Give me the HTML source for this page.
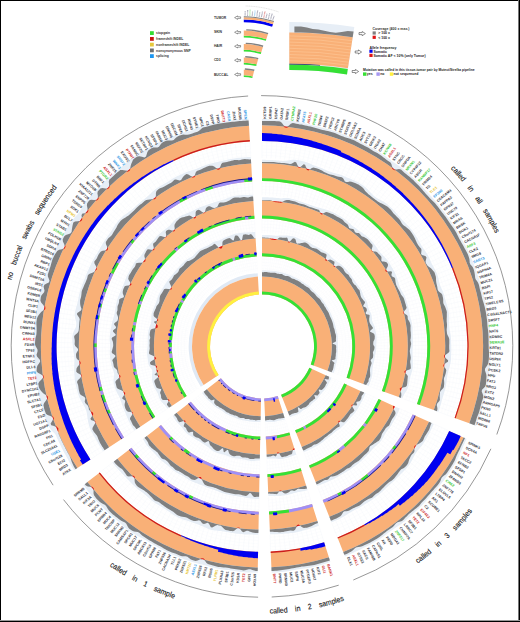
<!DOCTYPE html>
<html><head><meta charset="utf-8"><title>figure</title>
<style>
html,body{margin:0;padding:0;background:#fff}
body{width:520px;height:622px;overflow:hidden;position:relative;font-family:"Liberation Sans",sans-serif}
svg{position:absolute;left:0;top:0;display:block}
svg text{font-family:"Liberation Sans",sans-serif}
.bd{position:absolute;background:#000}
</style></head><body>
<svg width="520" height="622" viewBox="0 0 520 622">
<defs></defs>
<rect width="520" height="622" fill="#fff"/>
<g id="legend"><rect x="150" y="31.2" width="3.8" height="3.8" fill="#33DD33"/>
<text x="156.1" y="34.3" font-size="3.35" font-weight="bold" fill="#333">stopgain</text>
<rect x="150" y="37" width="3.8" height="3.8" fill="#C81414"/>
<text x="156.1" y="40.1" font-size="3.35" font-weight="bold" fill="#333">frameshift INDEL</text>
<rect x="150" y="42.7" width="3.8" height="3.8" fill="#E6C83C"/>
<text x="156.1" y="45.8" font-size="3.35" font-weight="bold" fill="#333">nonframeshift INDEL</text>
<rect x="150" y="48.5" width="3.8" height="3.8" fill="#707070"/>
<text x="156.1" y="51.6" font-size="3.35" font-weight="bold" fill="#333">nonsynonymous SNP</text>
<rect x="150" y="54.2" width="3.8" height="3.8" fill="#1E96F0"/>
<text x="156.1" y="57.3" font-size="3.35" font-weight="bold" fill="#333">splicing</text>
<text x="213.9" y="18.6" font-size="3.4" font-weight="bold" fill="#333">TUMOR</text>
<path d="M234.6 17.6L237.6 15.9L237.6 16.8L240.6 16.8L240.6 18.4L237.6 18.4L237.6 19.4Z" fill="#fff" stroke="#222" stroke-width="0.45"/>
<text x="213.9" y="33.2" font-size="3.4" font-weight="bold" fill="#333">SKIN</text>
<path d="M234.6 32.3L237.6 30.5L237.6 31.5L240.6 31.5L240.6 33.1L237.6 33.1L237.6 34Z" fill="#fff" stroke="#222" stroke-width="0.45"/>
<text x="213.9" y="47.2" font-size="3.4" font-weight="bold" fill="#333">HAIR</text>
<path d="M234.6 46.3L237.6 44.5L237.6 45.5L240.6 45.5L240.6 47.1L237.6 47.1L237.6 48Z" fill="#fff" stroke="#222" stroke-width="0.45"/>
<text x="213.9" y="61.2" font-size="3.4" font-weight="bold" fill="#333">CD3</text>
<path d="M234.6 60.3L237.6 58.5L237.6 59.5L240.6 59.5L240.6 61.1L237.6 61.1L237.6 62Z" fill="#fff" stroke="#222" stroke-width="0.45"/>
<text x="213.9" y="75.5" font-size="3.4" font-weight="bold" fill="#333">BUCCAL</text>
<path d="M234.6 74.5L237.6 72.8L237.6 73.7L240.6 73.7L240.6 75.3L237.6 75.3L237.6 76.2Z" fill="#fff" stroke="#222" stroke-width="0.45"/>
<path d="M243.8 19.4A92.1 92.1 0 0 1 273 24.2L272.1 26.8A89.3 89.3 0 0 0 243.8 22.2Z" fill="#0000F0"/>
<path d="M243.8 17.2A94.3 94.3 0 0 1 273.7 22.1L273 24.2A92.1 92.1 0 0 0 243.8 19.4Z" fill="#F9B077"/>
<path d="M243.8 16.2A95.3 95.3 0 0 1 274 21.1L273.7 22.1A94.3 94.3 0 0 0 243.8 17.2Z" fill="#808080"/>
<path d="M245.1 15.6L245.2 10.8" stroke="#446" stroke-width="1.1" stroke-dasharray="0.8 0.4" opacity="0.5"/>
<path d="M247.5 15.7L247.7 10.1" stroke="#446" stroke-width="1.1" stroke-dasharray="0.8 0.4" opacity="0.5"/>
<path d="M249.8 15.8L250.2 9.4" stroke="#3CCB3C" stroke-width="1.1" stroke-dasharray="0.8 0.4" opacity="0.5"/>
<path d="M252.2 16L252.6 11.2" stroke="#446" stroke-width="1.1" stroke-dasharray="0.8 0.4" opacity="0.5"/>
<path d="M254.5 16.2L255.1 10.6" stroke="#2E9BE6" stroke-width="1.1" stroke-dasharray="0.8 0.4" opacity="0.5"/>
<path d="M256.8 16.5L257.7 10.1" stroke="#446" stroke-width="1.1" stroke-dasharray="0.8 0.4" opacity="0.5"/>
<path d="M259.1 16.8L259.9 12.1" stroke="#446" stroke-width="1.1" stroke-dasharray="0.8 0.4" opacity="0.5"/>
<path d="M261.4 17.2L262.5 11.7" stroke="#446" stroke-width="1.1" stroke-dasharray="0.8 0.4" opacity="0.5"/>
<path d="M263.7 17.7L265.1 11.4" stroke="#C81E1E" stroke-width="1.1" stroke-dasharray="0.8 0.4" opacity="0.5"/>
<path d="M266 18.2L267.1 13.5" stroke="#446" stroke-width="1.1" stroke-dasharray="0.8 0.4" opacity="0.5"/>
<path d="M268.3 18.8L269.7 13.4" stroke="#446" stroke-width="1.1" stroke-dasharray="0.8 0.4" opacity="0.5"/>
<path d="M270.6 19.4L272.3 13.3" stroke="#446" stroke-width="1.1" stroke-dasharray="0.8 0.4" opacity="0.5"/>
<path d="M272.8 20.1L274.2 15.5" stroke="#446" stroke-width="1.1" stroke-dasharray="0.8 0.4" opacity="0.5"/>
<path d="M245.6 6A105.5 105.5 0 0 1 279 12.1" fill="none" stroke="#bbb" stroke-width="0.4" stroke-dasharray="1.2 0.5"/>
<path d="M243.8 35.8A75.7 75.7 0 0 1 266.3 39.2L265.8 40.8A74 74 0 0 0 243.8 37.5Z" fill="#35E035"/>
<path d="M243.8 30.6A80.9 80.9 0 0 1 267.9 34.3L266.3 39.2A75.7 75.7 0 0 0 243.8 35.8Z" fill="#F9B077"/>
<path d="M246.3 29.2A82.3 82.3 0 0 1 268.3 32.9L267.9 34.3A80.9 80.9 0 0 0 246.2 30.6Z" fill="#808080"/>
<path d="M243.8 49.8A61.7 61.7 0 0 1 261.3 52.3L260.8 54A60 60 0 0 0 243.8 51.5Z" fill="#35E035"/>
<path d="M243.8 44.1A67.4 67.4 0 0 1 262.9 46.9L261.3 52.3A61.7 61.7 0 0 0 243.8 49.8Z" fill="#F9B077"/>
<path d="M245.8 42.7A68.8 68.8 0 0 1 263.3 45.5L262.9 46.9A67.4 67.4 0 0 0 245.7 44.1Z" fill="#808080"/>
<path d="M243.8 62.7A48.8 48.8 0 0 1 256.7 64.4L256.2 66.1A47.1 47.1 0 0 0 243.8 64.4Z" fill="#35E035"/>
<path d="M243.8 57.4A54.1 54.1 0 0 1 258.1 59.3L256.7 64.4A48.8 48.8 0 0 0 243.8 62.7Z" fill="#F9B077"/>
<path d="M245.3 56A55.5 55.5 0 0 1 258.4 58L258.1 59.3A54.1 54.1 0 0 0 245.2 57.4Z" fill="#808080"/>
<path d="M243.8 75.3A36.2 36.2 0 0 1 252.7 76.4L252.3 78.1A34.5 34.5 0 0 0 243.8 77Z" fill="#35E035"/>
<path d="M243.8 69.7A41.8 41.8 0 0 1 254.1 71L252.7 76.4A36.2 36.2 0 0 0 243.8 75.3Z" fill="#F9B077"/>
<path d="M244.9 68.3A43.2 43.2 0 0 1 254.5 69.6L254.1 71A41.8 41.8 0 0 0 244.8 69.7Z" fill="#808080"/>
<path d="M289.3 22A425 425 0 0 1 354.3 27L347 74.4A377 377 0 0 0 289.3 70Z" fill="#E7EEF6"/>
<path d="M289.3 32.4A414.6 414.6 0 0 1 352.7 37.3L347.9 68.3A383.2 383.2 0 0 0 289.3 63.8Z" fill="#F9B077"/>
<path d="M289.3 60.7A386.3 386.3 0 0 1 348.4 65.2" fill="none" stroke="#FFD0A4" stroke-width="0.45"/>
<path d="M289.3 57.6A389.4 389.4 0 0 1 348.9 62.2" fill="none" stroke="#FFD0A4" stroke-width="0.45"/>
<path d="M289.3 54.5A392.5 392.5 0 0 1 349.3 59.1" fill="none" stroke="#FFD0A4" stroke-width="0.45"/>
<path d="M289.3 51.4A395.6 395.6 0 0 1 349.8 56.1" fill="none" stroke="#FFD0A4" stroke-width="0.45"/>
<path d="M289.3 48.3A398.7 398.7 0 0 1 350.3 53" fill="none" stroke="#FFD0A4" stroke-width="0.45"/>
<path d="M289.3 45.2A401.8 401.8 0 0 1 350.8 49.9" fill="none" stroke="#FFD0A4" stroke-width="0.45"/>
<path d="M289.3 42.1A404.9 404.9 0 0 1 351.2 46.9" fill="none" stroke="#FFD0A4" stroke-width="0.45"/>
<path d="M289.3 39A408 408 0 0 1 351.7 43.8" fill="none" stroke="#FFD0A4" stroke-width="0.45"/>
<path d="M289.3 35.9A411.1 411.1 0 0 1 352.2 40.7" fill="none" stroke="#FFD0A4" stroke-width="0.45"/>
<path d="M294.4 26.6L301 26.4L306.9 27.6L312.7 28.9L318.5 29.6L324.3 30.7L330 32L335.8 32.8L341.7 32.1L347.8 30.9L353.6 31.4L352.7 37.3L347 36.4L341.3 35.7L335.5 35L329.8 34.4L324 33.9L318.2 33.4L312.4 33L306.7 32.8L300.9 32.6L294.4 32.4Z" fill="#808080"/>
<path d="M289.3 64.4A382.6 382.6 0 0 1 347.8 68.9L347 74.4A377 377 0 0 0 289.3 70Z" fill="#35E035"/>
<path d="M289.3 63.7A383.3 383.3 0 0 1 320 64.9L320 65.6A382.6 382.6 0 0 0 289.3 64.4Z" fill="#10205a"/>
<path d="M359 32.6L362.2 32.6L362.2 31.5L365.4 33.6L362.2 35.7L362.2 34.6L359 34.6Z" fill="#fff" stroke="#222" stroke-width="0.5"/>
<path d="M355.2 51L358.4 51L358.4 49.9L361.6 52L358.4 54.1L358.4 53L355.2 53Z" fill="#fff" stroke="#222" stroke-width="0.5"/>
<path d="M352.2 70.5L355.4 70.5L355.4 69.4L358.6 71.5L355.4 73.6L355.4 72.5L352.2 72.5Z" fill="#fff" stroke="#222" stroke-width="0.5"/>
<text x="372.5" y="29.9" font-size="3.5" font-weight="bold" fill="#333">Coverage (400 x max.)</text>
<rect x="372.6" y="31.4" width="3.2" height="3.2" fill="#808080"/>
<text x="378.2" y="34.4" font-size="3.5" font-weight="bold" fill="#222">&gt; 100 x</text>
<rect x="372.6" y="35.7" width="3.2" height="3.2" fill="#E01515"/>
<text x="378.2" y="38.7" font-size="3.5" font-weight="bold" fill="#222">&lt; 100 x</text>
<text x="369.4" y="48.6" font-size="3.5" font-weight="bold" fill="#222">Allele frequency</text>
<rect x="369.4" y="49.6" width="3.2" height="3.2" fill="#0000F0"/>
<text x="373.4" y="52.6" font-size="3.5" font-weight="bold" fill="#222">Somatic</text>
<rect x="369.4" y="53.8" width="3.2" height="3.2" fill="#E01515"/>
<text x="373.4" y="56.8" font-size="3.5" font-weight="bold" fill="#222">Somatic AF &lt; 10% (only Tumor)</text>
<text x="363" y="70.8" font-size="3.5" font-weight="bold" fill="#222" textLength="111.5" lengthAdjust="spacingAndGlyphs">Mutation was called in this tissue-tumor pair by Mutect/Strelka pipeline</text>
<rect x="363" y="72.4" width="3.4" height="3.4" fill="#35E035"/>
<text x="366.8" y="75.4" font-size="3.5" font-weight="bold" fill="#222">yes</text>
<rect x="376.4" y="72.4" width="3.4" height="3.4" fill="#A596F2"/>
<text x="380.2" y="75.4" font-size="3.5" font-weight="bold" fill="#222">no</text>
<rect x="389.8" y="72.4" width="3.4" height="3.4" fill="#FFF040"/>
<text x="393.6" y="75.4" font-size="3.5" font-weight="bold" fill="#222">not sequenced</text></g>
<g id="main"><path d="M262 158L262 141.6M266.5 158.1L266.9 141.7M271.1 158.2L271.9 141.8M275.6 158.5L276.8 142.1M280.1 158.9L281.7 142.5M284.6 159.4L286.6 143.1M289.1 160L291.5 143.7M293.6 160.7L296.4 144.5M298.1 161.5L301.2 145.4M302.5 162.4L306 146.4M306.9 163.4L310.8 147.5M311.3 164.6L315.6 148.7M315.7 165.8L320.4 150.1M320 167.2L325.1 151.6M324.3 168.6L329.7 153.1M328.6 170.2L334.4 154.8M332.8 171.8L339 156.6M337 173.6L343.5 158.5M341.1 175.4L348 160.5M345.2 177.4L352.5 162.7M349.3 179.4L356.9 164.9M353.3 181.6L361.2 167.2M357.2 183.8L365.5 169.7M361.1 186.2L369.7 172.2M364.9 188.6L373.9 174.9M368.7 191.1L378 177.6M372.4 193.7L382 180.4M376 196.4L386 183.4M379.6 199.2L389.8 186.4M383.1 202.1L393.7 189.5M386.6 205L397.4 192.7M389.9 208.1L401.1 196M393.2 211.2L404.6 199.4M396.4 214.4L408.1 202.9M399.6 217.7L411.5 206.5M402.6 221L414.9 210.1M405.6 224.4L418.1 213.8M408.5 227.9L421.3 217.6M411.3 231.5L424.3 221.5M414 235.1L427.3 225.4M416.7 238.8L430.1 229.5M419.2 242.6L432.9 233.5M421.7 246.4L435.6 237.7M424 250.3L438.1 241.9M426.3 254.2L440.6 246.2M428.5 258.2L443 250.5M430.5 262.2L445.2 254.9M432.5 266.3L447.4 259.3M434.4 270.4L449.4 263.8M436.2 274.6L451.3 268.3M437.9 278.8L453.2 272.9M439.4 283.1L454.9 277.5M440.9 287.3L456.5 282.2M442.3 291.7L458 286.9M443.5 296L459.3 291.6M444.7 300.4L460.6 296.4M445.8 304.8L461.8 301.2M446.7 309.3L462.8 306M447.5 313.7L463.7 310.9M448.3 318.2L464.5 315.7M448.9 322.7L465.2 320.6M449.4 327.2L465.7 325.5M449.8 331.7L466.2 330.4M450.1 336.2L466.5 335.4M450.3 340.8L466.7 340.3M450.4 345.3L466.8 345.2M450.4 349.8L466.8 350.1M450.2 354.4L466.6 355.1M450 358.9L466.3 360M449.6 363.4L466 364.9M449.2 367.9L465.5 369.8M448.6 372.4L464.8 374.7M447.9 376.9L464.1 379.6M447.1 381.4L463.2 384.4M446.2 385.8L462.3 389.3M445.2 390.3L461.2 394.1M444.1 394.7L460 398.9M442.9 399L458.6 403.6M441.6 403.4L457.2 408.3M440.2 407.7L455.7 413M438.6 411.9L454 417.7M433.7 423.9L448.7 430.7M431.8 428L446.6 435.1M429.8 432.1L444.4 439.6M427.7 436.1L442.1 443.9M425.5 440.1L439.7 448.2M423.2 444L437.2 452.5M420.8 447.8L434.6 456.7M418.3 451.6L431.9 460.8M415.7 455.4L429.1 464.9M413 459L426.2 468.8M410.3 462.6L423.2 472.8M407.4 466.2L420.1 476.6M404.5 469.6L416.9 480.4M401.5 473L413.6 484.1M398.4 476.4L410.3 487.7M395.2 479.6L406.8 491.2M392 482.8L403.3 494.6M388.7 485.9L399.7 498M385.3 488.9L396 501.3M381.8 491.8L392.2 504.5M378.3 494.6L388.4 507.5M374.7 497.4L384.5 510.5M371 500.1L380.5 513.4M367.3 502.6L376.4 516.2M363.5 505.1L372.3 518.9M359.6 507.5L368.1 521.6M355.7 509.8L363.9 524.1M351.8 512L359.6 526.5M347.7 514.2L355.2 528.8M343.7 516.2L350.8 530.9M339.6 518.1L346.3 533M335.4 519.9L341.8 535M331.2 521.6L337.2 536.9M319 526L323.9 541.6M314.6 527.3L319.2 543M310.3 528.5L314.5 544.4M305.9 529.6L309.7 545.6M301.4 530.6L304.9 546.7M297 531.5L300 547.6M292.5 532.3L295.2 548.5M288 533L290.3 549.2M283.5 533.6L285.4 549.9M279 534L280.5 550.4M274.5 534.4L275.6 550.7M270 534.6L270.7 551M258.4 534.8L258.1 551.2M253.8 534.6L253.1 551M249.3 534.4L248.2 550.7M244.8 534L243.3 550.3M240.3 533.5L238.4 549.8M235.8 533L233.5 549.2M231.3 532.3L228.6 548.5M226.8 531.5L223.8 547.6M222.4 530.6L218.9 546.6M218 529.6L214.1 545.5M213.6 528.5L209.4 544.3M209.2 527.3L204.6 543M204.9 525.9L199.9 541.6M200.6 524.5L195.2 540M196.3 523L190.6 538.3M192.1 521.3L186 536.6M187.9 519.6L181.4 534.7M183.7 517.8L176.9 532.7M179.6 515.8L172.4 530.6M175.6 513.8L168 528.4M171.6 511.7L163.7 526.1M167.6 509.4L159.4 523.6M163.7 507.1L155.1 521.1M159.9 504.7L151 518.5M156.1 502.2L146.9 515.8M152.4 499.6L142.8 512.9M148.7 496.9L138.8 510M145.1 494.2L134.9 507M141.6 491.3L131.1 503.9M138.1 488.4L127.4 500.7M134.8 485.3L123.7 497.4M131.4 482.2L120.1 494.1M128.2 479.1L116.6 490.6M125.1 475.8L113.1 487.1M122 472.5L109.8 483.4M119 469L106.5 479.7M116.1 465.6L103.4 475.9M113.3 462L100.3 472.1M104.7 450.1L91 459.1M102.3 446.3L88.4 455M99.9 442.4L85.8 450.8M97.6 438.5L83.3 446.5M95.5 434.5L81 442.2M93.4 430.5L78.7 437.8M91.4 426.4L76.6 433.4M89.5 422.3L74.5 428.9M87.8 418.1L72.6 424.3M86.1 413.9L70.8 419.7M84.5 409.6L69.1 415.1M83.1 405.3L67.5 410.5M81.7 401L66 405.8M80.4 396.6L64.6 401M79.3 392.3L63.4 396.2M78.2 387.8L62.2 391.5M77.3 383.4L61.2 386.6M76.4 378.9L60.3 381.8M75.7 374.5L59.5 376.9M75.1 370L58.8 372M74.6 365.5L58.3 367.1M74.2 361L57.8 362.2M73.9 356.4L57.5 357.3M73.7 351.9L57.3 352.4M73.6 347.4L57.2 347.4M73.6 342.8L57.2 342.5M73.8 338.3L57.4 337.6M74 333.8L57.7 332.7M74.4 329.2L58.1 327.7M74.9 324.7L58.6 322.8M75.4 320.2L59.2 318M76.1 315.7L59.9 313.1M76.9 311.3L60.8 308.2M77.8 306.8L61.8 303.4M78.8 302.4L62.9 298.6M79.9 298L64.1 293.8M81.1 293.6L65.4 289M82.5 289.3L66.8 284.3M83.9 285L68.4 279.7M85.4 280.7L70 275M87 276.5L71.8 270.4M88.8 272.3L73.7 265.9M90.6 268.2L75.7 261.3M92.5 264.1L77.8 256.9M94.6 260L80 252.5M96.7 256L82.3 248.1M98.9 252L84.7 243.8M101.3 248.1L87.3 239.6M103.7 244.3L89.9 235.4M106.2 240.5L92.6 231.3M108.8 236.8L95.4 227.3M111.4 233.1L98.3 223.3M114.2 229.5L101.4 219.4M117.1 226L104.5 215.5M120 222.6L107.7 211.8M123 219.2L110.9 208.1M126.1 215.9L114.3 204.5M129.3 212.6L117.8 201M132.6 209.5L121.3 197.6M135.9 206.4L124.9 194.2M139.3 203.4L128.6 191M142.8 200.5L132.4 187.8M146.3 197.7L136.3 184.7M150 194.9L140.2 181.8M153.6 192.3L144.2 178.9M157.4 189.7L148.3 176.1M161.2 187.2L152.4 173.4M165 184.9L156.6 170.8M169 182.6L160.9 168.3M172.9 180.4L165.2 165.9M177 178.3L169.5 163.7M181 176.3L174 161.5M185.1 174.4L178.5 159.4M189.3 172.6L183 157.5M193.5 170.9L187.5 155.6M197.8 169.3L192.2 153.9M202 167.8L196.8 152.2M206.4 166.4L201.5 150.7M210.7 165.1L206.2 149.3M215.1 163.9L211 148.1M219.5 162.9L215.8 146.9M223.9 161.9L220.6 145.8M228.4 161L225.4 144.9M232.8 160.3L230.3 144.1M237.3 159.6L235.2 143.4M241.8 159.1L240.1 142.8M246.4 158.7L245 142.3M250.9 158.3L249.9 142" fill="none" stroke="#F0F2F8" stroke-width="0.34"/>
<path d="M262 195.4L262 181.7M265.6 195.4L266 181.7M269.3 195.6L269.9 181.9M272.9 195.8L273.9 182.1M276.5 196.1L277.8 182.5M280.1 196.5L281.8 182.9M283.7 197L285.7 183.4M287.3 197.5L289.6 184M290.9 198.2L293.5 184.7M294.5 198.9L297.4 185.6M298 199.8L301.3 186.5M301.5 200.7L305.1 187.4M305 201.7L308.9 188.5M308.5 202.7L312.7 189.7M311.9 203.9L316.5 191M315.4 205.1L320.2 192.3M318.7 206.5L323.9 193.8M322.1 207.9L327.5 195.3M325.4 209.4L331.2 196.9M328.7 210.9L334.7 198.6M331.9 212.6L338.3 200.4M335.1 214.3L341.8 202.3M338.3 216.1L345.2 204.3M341.4 218L348.6 206.3M344.5 219.9L352 208.4M347.5 221.9L355.3 210.6M350.5 224L358.5 212.9M353.4 226.2L361.7 215.3M356.3 228.4L364.8 217.7M359.1 230.7L367.9 220.2M361.8 233.1L370.9 222.8M364.5 235.5L373.8 225.5M367.2 238L376.7 228.2M369.7 240.6L379.5 231M372.3 243.2L382.3 233.9M374.7 245.9L384.9 236.8M377.1 248.7L387.5 239.8M379.4 251.5L390.1 242.8M381.7 254.3L392.5 246M383.9 257.2L394.9 249.1M386 260.2L397.2 252.4M388 263.2L399.4 255.6M390 266.2L401.6 259M391.9 269.3L403.6 262.4M393.7 272.5L405.6 265.8M395.4 275.7L407.5 269.3M397.1 278.9L409.3 272.8M398.7 282.2L411.1 276.4M400.2 285.5L412.7 280M401.6 288.8L414.3 283.6M402.9 292.2L415.7 287.3M404.2 295.6L417.1 291M405.4 299.1L418.4 294.8M406.5 302.5L419.6 298.6M407.5 306L420.7 302.4M408.4 309.5L421.7 306.2M409.3 313.1L422.6 310.1M410 316.6L423.5 313.9M410.7 320.2L424.2 317.8M411.3 323.8L424.8 321.7M411.8 327.4L425.4 325.7M412.2 331L425.8 329.6M412.5 334.6L426.2 333.6M412.8 338.3L426.5 337.5M412.9 341.9L426.6 341.5M413 345.5L426.7 345.4M413 349.2L426.7 349.4M412.9 352.8L426.6 353.4M412.7 356.4L426.3 357.3M412.4 360L426 361.3M412 363.7L425.6 365.2M411.6 367.3L425.1 369.2M411 370.9L424.5 373.1M410.4 374.4L423.8 377M409.7 378L423.1 380.9M408.9 381.6L422.2 384.7M408 385.1L421.2 388.6M407 388.6L420.1 392.4M405.9 392.1L419 396.2M404.8 395.5L417.7 400M403.6 398.9L416.4 403.7M399.6 408.5L412.1 414.2M398.1 411.8L410.4 417.8M396.5 415.1L408.7 421.3M394.8 418.3L406.8 424.8M393 421.5L404.9 428.3M391.2 424.6L402.9 431.7M389.2 427.7L400.8 435.1M387.2 430.7L398.6 438.4M385.2 433.7L396.4 441.7M383 436.7L394 444.9M380.8 439.6L391.6 448M378.6 442.4L389.1 451.1M376.2 445.2L386.6 454.1M373.8 447.9L383.9 457.1M371.3 450.6L381.2 460M368.8 453.2L378.5 462.8M366.2 455.7L375.6 465.6M363.5 458.2L372.7 468.3M360.8 460.6L369.8 470.9M358 462.9L366.7 473.5M355.2 465.2L363.6 476M352.3 467.4L360.5 478.4M349.4 469.6L357.3 480.7M346.4 471.6L354 483M343.3 473.6L350.7 485.2M340.3 475.5L347.3 487.3M337.1 477.4L343.9 489.3M333.9 479.2L340.5 491.2M330.7 480.9L337 493.1M327.5 482.5L333.4 494.8M324.2 484L329.8 496.5M320.8 485.5L326.2 498.1M317.5 486.8L322.5 499.6M307.7 490.3L311.8 503.4M304.2 491.4L308 504.5M300.7 492.4L304.2 505.6M297.2 493.3L300.3 506.6M293.6 494.1L296.5 507.5M290 494.8L292.6 508.2M286.5 495.4L288.7 508.9M282.9 496L284.8 509.5M279.3 496.4L280.8 510M275.6 496.8L276.9 510.4M272 497.1L272.9 510.7M268.4 497.3L269 511M259.1 497.4L258.8 511.1M255.5 497.3L254.9 510.9M251.8 497.1L250.9 510.7M248.2 496.8L247 510.4M244.6 496.4L243 510M241 495.9L239.1 509.5M237.4 495.4L235.2 508.9M233.8 494.7L231.3 508.2M230.3 494L227.4 507.4M226.7 493.2L223.5 506.5M223.2 492.3L219.7 505.6M219.7 491.3L215.8 504.5M216.2 490.3L212.1 503.3M212.8 489.1L208.3 502.1M209.3 487.9L204.6 500.8M205.9 486.6L200.9 499.3M202.6 485.2L197.2 497.8M199.3 483.7L193.6 496.2M196 482.2L190 494.5M192.7 480.6L186.4 492.7M189.5 478.9L182.9 490.9M186.3 477.1L179.5 488.9M183.2 475.2L176.1 486.9M180.1 473.3L172.7 484.8M177.1 471.3L169.4 482.6M174.1 469.2L166.2 480.3M171.2 467L163 478M168.3 464.8L159.8 475.6M165.5 462.5L156.7 473.1M162.7 460.2L153.7 470.5M160 457.8L150.8 467.9M157.4 455.3L147.9 465.1M154.8 452.7L145 462.4M152.2 450.1L142.3 459.5M149.8 447.4L139.6 456.6M147.4 444.7L137 453.6M145 441.9L134.4 450.6M142.8 439.1L132 447.5M135.9 429.5L124.5 437.1M134 426.5L122.4 433.7M132.1 423.4L120.3 430.3M130.3 420.2L118.3 426.9M128.5 417L116.4 423.4M126.9 413.8L114.6 419.9M125.3 410.5L112.9 416.3M123.8 407.2L111.2 412.7M122.4 403.9L109.7 409.1M121 400.5L108.2 405.4M119.8 397.1L106.8 401.7M118.6 393.6L105.6 397.9M117.5 390.2L104.4 394.1M116.5 386.7L103.3 390.3M115.5 383.2L102.3 386.5M114.7 379.6L101.3 382.6M113.9 376.1L100.5 378.8M113.3 372.5L99.8 374.9M112.7 368.9L99.1 370.9M112.2 365.3L98.6 367M111.8 361.7L98.1 363.1M111.5 358.1L97.8 359.1M111.2 354.4L97.5 355.2M111.1 350.8L97.4 351.2M111 347.2L97.3 347.2M111 343.5L97.3 343.3M111.1 339.9L97.5 339.3M111.3 336.3L97.7 335.4M111.6 332.6L98 331.4M112 329L98.4 327.5M112.5 325.4L98.9 323.5M113 321.8L99.5 319.6M113.6 318.3L100.2 315.7M114.4 314.7L101 311.8M115.2 311.1L101.9 307.9M116.1 307.6L102.8 304.1M117 304.1L103.9 300.3M118.1 300.6L105 296.5M119.2 297.2L106.3 292.7M120.5 293.8L107.6 289M121.8 290.4L109.1 285.3M123.2 287L110.6 281.6M124.6 283.7L112.2 278M126.2 280.4L113.9 274.4M127.8 277.1L115.6 270.9M129.5 273.9L117.5 267.4M131.3 270.8L119.4 263.9M133.2 267.6L121.5 260.5M135.1 264.6L123.6 257.1M137.1 261.5L125.8 253.8M139.2 258.6L128 250.6M141.3 255.6L130.4 247.4M143.6 252.7L132.8 244.2M145.8 249.9L135.3 241.2M148.2 247.2L137.9 238.1M150.6 244.4L140.5 235.2M153.1 241.8L143.2 232.3M155.7 239.2L146 229.5M158.3 236.7L148.9 226.7M160.9 234.2L151.8 224M163.7 231.8L154.8 221.4M166.5 229.5L157.8 218.9M169.3 227.2L160.9 216.4M172.2 225L164.1 214M175.1 222.9L167.3 211.7M178.1 220.8L170.5 209.4M181.2 218.8L173.9 207.3M184.3 216.9L177.2 205.2M187.4 215.1L180.7 203.2M190.6 213.3L184.1 201.3M193.8 211.7L187.7 199.4M197.1 210.1L191.2 197.7M200.4 208.5L194.8 196M203.7 207.1L198.5 194.5M207.1 205.7L202.1 193M210.5 204.5L205.8 191.6M213.9 203.3L209.6 190.3M217.4 202.1L213.4 189M220.9 201.1L217.2 187.9M224.4 200.2L221 186.9M227.9 199.3L224.8 185.9M231.5 198.5L228.7 185.1M235.1 197.8L232.6 184.3M238.6 197.2L236.5 183.7M242.2 196.7L240.4 183.1M245.8 196.3L244.4 182.6M249.5 195.9L248.3 182.3M253.1 195.7L252.3 182" fill="none" stroke="#F0F2F8" stroke-width="0.28"/>
<path d="M262 233.1L262 219.1M264.7 233.1L265.1 219.1M267.5 233.2L268.1 219.2M270.2 233.4L271.2 219.4M272.9 233.6L274.2 219.7M275.6 233.9L277.3 220M278.3 234.3L280.3 220.4M281 234.7L283.4 220.9M283.7 235.2L286.4 221.5M286.4 235.7L289.4 222.1M289 236.4L292.4 222.8M291.7 237.1L295.3 223.5M294.3 237.8L298.3 224.4M296.9 238.6L301.2 225.3M299.5 239.5L304.1 226.3M302 240.4L307 227.3M304.6 241.4L309.8 228.4M307.1 242.5L312.7 229.6M309.6 243.6L315.5 230.9M312 244.7L318.2 232.2M314.5 246L321 233.6M316.9 247.3L323.7 235M319.2 248.6L326.3 236.5M321.6 250L328.9 238.1M323.9 251.5L331.5 239.8M326.2 253L334.1 241.5M328.4 254.6L336.6 243.2M330.6 256.2L339 245.1M332.7 257.9L341.5 246.9M334.8 259.6L343.8 248.9M336.9 261.4L346.2 250.9M338.9 263.2L348.4 252.9M340.9 265.1L350.7 255.1M342.8 267L352.8 257.2M344.7 269L355 259.4M346.6 271L357 261.7M348.4 273.1L359 264M350.1 275.2L361 266.4M351.8 277.3L362.9 268.8M353.4 279.5L364.7 271.2M355 281.7L366.5 273.7M356.5 284L368.2 276.2M358 286.3L369.9 278.8M359.4 288.6L371.5 281.4M360.8 290.9L373 284.1M362.1 293.3L374.5 286.8M363.4 295.8L375.9 289.5M364.5 298.2L377.2 292.3M365.7 300.7L378.5 295.1M366.7 303.2L379.7 297.9M367.8 305.8L380.8 300.7M368.7 308.3L381.9 303.6M369.6 310.9L382.9 306.5M370.4 313.5L383.8 309.4M371.2 316.1L384.7 312.4M371.9 318.7L385.4 315.3M372.5 321.4L386.2 318.3M373.1 324.1L386.8 321.3M373.6 326.7L387.4 324.3M374 329.4L387.9 327.3M374.4 332.1L388.3 330.4M374.7 334.9L388.6 333.4M375 337.6L388.9 336.5M375.1 340.3L389.1 339.5M375.2 343L389.2 342.6M375.3 345.7L389.3 345.7M375.3 348.5L389.3 348.7M375.2 351.2L389.2 351.8M375.1 353.9L389 354.8M374.8 356.6L388.8 357.9M374.6 359.4L388.5 361M374.2 362.1L388.1 364M373.8 364.8L387.6 367M373.3 367.4L387.1 370M372.8 370.1L386.5 373M372.2 372.8L385.8 376M371.5 375.4L385.1 379M370.8 378.1L384.2 382M370 380.7L383.3 384.9M369.1 383.3L382.4 387.8M368.2 385.8L381.3 390.7M365.3 393L378 398.8M364.1 395.5L376.7 401.6M362.9 397.9L375.4 404.3M361.6 400.4L373.9 407M360.3 402.7L372.4 409.7M358.9 405.1L370.9 412.3M357.5 407.4L369.3 414.9M356 409.7L367.6 417.5M354.4 411.9L365.8 420M352.8 414.1L364 422.5M351.2 416.3L362.2 424.9M349.5 418.4L360.3 427.3M347.7 420.5L358.3 429.7M345.9 422.6L356.3 432M344 424.6L354.2 434.2M342.1 426.5L352 436.4M340.2 428.4L349.8 438.5M338.2 430.3L347.6 440.6M336.1 432.1L345.3 442.7M334.1 433.8L343 444.6M331.9 435.5L340.6 446.6M329.8 437.2L338.1 448.4M327.6 438.8L335.7 450.2M325.3 440.4L333.1 452M323 441.9L330.6 453.7M320.7 443.3L328 455.3M318.4 444.7L325.3 456.8M316 446L322.7 458.3M313.6 447.3L319.9 459.8M311.1 448.5L317.2 461.1M308.7 449.6L314.4 462.4M306.2 450.7L311.6 463.6M303.6 451.8L308.8 464.8M296.3 454.4L300.5 467.7M293.6 455.2L297.6 468.6M291 455.9L294.6 469.5M288.4 456.6L291.6 470.2M285.7 457.2L288.6 470.9M283 457.7L285.6 471.5M280.4 458.2L282.6 472M277.7 458.6L279.6 472.5M275 459L276.6 472.9M272.2 459.2L273.5 473.2M269.5 459.5L270.4 473.4M266.8 459.6L267.4 473.6M259.8 459.7L259.6 473.7M257.1 459.6L256.5 473.6M254.4 459.4L253.4 473.4M251.7 459.2L250.4 473.2M248.9 458.9L247.3 472.9M246.2 458.6L244.3 472.5M243.5 458.2L241.3 472M240.9 457.7L238.2 471.5M238.2 457.2L235.2 470.9M235.5 456.6L232.2 470.2M232.9 455.9L229.3 469.4M230.2 455.2L226.3 468.6M227.6 454.4L223.4 467.7M225.1 453.5L220.5 466.7M222.5 452.6L217.6 465.7M219.9 451.6L214.7 464.6M217.4 450.6L211.9 463.4M214.9 449.5L209.1 462.2M212.5 448.3L206.3 460.9M210 447.1L203.6 459.5M207.6 445.8L200.9 458.1M205.2 444.5L198.2 456.6M202.9 443.1L195.6 455M200.6 441.6L193 453.4M198.3 440.1L190.4 451.7M196.1 438.5L187.9 449.9M193.9 436.9L185.4 448.1M191.7 435.3L183 446.2M189.6 433.5L180.6 444.3M187.5 431.8L178.3 442.3M185.5 430L176 440.3M183.5 428.1L173.8 438.2M181.5 426.2L171.6 436M179.6 424.2L169.5 433.8M177.8 422.2L167.4 431.6M176 420.2L165.4 429.3M174.2 418.1L163.4 426.9M172.5 415.9L161.5 424.5M167.4 408.8L155.7 416.5M165.9 406.5L154.1 413.9M164.5 404.1L152.5 411.3M163.2 401.8L150.9 408.6M161.9 399.4L149.5 405.9M160.6 397L148.1 403.2M159.4 394.5L146.7 400.4M158.3 392L145.5 397.7M157.2 389.5L144.3 394.8M156.2 387L143.1 392M155.3 384.4L142.1 389.1M154.4 381.8L141.1 386.2M153.6 379.2L140.2 383.3M152.8 376.6L139.3 380.3M152.1 374L138.5 377.4M151.5 371.3L137.8 374.4M150.9 368.7L137.2 371.4M150.4 366L136.6 368.4M150 363.3L136.1 365.4M149.6 360.6L135.7 362.3M149.3 357.9L135.4 359.3M149 355.2L135.1 356.2M148.9 352.4L134.9 353.2M148.7 349.7L134.8 350.1M148.7 347L134.7 347M148.7 344.2L134.7 344M148.8 341.5L134.8 340.9M149 338.8L135 337.9M149.2 336.1L135.2 334.8M149.5 333.4L135.5 331.8M149.8 330.7L135.9 328.7M150.2 328L136.4 325.7M150.7 325.3L136.9 322.7M151.2 322.6L137.5 319.7M151.8 319.9L138.2 316.7M152.5 317.3L139 313.7M153.2 314.7L139.8 310.8M154 312.1L140.7 307.8M154.9 309.5L141.7 304.9M155.8 306.9L142.7 302M156.8 304.4L143.8 299.2M157.8 301.8L145 296.3M158.9 299.3L146.2 293.5M160.1 296.9L147.5 290.8M161.3 294.4L148.9 288M162.6 292L150.3 285.3M163.9 289.7L151.8 282.6M165.3 287.3L153.4 280M166.8 285L155 277.4M168.3 282.7L156.7 274.9M169.8 280.5L158.5 272.3M171.5 278.3L160.3 269.9M173.1 276.1L162.1 267.4M174.8 274L164.1 265.1M176.6 271.9L166.1 262.7M178.4 269.9L168.1 260.4M180.3 267.9L170.2 258.2M182.2 266L172.3 256M184.2 264.1L174.6 253.9M186.2 262.2L176.8 251.8M188.2 260.4L179.1 249.8M190.3 258.7L181.5 247.8M192.4 257L183.9 245.9M194.6 255.3L186.3 244.1M196.8 253.7L188.8 242.3M199.1 252.2L191.3 240.5M201.4 250.7L193.9 238.9M203.7 249.3L196.5 237.3M206 247.9L199.1 235.7M208.4 246.6L201.8 234.2M210.9 245.3L204.5 232.8M213.3 244.1L207.3 231.5M215.8 243L210.1 230.2M218.3 241.9L212.9 229M220.8 240.9L215.7 227.8M223.4 239.9L218.6 226.7M225.9 239L221.5 225.7M228.5 238.2L224.4 224.8M231.2 237.4L227.3 223.9M233.8 236.7L230.3 223.1M236.4 236L233.3 222.4M239.1 235.4L236.3 221.7M241.8 234.9L239.3 221.1M244.5 234.5L242.3 220.6M247.2 234.1L245.3 220.2M249.9 233.8L248.4 219.8M252.6 233.5L251.4 219.5M255.3 233.3L254.5 219.3" fill="none" stroke="#F0F2F8" stroke-width="0.2"/>
<path d="M262 271.3L262 256.8M263.8 271.3L264.2 256.8M265.6 271.4L266.3 256.9M267.4 271.5L268.5 257M269.2 271.6L270.6 257.2M271 271.8L272.8 257.4M272.8 272.1L274.9 257.7M274.6 272.4L277 258.1M276.4 272.7L279.2 258.5M278.1 273.1L281.3 258.9M279.9 273.5L283.4 259.4M281.7 273.9L285.5 259.9M283.4 274.4L287.5 260.5M285.1 274.9L289.6 261.2M286.8 275.5L291.6 261.8M288.5 276.1L293.7 262.6M290.2 276.8L295.7 263.4M291.9 277.5L297.7 264.2M293.5 278.2L299.6 265.1M295.2 279L301.6 266M296.8 279.8L303.5 267M298.4 280.7L305.4 268M299.9 281.6L307.3 269.1M301.5 282.5L309.1 270.2M303 283.5L310.9 271.3M304.5 284.5L312.7 272.5M306 285.5L314.5 273.8M307.5 286.6L316.2 275.1M308.9 287.7L317.9 276.4M310.3 288.9L319.6 277.8M311.6 290.1L321.2 279.2M313 291.3L322.8 280.6M314.3 292.5L324.4 282.1M315.6 293.8L325.9 283.6M316.8 295.1L327.4 285.2M318.1 296.4L328.9 286.8M319.2 297.8L330.3 288.4M320.4 299.2L331.7 290.1M321.5 300.6L333 291.8M322.6 302L334.3 293.5M323.7 303.5L335.6 295.2M324.7 305L336.8 297M325.6 306.5L337.9 298.8M326.6 308.1L339.1 300.7M327.5 309.6L340.1 302.5M328.4 311.2L341.2 304.4M329.2 312.8L342.2 306.4M330 314.5L343.1 308.3M330.7 316.1L344 310.3M331.4 317.8L344.8 312.2M332.1 319.5L345.6 314.3M332.7 321.2L346.4 316.3M333.3 322.9L347.1 318.3M333.9 324.6L347.7 320.4M334.4 326.3L348.3 322.4M334.8 328.1L348.9 324.5M335.2 329.8L349.4 326.6M335.6 331.6L349.8 328.7M336 333.4L350.2 330.9M336.3 335.2L350.6 333M336.5 336.9L350.9 335.1M336.7 338.7L351.1 337.3M336.9 340.5L351.3 339.4M337 342.3L351.5 341.6M337.1 344.2L351.6 343.7M337.1 346L351.6 345.9M337.1 347.8L351.6 348M337 349.6L351.5 350.2M336.9 351.4L351.4 352.3M336.8 353.2L351.2 354.5M336.6 355L351 356.6M336.4 356.8L350.7 358.8M336.1 358.6L350.4 360.9M335.8 360.3L350 363M335.4 362.1L349.6 365.2M335 363.9L349.1 367.3M334.6 365.6L348.6 369.4M334.1 367.4L348 371.4M333.6 369.1L347.4 373.5M333 370.8L346.7 375.5M332.4 372.5L346 377.6M330.4 377.3L343.7 383.3M329.7 378.9L342.8 385.2M328.9 380.6L341.8 387.2M328 382.2L340.8 389.1M327.2 383.7L339.7 391M326.2 385.3L338.6 392.8M325.3 386.8L337.5 394.6M324.3 388.3L336.3 396.4M323.3 389.8L335.1 398.2M322.2 391.3L333.8 400M321.1 392.7L332.5 401.7M320 394.1L331.2 403.4M318.8 395.5L329.8 405M317.6 396.9L328.3 406.6M316.4 398.2L326.9 408.2M315.1 399.5L325.4 409.7M313.8 400.8L323.8 411.3M312.5 402L322.2 412.7M311.1 403.2L320.6 414.2M309.8 404.4L319 415.5M308.3 405.5L317.3 416.9M306.9 406.6L315.6 418.2M305.5 407.7L313.8 419.5M304 408.7L312.1 420.7M302.5 409.7L310.3 421.9M300.9 410.6L308.4 423M299.4 411.5L306.6 424.1M297.8 412.4L304.7 425.2M296.2 413.3L302.8 426.2M294.6 414.1L300.8 427.1M292.9 414.8L298.9 428.1M291.3 415.6L296.9 428.9M289.6 416.2L294.9 429.7M284.7 418L289.1 431.8M283 418.5L287 432.4M281.2 419L284.9 433M279.5 419.4L282.9 433.5M277.7 419.8L280.8 434M275.9 420.2L278.6 434.4M274.2 420.5L276.5 434.8M272.4 420.8L274.4 435.1M270.6 421L272.2 435.4M268.8 421.2L270.1 435.6M267 421.3L267.9 435.8M265.2 421.4L265.8 435.9M260.6 421.5L260.3 436M258.8 421.4L258.1 435.9M256.9 421.3L256 435.8M255.1 421.2L253.8 435.6M253.3 421L251.7 435.4M251.6 420.8L249.5 435.1M249.8 420.5L247.4 434.8M248 420.2L245.3 434.4M246.2 419.8L243.2 434M244.4 419.4L241.1 433.5M242.7 419L239 433M241 418.5L236.9 432.4M239.2 418L234.8 431.8M237.5 417.4L232.8 431.1M235.8 416.8L230.7 430.4M234.1 416.1L228.7 429.6M232.4 415.4L226.7 428.8M230.8 414.7L224.8 427.9M229.2 413.9L222.8 427M227.5 413.1L220.9 426M225.9 412.3L219 425M224.4 411.4L217.1 423.9M222.8 410.5L215.3 422.8M221.3 409.5L213.4 421.7M219.8 408.5L211.6 420.5M218.3 407.5L209.9 419.3M216.8 406.4L208.1 418M215.4 405.3L206.4 416.7M214 404.2L204.7 415.3M212.6 403L203.1 413.9M211.3 401.8L201.5 412.5M210 400.5L199.9 411M208.7 399.3L198.4 409.5M207.4 398L196.9 407.9M206.2 396.6L195.4 406.4M205 395.3L194 404.7M203.8 393.9L192.6 403.1M202.7 392.5L191.3 401.4M199.3 387.7L187.2 395.7M198.3 386.2L186 393.9M197.4 384.7L184.9 392.1M196.5 383.1L183.8 390.2M195.6 381.5L182.8 388.3M194.8 379.9L181.8 386.4M194 378.3L180.9 384.4M193.3 376.6L180 382.5M192.5 375L179.1 380.5M191.9 373.3L178.3 378.5M191.3 371.6L177.6 376.5M190.7 369.9L176.9 374.4M190.1 368.2L176.2 372.4M189.6 366.4L175.6 370.3M189.2 364.7L175.1 368.2M188.7 362.9L174.6 366.1M188.4 361.2L174.1 364M188 359.4L173.7 361.9M187.7 357.6L173.4 359.8M187.5 355.8L173.1 357.6M187.3 354L172.9 355.5M187.1 352.2L172.7 353.3M187 350.4L172.5 351.2M186.9 348.6L172.4 349M186.9 346.8L172.4 346.9M186.9 345L172.4 344.7M187 343.2L172.5 342.5M187.1 341.4L172.6 340.4M187.2 339.6L172.8 338.2M187.4 337.8L173 336.1M187.6 336L173.3 334M187.9 334.2L173.6 331.8M188.2 332.4L174 329.7M188.6 330.6L174.4 327.6M189 328.9L174.9 325.5M189.4 327.1L175.4 323.4M189.9 325.4L176 321.3M190.4 323.6L176.6 319.2M191 321.9L177.3 317.2M191.6 320.2L178 315.2M192.3 318.5L178.8 313.2M193 316.9L179.6 311.2M193.7 315.2L180.5 309.2M194.5 313.6L181.4 307.2M195.3 312L182.4 305.3M196.1 310.4L183.4 303.4M197 308.8L184.4 301.5M197.9 307.2L185.6 299.7M198.9 305.7L186.7 297.8M199.9 304.2L187.9 296M200.9 302.7L189.1 294.3M202 301.3L190.4 292.5M203.1 299.8L191.7 290.8M204.2 298.4L193.1 289.2M205.4 297L194.5 287.5M206.6 295.7L195.9 285.9M207.8 294.4L197.4 284.3M209.1 293.1L198.9 282.8M210.4 291.8L200.4 281.3M211.7 290.6L202 279.8M213.1 289.4L203.7 278.4M214.5 288.2L205.3 277M215.9 287.1L207 275.7M217.3 286L208.7 274.4M218.8 285L210.5 273.1M220.3 283.9L212.2 271.9M221.8 283L214.1 270.7M223.4 282L215.9 269.6M224.9 281.1L217.8 268.5M226.5 280.2L219.6 267.4M228.1 279.4L221.6 266.4M229.7 278.6L223.5 265.5M231.4 277.8L225.4 264.6M233 277.1L227.4 263.7M234.7 276.4L229.4 262.9M236.4 275.8L231.4 262.2M238.1 275.2L233.5 261.5M239.8 274.7L235.5 260.8M241.6 274.1L237.6 260.2M243.3 273.7L239.7 259.6M245.1 273.2L241.8 259.1M246.8 272.8L243.9 258.6M248.6 272.5L246 258.2M250.4 272.2L248.1 257.9M252.2 271.9L250.3 257.6M254 271.7L252.4 257.3M255.8 271.6L254.6 257.1M257.6 271.4L256.7 257" fill="none" stroke="#F0F2F8" stroke-width="0.14"/>
<path d="M262 155.4A191 191 0 0 1 441.1 412.9M262 152.2A194.2 194.2 0 0 1 444.1 414M262 149A197.4 197.4 0 0 1 447.1 415.1M262 145.8A200.6 200.6 0 0 1 450.1 416.2M262 142.6A203.8 203.8 0 0 1 453.1 417.3M436.1 425A191 191 0 0 1 332.2 524M439 426.3A194.2 194.2 0 0 1 333.4 527M441.9 427.6A197.4 197.4 0 0 1 334.5 530M444.8 428.9A200.6 200.6 0 0 1 335.7 533M447.7 430.3A203.8 203.8 0 0 1 336.9 535.9M319.8 528.5A191 191 0 0 1 270.1 537.2M320.7 531.5A194.2 194.2 0 0 1 270.2 540.4M321.7 534.6A197.4 197.4 0 0 1 270.4 543.6M322.7 537.6A200.6 200.6 0 0 1 270.5 546.8M323.6 540.7A203.8 203.8 0 0 1 270.6 550M258.3 537.4A191 191 0 0 1 111.2 463.6M258.3 540.6A194.2 194.2 0 0 1 108.7 465.6M258.2 543.8A197.4 197.4 0 0 1 106.1 467.5M258.1 547A200.6 200.6 0 0 1 103.6 469.5M258.1 550.2A203.8 203.8 0 0 1 101.1 471.5M102.5 451.5A191 191 0 0 1 250.7 155.7M99.9 453.3A194.2 194.2 0 0 1 250.5 152.5M97.2 455.1A197.4 197.4 0 0 1 250.3 149.3M94.5 456.8A200.6 200.6 0 0 1 250.2 146.1M91.9 458.6A203.8 203.8 0 0 1 250 143" fill="none" stroke="#F5F7FB" stroke-width="0.3"/>
<path d="M262 192.8A153.6 153.6 0 0 1 406 399.8M262 189.6A156.8 156.8 0 0 1 409 401M262 186.4A160 160 0 0 1 412 402.1M262 183.2A163.2 163.2 0 0 1 415 403.2M402 409.6A153.6 153.6 0 0 1 318.4 489.3M404.9 410.9A156.8 156.8 0 0 1 319.6 492.2M407.8 412.2A160 160 0 0 1 320.8 495.2M410.7 413.6A163.2 163.2 0 0 1 322 498.2M308.4 492.8A153.6 153.6 0 0 1 268.5 499.9M309.4 495.9A156.8 156.8 0 0 1 268.6 503.1M310.4 498.9A160 160 0 0 1 268.8 506.3M311.3 502A163.2 163.2 0 0 1 268.9 509.5M259.1 500A153.6 153.6 0 0 1 140.7 440.7M259 503.2A156.8 156.8 0 0 1 138.2 442.6M258.9 506.4A160 160 0 0 1 135.7 444.6M258.9 509.6A163.2 163.2 0 0 1 133.1 446.6M133.8 431A153.6 153.6 0 0 1 252.9 193.1M131.1 432.7A156.8 156.8 0 0 1 252.7 189.9M128.4 434.5A160 160 0 0 1 252.6 186.7M125.8 436.2A163.2 163.2 0 0 1 252.4 183.5" fill="none" stroke="#F5F7FB" stroke-width="0.3"/>
<path d="M262 230.5A115.9 115.9 0 0 1 370.7 386.7M262 227.3A119.1 119.1 0 0 1 373.7 387.8M262 224.1A122.3 122.3 0 0 1 376.7 389M262 220.9A125.5 125.5 0 0 1 379.7 390.1M367.6 394.1A115.9 115.9 0 0 1 304.6 454.2M370.5 395.4A119.1 119.1 0 0 1 305.8 457.2M373.5 396.7A122.3 122.3 0 0 1 306.9 460.1M376.4 398A125.5 125.5 0 0 1 308.1 463.1M297 456.9A115.9 115.9 0 0 1 266.9 462.2M298 459.9A119.1 119.1 0 0 1 267 465.4M299 463A122.3 122.3 0 0 1 267.2 468.6M299.9 466A125.5 125.5 0 0 1 267.3 471.8M259.8 462.3A115.9 115.9 0 0 1 170.5 417.5M259.7 465.5A119.1 119.1 0 0 1 168 419.5M259.7 468.7A122.3 122.3 0 0 1 165.4 421.5M259.6 471.9A125.5 125.5 0 0 1 162.9 423.4M165.2 410.2A115.9 115.9 0 0 1 255.2 230.7M162.6 412A119.1 119.1 0 0 1 255 227.5M159.9 413.7A122.3 122.3 0 0 1 254.8 224.3M157.2 415.5A125.5 125.5 0 0 1 254.6 221.1" fill="none" stroke="#F5F7FB" stroke-width="0.3"/>
<path d="M262 268.7A77.7 77.7 0 0 1 334.8 373.4M262 265.5A80.9 80.9 0 0 1 337.8 374.5M262 262.3A84.1 84.1 0 0 1 340.8 375.7M262 259.1A87.3 87.3 0 0 1 343.8 376.8M332.8 378.4A77.7 77.7 0 0 1 290.5 418.7M335.7 379.7A80.9 80.9 0 0 1 291.7 421.6M338.6 381A84.1 84.1 0 0 1 292.9 424.6M341.6 382.3A87.3 87.3 0 0 1 294.1 427.6M285.5 420.5A77.7 77.7 0 0 1 265.3 424M286.5 423.5A80.9 80.9 0 0 1 265.4 427.2M287.4 426.6A84.1 84.1 0 0 1 265.6 430.4M288.4 429.6A87.3 87.3 0 0 1 265.7 433.6M260.5 424.1A77.7 77.7 0 0 1 200.7 394.1M260.4 427.3A80.9 80.9 0 0 1 198.1 396M260.4 430.5A84.1 84.1 0 0 1 195.6 398M260.3 433.7A87.3 87.3 0 0 1 193.1 400M197.1 389.2A77.7 77.7 0 0 1 257.4 268.8M194.5 390.9A80.9 80.9 0 0 1 257.2 265.6M191.8 392.7A84.1 84.1 0 0 1 257 262.4M189.1 394.5A87.3 87.3 0 0 1 256.8 259.3" fill="none" stroke="#F5F7FB" stroke-width="0.3"/>
<path d="M262 119.1L263.8 119.1L265.6 119.1L267.5 119.2L269.3 119.2L271.1 119.2L272.9 119.3L274.8 119.4L276.6 119.5L278.4 119.6L280.2 119.7L282 119.9L283.9 120.1L285.7 120.2L287.5 120.4L289.3 120.6L291.1 120.9L292.9 121.1L294.7 121.4L296.5 121.7L298.3 122.1L300.1 122.4L301.9 122.8L303.7 123.2L305.5 123.6L307.2 124L309 124.4L310.8 124.8L312.6 125.2L314.3 125.6L316.1 126.1L317.9 126.5L319.6 126.9L321.4 127.4L323.2 127.8L324.9 128.2L326.7 128.7L328.5 129.2L330.2 129.7L332 130.2L333.7 130.8L335.4 131.3L337.2 131.9L338.9 132.6L340.6 133.2L342.3 133.8L344 134.4L345.7 135.1L347.4 135.7L349.1 136.4L350.8 137.1L352.5 137.7L354.2 138.5L355.9 139.2L357.5 140L359.1 140.8L360.8 141.6L362.4 142.5L364 143.3L365.6 144.2L367.2 145.1L368.8 145.9L370.4 146.8L372 147.7L373.6 148.6L375.1 149.6L376.7 150.5L378.2 151.5L379.8 152.5L381.3 153.5L382.8 154.5L384.3 155.5L385.8 156.6L387.2 157.7L388.7 158.7L390.2 159.8L391.6 160.9L393.1 161.9L394.7 162.9L396.2 163.9L397.7 165L399.1 166L400.6 167.1L402.1 168.2L403.5 169.3L404.9 170.5L406.3 171.6L407.7 172.8L409 174L410.4 175.2L411.8 176.4L413.1 177.6L414.5 178.9L415.8 180.1L417.1 181.4L418.4 182.6L419.7 183.9L420.9 185.2L422.2 186.6L423.4 187.9L424.6 189.3L425.8 190.6L427.1 191.9L428.3 193.3L429.5 194.6L430.8 195.9L432 197.3L433.2 198.6L434.4 200L435.7 201.3L436.8 202.7L438 204.1L439.1 205.5L440.3 206.9L441.4 208.4L442.5 209.8L443.6 211.3L444.7 212.7L445.7 214.2L446.8 215.6L447.9 217.1L448.9 218.6L450 220.1L451.1 221.5L452.1 223L453.2 224.5L454.2 226L455.2 227.6L456.1 229.1L457 230.7L458 232.2L458.9 233.8L459.8 235.4L460.6 237L461.5 238.6L462.4 240.2L463.3 241.8L464.2 243.4L465.1 245L465.9 246.6L466.8 248.2L467.6 249.8L468.4 251.5L469.1 253.1L469.9 254.8L470.6 256.5L471.3 258.1L472 259.8L472.7 261.5L473.3 263.2L474 264.9L474.6 266.6L475.3 268.3L475.9 270L476.5 271.8L477.1 273.5L477.7 275.2L478.3 276.9L478.9 278.6L479.5 280.4L480 282.1L480.5 283.9L481 285.6L481.4 287.4L481.9 289.2L482.4 290.9L482.8 292.7L483.3 294.5L483.9 296.2L484.4 298L484.9 299.7L485.4 301.5L485.8 303.3L486.3 305L486.6 306.8L487 308.6L487.4 310.4L487.7 312.2L488 314L488.2 315.9L488.5 317.7L488.7 319.5L489 321.3L489.2 323.1L489.4 324.9L489.5 326.8L489.7 328.6L489.8 330.4L490 332.3L490.1 334.1L490.2 335.9L490.3 337.7L490.4 339.6L490.4 341.4L490.5 343.2L490.6 345.1L490.7 346.9L490.7 348.7L490.8 350.6L490.8 352.4L490.8 354.3L490.7 356.1L490.6 357.9L490.5 359.8L490.4 361.6L490.2 363.4L490 365.2L489.8 367.1L489.5 368.9L489.3 370.7L489.1 372.5L488.9 374.4L488.7 376.2L488.5 378L488.3 379.8L488 381.7L487.8 383.5L487.5 385.3L487.2 387.1L486.9 388.9L486.6 390.7L486.2 392.5L485.8 394.3L485.5 396.1L485 397.9L484.6 399.7L484.1 401.5L483.6 403.2L483.1 405L482.6 406.7L482 408.5L481.5 410.3L480.9 412L480.4 413.7L479.8 415.5L479.2 417.2L478.6 419L478 420.7L477.4 422.4L476.8 424.1L476.1 425.9L469.3 423.3A221.1 221.1 0 0 0 262 125.3ZM262 159.8L263.5 159.8L265 159.8L266.5 159.9L268 159.9L269.5 160L271 160L272.5 160.1L274 160.2L275.5 160.3L277 160.4L278.5 160.5L279.9 160.7L281.4 160.8L282.9 160.9L284.4 160.8L286 160.8L287.5 160.6L289.1 160.3L290.7 159.9L292.2 159.8L293.8 159.7L295.3 159.7L296.8 159.9L298.3 160.2L299.8 160.5L301.3 160.8L302.8 161.2L304.2 161.6L305.7 162L307.2 162.5L308.6 163L310 163.6L311.4 164.2L312.8 164.9L314.2 165.5L315.6 166L317 166.6L318.4 167.1L319.9 167.6L321.3 168.1L322.7 168.6L324.1 169.2L325.5 169.8L326.9 170.4L328.3 171L329.6 171.6L331.1 172.1L332.5 172.5L334 172.9L335.4 173.3L336.9 173.7L338.4 174.1L339.9 174.5L341.3 175.1L342.7 175.6L344.1 176.2L345.5 176.8L346.9 177.4L348.3 178L349.7 178.6L351.1 179.1L352.5 179.7L354 180.3L355.4 180.9L356.7 181.6L358.1 182.3L359.4 183.1L360.7 183.9L362 184.7L363.3 185.5L364.5 186.5L365.6 187.5L366.8 188.5L367.9 189.6L368.9 190.7L370 191.9L371 193L372.1 194.1L373.2 195.2L374.3 196.2L375.6 197L376.8 197.9L378.1 198.7L379.5 199.4L380.8 200.1L382.2 200.9L383.5 201.6L384.8 202.4L386.1 203.3L387.3 204.2L388.5 205.2L389.6 206.2L390.7 207.2L391.8 208.3L392.9 209.3L394 210.4L395 211.6L396 212.7L397 213.9L398 215L399 216.2L400 217.3L401 218.5L402 219.6L403 220.7L404.1 221.8L405.2 222.8L406.2 223.9L407.3 225L408.4 226.1L409.4 227.2L410.4 228.4L411.4 229.5L412.3 230.8L413.2 232L414.1 233.2L414.9 234.5L415.8 235.7L416.6 237L417.4 238.3L418.1 239.7L418.9 241L419.6 242.3L420.4 243.6L421.1 244.9L422 246.2L422.8 247.5L423.6 248.7L424.5 250L425.4 251.2L426.2 252.5L427 253.8L427.8 255.1L428.5 256.5L429.1 257.8L429.8 259.2L430.4 260.6L431 262L431.6 263.4L432.3 264.7L433.1 266L433.8 267.4L434.5 268.7L435.3 270L435.9 271.4L436.6 272.8L437.1 274.2L437.6 275.6L438.1 277.1L438.4 278.6L438.8 280.1L439.1 281.6L439.5 283L439.9 284.5L440.4 285.9L441 287.3L441.6 288.7L442.3 290.1L442.9 291.5L443.4 292.9L443.9 294.3L444.3 295.8L444.7 297.3L445.1 298.7L445.6 300.2L446 301.7L446.4 303.1L446.8 304.6L447.3 306L447.7 307.5L448 309L448.4 310.5L448.7 312L448.9 313.5L449 315L449.1 316.5L449.2 318.1L449.2 319.6L449.1 321.1L449.1 322.7L449.1 324.2L449.2 325.7L449.3 327.2L449.5 328.7L449.7 330.2L450 331.7L450.3 333.2L450.6 334.7L450.7 336.2L450.9 337.7L451 339.2L451.1 340.7L451.1 342.3L451.2 343.8L451.2 345.3L451.3 346.8L451.3 348.3L451.3 349.9L451.3 351.4L451.2 352.9L451.2 354.4L451.1 355.9L451.1 357.5L451 359L450.9 360.5L450.7 362L450.4 363.5L450.1 365L449.8 366.5L449.3 368L448.8 369.4L448.4 370.9L448.1 372.4L447.7 373.8L447.4 375.3L447.2 376.8L447 378.3L446.8 379.8L446.6 381.3L446.4 382.8L446.1 384.3L445.9 385.8L445.6 387.2L445.3 388.7L444.9 390.2L444.5 391.6L444.1 393.1L443.6 394.5L443.2 396L442.7 397.4L442.3 398.9L441.9 400.3L441.5 401.8L441.1 403.2L440.7 404.7L440.3 406.1L439.9 407.6L439.4 409L438.9 410.4L438.4 411.9L433.8 410.1A183.2 183.2 0 0 0 262 163.2ZM262 197.2L263.2 197.2L264.4 197.2L265.6 197.2L266.8 197.3L268 197.3L269.2 197.4L270.4 197.4L271.6 197.5L272.8 197.6L274 197.7L275.2 197.8L276.3 197.9L277.5 198L278.7 198.1L279.9 198.2L281.1 198.4L282.3 198.3L283.6 198.1L284.8 198L286 197.9L287.2 198L288.5 198.1L289.6 198.3L290.8 198.6L292 198.9L293.2 199.1L294.3 199.5L295.5 199.8L296.7 200.1L297.8 200.5L299 200.9L300.1 201.3L301.3 201.7L302.4 202.1L303.5 202.5L304.7 202.9L305.8 203.3L306.9 203.7L308.1 204.1L309.2 204.5L310.3 204.9L311.5 205.3L312.6 205.7L313.7 206.1L314.9 206.4L316 206.8L317.2 207.2L318.3 207.5L319.5 207.8L320.7 208.1L321.9 208.4L323.1 208.7L324.2 209L325.4 209.4L326.6 209.7L327.7 210.1L328.9 210.6L330 211L331.1 211.5L332.2 212L333.3 212.5L334.4 213.1L335.5 213.6L336.6 214.2L337.7 214.8L338.7 215.4L339.8 216L340.8 216.6L341.9 217.2L342.9 217.9L343.9 218.5L344.9 219.3L345.9 220L346.8 220.8L347.7 221.7L348.6 222.5L349.5 223.3L350.4 224.1L351.3 224.9L352.3 225.7L353.2 226.4L354.2 227.1L355.2 227.8L356.2 228.5L357.2 229.3L358.1 230L359.1 230.7L360.1 231.4L361.1 232.1L362.1 232.8L363.1 233.5L364.1 234.2L365.1 234.9L366.1 235.6L367 236.4L368 237.2L368.9 238L369.7 238.9L370.6 239.8L371.4 240.7L372.2 241.6L373 242.5L373.8 243.5L374.5 244.4L375.2 245.4L376 246.4L376.7 247.4L377.3 248.5L378 249.5L378.7 250.5L379.5 251.4L380.2 252.4L381 253.3L381.9 254.2L382.7 255L383.5 255.9L384.4 256.8L385.2 257.7L386.1 258.6L386.8 259.6L387.6 260.5L388.3 261.5L389 262.6L389.6 263.6L390.3 264.6L390.9 265.7L391.5 266.7L392.2 267.8L392.8 268.8L393.4 269.9L394 270.9L394.5 272L395.1 273.1L395.6 274.2L396 275.4L396.5 276.5L396.9 277.7L397.3 278.8L397.7 280L398 281.2L398.4 282.3L398.7 283.5L399 284.7L399.4 285.8L399.8 287L400.3 288.1L400.9 289.1L401.4 290.2L402.1 291.3L402.7 292.3L403.4 293.4L403.9 294.4L404.5 295.5L405 296.7L405.4 297.8L405.8 298.9L406.2 300.1L406.6 301.2L406.9 302.4L407.3 303.6L407.6 304.7L407.9 305.9L408.3 307.1L408.5 308.3L408.8 309.5L409 310.7L409.2 311.9L409.4 313.1L409.6 314.2L409.9 315.4L410.2 316.6L410.5 317.8L410.8 319L411.2 320.1L411.5 321.3L411.8 322.5L412 323.7L412.2 324.9L412.3 326.1L412.5 327.3L412.6 328.5L412.6 329.7L412.6 331L412.7 332.2L412.7 333.4L412.7 334.6L412.7 335.8L412.8 337L412.8 338.3L412.8 339.5L412.9 340.7L412.9 341.9L412.9 343.1L412.9 344.3L412.8 345.5L412.8 346.7L412.7 347.9L412.6 349.2L412.6 350.4L412.5 351.6L412.6 352.8L412.6 354L412.6 355.2L412.7 356.4L412.7 357.6L412.7 358.9L412.8 360.1L412.8 361.3L412.8 362.5L412.9 363.8L412.9 365L412.8 366.2L412.7 367.4L412.6 368.6L412.4 369.8L412.1 371L411.7 372.2L411.4 373.4L411 374.6L410.6 375.7L410.3 376.9L410.1 378.1L409.8 379.3L409.6 380.5L409.4 381.7L409.2 382.9L409 384.1L408.7 385.3L408.4 386.5L408 387.6L407.5 388.7L407 389.8L406.4 390.9L405.7 392L405 393L404.3 394.1L403.8 395.2L403.2 396.2L402.7 397.3L402.3 398.5L398.7 397.1A145.8 145.8 0 0 0 262 200.6ZM262 234.9L262.9 234.9L263.8 234.9L264.7 234.9L265.6 235L266.5 235L267.4 235L268.3 235.1L269.2 235.1L270 235.2L270.9 235.3L271.8 235.3L272.7 235.4L273.6 235.5L274.5 235.6L275.4 235.7L276.3 235.8L277.2 235.8L278.1 235.7L279 235.6L280 235.5L280.9 235.5L281.8 235.5L282.7 235.5L283.6 235.5L284.6 235.5L285.5 235.5L286.4 235.6L287.3 235.6L288.2 235.7L289.2 235.8L290.1 235.9L291 236L291.9 236.2L292.8 236.3L293.7 236.6L294.6 236.8L295.4 237.1L296.3 237.4L297.1 237.8L298 238.2L298.8 238.6L299.6 239L300.5 239.4L301.3 239.7L302.2 239.9L303.1 240.1L304 240.3L304.9 240.6L305.8 240.8L306.7 241.1L307.5 241.5L308.3 241.9L309.1 242.4L309.9 242.9L310.7 243.4L311.5 243.9L312.2 244.4L313 244.9L313.8 245.4L314.6 245.8L315.4 246.2L316.2 246.6L317 247L317.9 247.4L318.7 247.8L319.5 248.2L320.3 248.7L321.1 249.1L321.9 249.6L322.7 250L323.5 250.4L324.3 250.9L325.1 251.3L325.9 251.8L326.7 252.3L327.4 252.8L328.2 253.3L328.8 254L329.5 254.6L330.1 255.3L330.7 256L331.3 256.8L331.9 257.4L332.6 258L333.3 258.6L334 259.2L334.8 259.7L335.5 260.3L336.2 260.8L336.9 261.4L337.7 261.9L338.4 262.5L339.2 263L339.9 263.5L340.7 264L341.4 264.6L342.1 265.2L342.8 265.8L343.4 266.4L344.1 267.1L344.7 267.8L345.3 268.4L346 269.1L346.6 269.8L347.2 270.5L347.8 271.2L348.4 271.9L349 272.6L349.5 273.3L350.1 274L350.7 274.7L351.2 275.4L351.8 276.2L352.3 276.9L352.8 277.7L353.3 278.4L353.8 279.2L354.3 280L354.8 280.7L355.3 281.5L355.8 282.2L356.3 283L356.9 283.7L357.4 284.5L358 285.2L358.5 285.9L359.1 286.7L359.7 287.4L360.2 288.2L360.7 288.9L361.1 289.7L361.5 290.5L361.9 291.4L362.3 292.2L362.6 293.1L362.9 294L363.2 294.8L363.6 295.7L363.9 296.5L364.3 297.3L364.8 298.1L365.3 298.9L365.8 299.7L366.2 300.5L366.7 301.3L367 302.1L367.3 303L367.5 303.9L367.7 304.8L367.9 305.7L368 306.6L368.3 307.5L368.6 308.4L368.9 309.2L369.2 310L369.7 310.9L370.2 311.7L370.6 312.5L370.9 313.3L371.3 314.2L371.5 315.1L371.7 316L371.8 316.9L371.9 317.8L371.9 318.7L372 319.7L372.1 320.5L372.4 321.4L372.7 322.3L373.1 323.1L373.5 324L373.9 324.8L374.3 325.7L374.6 326.6L374.8 327.5L375.1 328.4L375.3 329.3L375.4 330.2L375.6 331.1L375.8 332L376 332.9L376.2 333.8L376.3 334.7L376.4 335.6L376.5 336.5L376.6 337.4L376.6 338.4L376.6 339.3L376.6 340.2L376.5 341.1L376.5 342.1L376.4 343L376.4 343.9L376.3 344.8L376.3 345.7L376.3 346.7L376.3 347.6L376.2 348.5L376.2 349.4L376.1 350.3L375.9 351.2L375.8 352.1L375.6 353L375.4 353.9L375.2 354.8L375.1 355.7L374.9 356.6L374.8 357.5L374.6 358.4L374.4 359.3L374.3 360.2L374.1 361.1L373.9 362L373.7 362.9L373.4 363.8L373.2 364.7L373 365.5L372.9 366.4L372.7 367.3L372.6 368.2L372.5 369.1L372.5 370L372.5 371L372.4 371.9L372.4 372.8L372.4 373.8L372.3 374.7L372.1 375.6L371.9 376.5L371.7 377.4L371.5 378.2L371.2 379.1L370.9 380L370.6 380.9L370.3 381.7L370 382.6L369.7 383.5L369.4 384.3L369.1 385.2L368.8 386L363.3 384A108.1 108.1 0 0 0 262 238.3ZM262 270.2L262.6 270.3L263.2 270.3L263.8 270.3L264.4 270.3L265.1 270.3L265.7 270.3L266.3 270.4L266.9 270.4L267.5 270.5L268.1 270.5L268.7 270.6L269.3 270.6L269.9 270.7L270.5 270.7L271.2 270.7L271.8 270.8L272.4 270.8L273 270.9L273.6 270.9L274.2 271L274.8 271.1L275.4 271.1L276 271.2L276.6 271.3L277.2 271.5L277.8 271.6L278.5 271.7L279.1 271.8L279.7 271.9L280.3 272L280.9 272.2L281.5 272.3L282 272.5L282.6 272.6L283.2 272.8L283.8 273L284.4 273.2L285 273.3L285.6 273.5L286.2 273.7L286.8 273.9L287.4 274.1L287.9 274.2L288.5 274.4L289.1 274.6L289.7 274.9L290.3 275.1L290.8 275.3L291.4 275.6L291.9 275.9L292.5 276.2L293 276.5L293.6 276.7L294.1 277L294.7 277.3L295.2 277.5L295.8 277.8L296.3 278L296.9 278.3L297.4 278.6L298 278.9L298.5 279.1L299.1 279.4L299.6 279.7L300.1 280.1L300.7 280.4L301.2 280.7L301.7 281L302.2 281.4L302.7 281.7L303.2 282.1L303.7 282.4L304.2 282.8L304.7 283.2L305.2 283.5L305.7 283.8L306.2 284.2L306.8 284.5L307.3 284.8L307.8 285.1L308.3 285.5L308.8 285.8L309.3 286.2L309.8 286.6L310.3 287L310.7 287.4L311.2 287.8L311.6 288.3L312 288.7L312.4 289.2L312.8 289.6L313.3 290.1L313.7 290.5L314.1 290.9L314.6 291.3L315 291.8L315.5 292.2L315.9 292.6L316.3 293.1L316.7 293.5L317.2 293.9L317.6 294.4L318 294.8L318.5 295.3L318.9 295.7L319.4 296.1L319.8 296.5L320.2 296.9L320.7 297.4L321.1 297.8L321.5 298.3L321.8 298.8L322.2 299.3L322.6 299.8L322.9 300.3L323.3 300.8L323.6 301.3L324 301.8L324.3 302.3L324.7 302.8L325 303.3L325.3 303.8L325.7 304.4L326 304.9L326.3 305.4L326.6 305.9L327 306.4L327.3 307L327.6 307.5L327.9 308L328.2 308.5L328.5 309.1L328.8 309.6L329.1 310.1L329.4 310.7L329.7 311.2L330 311.8L330.3 312.3L330.5 312.9L330.8 313.4L331 314L331.3 314.5L331.5 315.1L331.8 315.6L332 316.2L332.2 316.8L332.5 317.3L332.7 317.9L333 318.5L333.2 319L333.4 319.6L333.6 320.2L333.8 320.8L334.1 321.3L334.3 321.9L334.4 322.5L334.6 323.1L334.8 323.7L335 324.3L335.1 324.8L335.3 325.4L335.4 326L335.6 326.6L335.7 327.2L335.9 327.8L336 328.4L336.2 329L336.3 329.6L336.5 330.2L336.6 330.8L336.8 331.4L337 332L337.1 332.5L337.3 333.1L337.4 333.7L337.5 334.3L337.6 334.9L337.7 335.6L337.8 336.2L337.8 336.8L337.9 337.4L337.9 338L337.9 338.6L337.9 339.2L337.9 339.9L337.9 340.5L337.9 341.1L337.9 341.7L337.9 342.3L337.9 342.9L337.9 343.5L337.9 344.1L337.9 344.7L337.9 345.3L337.9 346L337.9 346.6L338 347.2L338 347.8L338 348.4L338 349L338 349.6L338 350.2L337.9 350.8L337.9 351.4L337.9 352.1L337.8 352.7L337.8 353.3L337.7 353.9L337.6 354.5L337.6 355.1L337.6 355.7L337.5 356.3L337.5 356.9L337.4 357.5L337.4 358.2L337.3 358.8L337.2 359.4L337.1 360L337 360.6L336.9 361.2L336.7 361.8L336.6 362.4L336.4 363L336.3 363.5L336.1 364.1L335.9 364.7L335.8 365.3L335.7 365.9L335.5 366.5L335.4 367.1L335.3 367.7L335.2 368.3L335 368.9L334.8 369.5L334.7 370.1L334.5 370.7L334.3 371.3L334.1 371.8L333.9 372.4L333.7 373L327.5 370.7A69.9 69.9 0 0 0 262 276.5ZM466.6 438.8L465.9 440.4L465.1 442.1L464.4 443.7L463.6 445.3L462.9 447L462.2 448.7L461.5 450.3L460.7 452L460 453.7L459.3 455.3L458.6 457L457.8 458.6L457 460.2L456.1 461.8L455.2 463.4L454.2 464.9L453.3 466.5L452.3 468L451.3 469.5L450.4 471.1L449.3 472.6L448.3 474.1L447.3 475.5L446.2 477L445.2 478.5L444.1 479.9L443 481.4L441.8 482.8L440.7 484.2L439.6 485.6L438.4 487L437.3 488.4L436.1 489.8L434.9 491.1L433.7 492.5L432.5 493.8L431.3 495.2L430 496.5L428.8 497.9L427.6 499.2L426.4 500.5L425.2 501.9L424 503.2L422.8 504.5L421.5 505.9L420.2 507.1L418.9 508.4L417.6 509.6L416.2 510.8L414.9 512L413.5 513.2L412.2 514.4L410.8 515.6L409.5 516.8L408.2 518.1L406.8 519.3L405.5 520.5L404.1 521.7L402.7 522.8L401.2 523.9L399.7 524.9L398.2 525.9L396.7 526.9L395.2 527.9L393.7 528.9L392.2 529.9L390.7 530.9L389.2 532L387.8 533.1L386.4 534.3L384.9 535.3L383.5 536.4L382 537.4L380.5 538.5L379 539.4L377.4 540.4L375.9 541.3L374.3 542.2L372.7 543.1L371.1 544L369.5 544.9L367.9 545.7L366.3 546.5L364.7 547.3L363.1 548.1L361.4 548.9L359.8 549.7L358.2 550.4L356.5 551.2L354.9 552L353.3 552.8L351.6 553.6L350 554.3L348.3 555L346.6 555.7L345 556.4L343.2 552A221.1 221.1 0 0 0 463.5 437.4ZM433.8 424L433.2 425.3L432.5 426.7L431.9 428.1L431.2 429.4L430.5 430.8L429.9 432.1L429.2 433.5L428.4 434.8L427.7 436.1L427 437.5L426.2 438.8L425.5 440.1L424.7 441.4L423.9 442.7L423 443.9L422.2 445.2L421.2 446.4L420.2 447.5L419.3 448.7L418.3 449.8L417.4 451L416.5 452.2L415.6 453.5L414.9 454.8L414.1 456.1L413.4 457.4L412.7 458.8L412.1 460.2L411.3 461.6L410.5 462.9L409.7 464.2L408.9 465.4L407.9 466.6L407 467.8L406 468.9L404.9 470L403.9 471.1L402.8 472.2L401.7 473.2L400.6 474.3L399.6 475.4L398.5 476.4L397.4 477.5L396.4 478.6L395.3 479.7L394.3 480.8L393.2 481.8L392 482.8L390.9 483.8L389.8 484.8L388.6 485.8L387.5 486.8L386.4 487.8L385.2 488.8L384.1 489.9L383 490.9L381.9 491.9L380.8 492.9L379.6 493.9L378.5 494.9L377.3 495.8L376.1 496.8L374.9 497.7L373.7 498.6L372.5 499.5L371.2 500.3L369.9 501.2L368.7 502L367.4 502.8L366.1 503.6L364.8 504.3L363.5 505.1L362.2 505.9L360.9 506.7L359.6 507.4L358.3 508.2L356.9 508.9L355.6 509.6L354.2 510.3L352.9 511L351.6 511.7L350.3 512.4L349 513.2L347.7 514L346.4 514.9L345.1 515.7L343.8 516.5L342.5 517.3L341.2 518L339.8 518.7L338.5 519.4L337.1 520L335.7 520.6L334.3 521.2L332.9 521.8L331.5 522.3L329.3 516.8A183.2 183.2 0 0 0 429 421.8ZM399.7 408.6L399.2 409.7L398.8 410.8L398.3 411.9L397.8 413L397.3 414.2L396.8 415.3L396.3 416.3L395.7 417.4L395.1 418.5L394.6 419.6L394 420.6L393.4 421.7L392.8 422.8L392.2 423.8L391.6 424.9L390.9 425.9L390.2 426.9L389.5 427.9L388.7 428.8L388 429.8L387.2 430.7L386.5 431.7L385.8 432.7L385.2 433.8L384.6 434.8L384.1 435.9L383.5 437L382.9 438.1L382.3 439.1L381.6 440.1L380.8 441.1L380.1 442.1L379.2 442.9L378.4 443.8L377.5 444.6L376.5 445.4L375.6 446.2L374.7 447.1L373.9 448L373 448.8L372.2 449.7L371.4 450.6L370.6 451.6L369.8 452.5L369 453.3L368.1 454.2L367.3 455.1L366.4 455.9L365.6 456.8L364.7 457.7L363.8 458.5L363 459.4L362.1 460.2L361.2 461L360.3 461.8L359.4 462.6L358.4 463.4L357.5 464.2L356.5 464.9L355.5 465.6L354.6 466.4L353.6 467.1L352.6 467.8L351.6 468.5L350.6 469.2L349.6 469.9L348.6 470.5L347.5 471.2L346.5 471.8L345.4 472.4L344.4 473L343.3 473.6L342.3 474.2L341.2 474.8L340.2 475.5L339.2 476.1L338.1 476.7L337.1 477.3L336 477.8L334.9 478.4L333.8 478.9L332.7 479.4L331.6 479.9L330.5 480.4L329.4 480.9L328.3 481.4L327.2 481.9L326.1 482.4L325 482.9L323.9 483.4L322.8 483.8L321.7 484.3L320.5 484.7L319.4 485.2L318.3 485.6L317.2 486.1L315.6 482A145.8 145.8 0 0 0 394.9 406.4ZM365.7 393.2L365.4 394.1L365 394.9L364.6 395.7L364.2 396.6L363.8 397.4L363.4 398.2L363 399L362.6 399.8L362.2 400.7L361.8 401.5L361.3 402.3L360.9 403.1L360.5 403.9L360 404.7L359.6 405.5L359.1 406.3L358.7 407.1L358.2 407.9L357.8 408.7L357.3 409.5L356.8 410.3L356.3 411L355.8 411.8L355.2 412.5L354.7 413.2L354.1 413.9L353.5 414.6L352.8 415.3L352.2 416L351.6 416.6L350.9 417.3L350.3 418L349.8 418.7L349.2 419.4L348.6 420.1L348 420.8L347.4 421.5L346.8 422.1L346.2 422.8L345.5 423.5L344.9 424.1L344.2 424.8L343.6 425.4L342.9 426L342.3 426.6L341.6 427.3L340.9 427.9L340.2 428.4L339.5 429L338.7 429.5L338 430L337.2 430.5L336.5 431.1L335.7 431.6L335 432.2L334.3 432.7L333.6 433.3L332.9 433.9L332.2 434.4L331.5 435L330.8 435.5L330.1 436.1L329.4 436.7L328.6 437.2L327.9 437.8L327.3 438.4L326.6 439L325.9 439.6L325.2 440.2L324.5 440.8L323.8 441.3L323.1 441.9L322.3 442.5L321.6 443L320.8 443.5L320.1 444L319.3 444.5L318.5 445L317.7 445.4L316.9 445.9L316.1 446.3L315.3 446.7L314.5 447.2L313.7 447.6L312.9 448L312.1 448.4L311.2 448.8L310.4 449.2L309.6 449.6L308.8 450L308 450.4L307.1 450.7L306.3 451.1L305.5 451.5L304.6 451.8L303.8 452.2L301.7 446.9A108.1 108.1 0 0 0 360.5 390.9ZM331.5 377.8L331.3 378.3L331 378.9L330.7 379.5L330.5 380L330.2 380.6L329.9 381.1L329.6 381.6L329.4 382.2L329.1 382.7L328.8 383.3L328.5 383.8L328.2 384.4L328 384.9L327.7 385.4L327.4 386L327.1 386.5L326.7 387L326.4 387.6L326.1 388.1L325.7 388.6L325.4 389.1L325 389.6L324.6 390L324.2 390.5L323.8 390.9L323.3 391.4L322.9 391.8L322.5 392.3L322.1 392.7L321.7 393.2L321.3 393.7L320.9 394.1L320.5 394.6L320.2 395.1L319.8 395.6L319.4 396.1L319.1 396.6L318.7 397.1L318.4 397.6L318 398.1L317.6 398.6L317.2 399L316.8 399.5L316.4 399.9L315.9 400.3L315.5 400.7L315 401.1L314.5 401.4L314 401.8L313.5 402.2L313 402.6L312.6 403L312.1 403.4L311.7 403.9L311.3 404.3L310.9 404.8L310.5 405.2L310.1 405.7L309.6 406.1L309.1 406.5L308.7 406.9L308.2 407.3L307.7 407.7L307.2 408L306.7 408.4L306.2 408.7L305.7 409L305.1 409.3L304.6 409.6L304 409.8L303.5 410.1L302.9 410.4L302.4 410.8L302 411.2L301.5 411.6L301.1 412L300.6 412.4L300.1 412.8L299.6 413.2L299.1 413.5L298.5 413.8L298 414.1L297.4 414.4L296.9 414.6L296.3 414.8L295.7 415.1L295.1 415.2L294.5 415.4L293.9 415.6L293.4 415.8L292.8 416L292.2 416.2L291.6 416.5L291.1 416.7L290.5 416.9L289.9 417.1L287.7 411.4A69.9 69.9 0 0 0 325.7 375.2ZM330.4 562.1L328.7 562.6L327 563.2L325.2 563.7L323.5 564.3L321.7 564.8L320 565.3L318.2 565.7L316.5 566.2L314.7 566.6L312.9 567L311.2 567.4L309.4 567.7L307.6 568L305.8 568.3L304 568.5L302.2 568.8L300.4 569L298.6 569.3L296.8 569.6L295 569.9L293.2 570.3L291.4 570.6L289.7 570.9L287.9 571.2L286.1 571.4L284.3 571.7L282.5 571.9L280.7 572.1L278.8 572.3L277 572.4L275.2 572.5L273.4 572.6L271.6 572.7L271.4 567.3A221.1 221.1 0 0 0 328.9 557.2ZM318.9 525.8L317.5 526.3L316 526.8L314.6 527.3L313.2 527.7L311.7 528.2L310.3 528.6L308.8 529L307.4 529.4L305.9 529.8L304.4 530.2L303 530.6L301.5 531L300 531.4L298.6 531.8L297.1 532.1L295.6 532.4L294.1 532.7L292.6 532.9L291.1 533.1L289.6 533.2L288.1 533.4L286.6 533.5L285.1 533.6L283.6 533.8L282.1 533.9L280.5 534L279 534.1L277.5 534.2L276 534.2L274.5 534.2L273 534.2L271.5 534.3L270 534.3L269.8 529.4A183.2 183.2 0 0 0 317.4 521ZM307.6 490.1L306.4 490.4L305.3 490.8L304.1 491L302.9 491.3L301.7 491.5L300.5 491.7L299.3 491.9L298.1 492.1L296.9 492.4L295.8 492.7L294.6 493L293.5 493.3L292.3 493.7L291.1 494L290 494.3L288.8 494.6L287.6 494.9L286.4 495.1L285.2 495.3L284 495.4L282.8 495.6L281.6 495.7L280.4 495.9L279.2 496L278 496L276.8 496.1L275.6 496.1L274.4 496.2L273.2 496.1L272 496.1L270.7 496L269.5 496L268.3 496.1L268.2 492.1A145.8 145.8 0 0 0 306.1 485.4ZM296.3 454.6L295.5 454.9L294.6 455.2L293.7 455.5L292.9 455.8L292 456.1L291.2 456.5L290.3 456.8L289.4 457.1L288.6 457.4L287.7 457.7L286.8 457.9L285.9 458.1L285 458.3L284.1 458.5L283.2 458.7L282.3 458.9L281.4 459L280.5 459L279.6 459L278.6 458.9L277.7 458.8L276.7 458.7L275.8 458.6L274.9 458.5L274 458.4L273.1 458.4L272.2 458.4L271.3 458.4L270.4 458.4L269.4 458.4L268.5 458.4L267.6 458.4L266.7 458.5L266.6 454.4A108.1 108.1 0 0 0 294.7 449.4ZM285.1 419.4L284.6 419.6L284 419.7L283.4 419.9L282.8 420L282.2 420.1L281.6 420.2L280.9 420.3L280.3 420.4L279.7 420.5L279.1 420.6L278.5 420.8L278 420.9L277.4 421.1L276.8 421.3L276.2 421.5L275.6 421.6L275 421.7L274.4 421.9L273.8 422L273.2 422L272.6 422L271.9 422.1L271.3 422.1L270.7 422L270.1 422L269.5 421.9L268.9 421.9L268.2 421.9L267.6 422L267 422L266.4 422L265.8 422.1L265.2 422.1L265 416.2A69.9 69.9 0 0 0 283.1 413ZM257.7 572.7L255.8 572.6L254 572.6L252.2 572.6L250.4 572.5L248.6 572.5L246.8 572.4L244.9 572.3L243.1 572.1L241.3 571.9L239.5 571.7L237.7 571.5L235.9 571.2L234.1 570.9L232.3 570.6L230.5 570.4L228.7 570.1L226.9 569.9L225.1 569.7L223.3 569.5L221.5 569.2L219.7 568.9L217.9 568.6L216.2 568.2L214.4 567.8L212.6 567.4L210.9 567L209.1 566.5L207.4 566L205.6 565.5L203.8 565.1L202.1 564.6L200.3 564.2L198.6 563.7L196.8 563.3L195 562.8L193.3 562.2L191.6 561.7L189.8 561.2L188.1 560.6L186.4 560L184.7 559.4L183 558.7L181.3 558.1L179.6 557.5L177.9 556.8L176.2 556.1L174.5 555.5L172.8 554.8L171.1 554.1L169.5 553.3L167.8 552.6L166.2 551.8L164.5 551L162.9 550.1L161.3 549.3L159.7 548.4L158.2 547.5L156.6 546.6L155 545.7L153.4 544.8L151.9 543.8L150.3 542.9L148.8 542L147.2 541L145.7 540.1L144.1 539.2L142.5 538.3L140.9 537.5L139.2 536.7L137.6 535.9L136 535L134.4 534.1L132.8 533.2L131.3 532.2L129.8 531.2L128.3 530.1L126.8 529L125.4 527.9L124 526.7L122.7 525.5L121.3 524.2L120 522.9L118.7 521.7L117.3 520.6L115.9 519.4L114.5 518.2L113.1 517L111.7 515.9L110.4 514.7L109 513.4L107.7 512.2L106.4 510.9L105.1 509.7L103.8 508.4L102.5 507.1L101.2 505.9L99.9 504.6L98.6 503.3L97.3 502L96.1 500.7L94.8 499.3L93.6 498L92.5 496.6L91.3 495.2L90.2 493.8L89 492.3L87.9 490.9L86.8 489.5L85.7 488.1L84.6 486.6L83.4 485.2L87.4 482.1A221.1 221.1 0 0 0 257.8 567.5ZM258.4 534.8L256.9 534.7L255.4 534.7L253.8 534.7L252.3 534.6L250.8 534.6L249.3 534.6L247.8 534.6L246.3 534.5L244.8 534.4L243.3 534.3L241.7 534.1L240.2 534L238.7 533.8L237.2 533.7L235.7 533.5L234.2 533.3L232.7 533.1L231.2 532.9L229.7 532.6L228.2 532.3L226.7 532.1L225.2 531.7L223.8 531.5L222.2 531.3L220.7 531L219.2 530.9L217.7 530.7L216.2 530.6L214.6 530.4L213.1 530.1L211.6 529.9L210.1 529.5L208.7 529L207.3 528.4L205.9 527.8L204.5 527.2L203.1 526.5L201.7 525.9L200.3 525.4L198.9 524.8L197.4 524.2L196 523.7L194.6 523.2L193.1 522.7L191.7 522.2L190.3 521.7L188.8 521.2L187.4 520.8L185.9 520.3L184.4 519.9L183 519.4L181.5 518.8L180.1 518.3L178.7 517.7L177.3 517L176 516.3L174.7 515.5L173.3 514.8L172.1 513.9L170.8 513L169.6 512.1L168.3 511.2L167.1 510.4L165.8 509.5L164.5 508.7L163.2 507.9L161.9 507.1L160.6 506.3L159.3 505.6L158 504.8L156.7 504L155.4 503.2L154.2 502.3L152.9 501.4L151.7 500.5L150.5 499.5L149.4 498.5L148.3 497.5L147.2 496.4L146.1 495.4L144.9 494.4L143.7 493.4L142.5 492.5L141.3 491.7L140 490.8L138.8 489.9L137.6 488.9L136.4 488L135.3 487L134.2 486L133.1 484.9L132 483.9L130.9 482.8L129.9 481.7L128.8 480.6L127.8 479.5L126.7 478.4L125.7 477.3L124.6 476.2L123.6 475.1L122.5 474L121.5 472.9L120.5 471.8L119.4 470.7L118.4 469.6L117.3 468.5L116.3 467.3L115.3 466.2L114.3 465L113.4 463.8L112.4 462.7L117.4 458.8A183.2 183.2 0 0 0 258.5 529.6ZM259.1 499L257.8 499L256.6 498.9L255.4 498.9L254.2 498.8L253 498.7L251.7 498.6L250.5 498.5L249.3 498.3L248.1 498.1L246.9 497.9L245.7 497.7L244.5 497.5L243.3 497.3L242.1 497.1L240.9 496.9L239.6 496.7L238.4 496.5L237.2 496.3L236 496.1L234.8 495.9L233.6 495.7L232.4 495.4L231.2 495.2L230.1 495L228.9 494.7L227.7 494.4L226.5 494.2L225.3 493.9L224.1 493.6L222.9 493.2L221.8 492.9L220.6 492.5L219.5 492L218.4 491.6L217.2 491.1L216.1 490.7L215 490.2L213.8 489.8L212.7 489.4L211.5 489L210.3 488.7L209.2 488.3L208 487.9L206.9 487.5L205.8 487.1L204.6 486.6L203.5 486.1L202.4 485.6L201.3 485.1L200.2 484.7L199.1 484.2L197.9 483.7L196.8 483.3L195.6 482.9L194.5 482.5L193.3 482L192.2 481.6L191.1 481.1L190 480.5L189 479.9L187.9 479.2L186.9 478.6L185.9 477.9L184.9 477.2L183.8 476.5L182.8 475.9L181.7 475.3L180.7 474.7L179.6 474.2L178.4 473.7L177.4 473.1L176.3 472.5L175.3 471.8L174.2 471.1L173.3 470.4L172.3 469.6L171.4 468.8L170.5 468L169.5 467.2L168.6 466.4L167.7 465.6L166.7 464.8L165.8 464.1L164.8 463.3L163.9 462.6L162.9 461.8L162 461.1L161 460.3L160.1 459.4L159.3 458.6L158.4 457.7L157.6 456.8L156.8 455.9L156 455L155.1 454.1L154.3 453.2L153.4 452.3L152.6 451.5L151.7 450.6L150.8 449.8L150 448.9L149.1 448L148.3 447.1L147.5 446.2L146.8 445.2L146.1 444.2L145.4 443.2L144.8 442.1L144.2 441L143.5 440L142.8 439.1L146.9 435.9A145.8 145.8 0 0 0 259.2 492.2ZM259.8 460.5L258.9 460.5L258 460.5L257.1 460.6L256.1 460.7L255.2 460.8L254.3 460.9L253.3 460.9L252.4 461L251.5 460.9L250.6 460.9L249.7 460.8L248.7 460.6L247.8 460.5L246.9 460.3L246 460L245.1 459.8L244.2 459.6L243.3 459.4L242.4 459.2L241.5 459.1L240.6 458.9L239.7 458.8L238.8 458.7L237.9 458.6L236.9 458.5L236 458.4L235.1 458.3L234.2 458.1L233.3 457.9L232.4 457.7L231.5 457.4L230.6 457.1L229.8 456.8L228.9 456.5L228 456.2L227.2 455.9L226.3 455.5L225.4 455.2L224.6 454.9L223.7 454.6L222.8 454.4L221.9 454.2L221 454L220.1 453.7L219.2 453.5L218.3 453.2L217.4 452.9L216.5 452.6L215.7 452.3L214.8 451.9L214 451.5L213.2 451L212.4 450.6L211.6 450L210.9 449.4L210.1 448.8L209.4 448.2L208.7 447.5L208 447L207.3 446.4L206.5 445.9L205.7 445.4L204.9 444.9L204.2 444.5L203.4 444L202.6 443.5L201.8 443.1L201 442.6L200.3 442.1L199.5 441.6L198.7 441.1L197.9 440.7L197.1 440.2L196.4 439.7L195.6 439.2L194.8 438.7L194 438.2L193.3 437.7L192.5 437.2L191.7 436.8L190.9 436.3L190.1 435.8L189.3 435.3L188.5 434.8L187.8 434.3L187.1 433.7L186.4 433L185.8 432.4L185.2 431.7L184.6 430.9L184 430.2L183.5 429.4L182.9 428.7L182.4 427.9L181.8 427.2L181.1 426.6L180.5 425.9L179.9 425.3L179.2 424.6L178.6 424L177.9 423.3L177.3 422.6L176.7 421.9L176.1 421.2L175.6 420.5L175.1 419.8L174.6 419L174.1 418.2L173.6 417.4L173.1 416.6L172.6 415.9L176.7 412.7A108.1 108.1 0 0 0 259.9 454.5ZM260.5 421.9L259.9 421.9L259.3 421.9L258.7 422L258.1 422.1L257.5 422.1L256.9 422.1L256.3 422.1L255.7 422.1L255.1 422L254.5 422L253.9 421.9L253.2 421.8L252.6 421.8L252 421.7L251.4 421.6L250.8 421.5L250.2 421.4L249.6 421.4L249 421.3L248.4 421.2L247.8 421.1L247.2 421L246.6 420.9L246 420.8L245.4 420.7L244.8 420.6L244.2 420.5L243.6 420.4L243 420.3L242.4 420.2L241.8 420.1L241.2 419.9L240.6 419.8L240 419.6L239.4 419.5L238.8 419.3L238.2 419.1L237.6 418.9L237.1 418.6L236.5 418.4L236 418.1L235.4 417.9L234.8 417.6L234.3 417.4L233.7 417.2L233.1 416.9L232.6 416.7L232 416.5L231.4 416.3L230.8 416.1L230.3 415.9L229.7 415.6L229.1 415.4L228.6 415.1L228 414.8L227.5 414.6L226.9 414.3L226.4 414L225.9 413.7L225.3 413.4L224.8 413.1L224.3 412.7L223.8 412.3L223.3 412L222.9 411.6L222.4 411.2L221.9 410.8L221.4 410.5L220.9 410.2L220.3 409.9L219.8 409.6L219.3 409.3L218.7 409L218.2 408.7L217.6 408.4L217.1 408.1L216.6 407.8L216.1 407.4L215.6 407.1L215.1 406.7L214.6 406.3L214.1 405.9L213.7 405.5L213.2 405.1L212.8 404.6L212.4 404.2L212 403.7L211.6 403.3L211.1 402.8L210.7 402.4L210.2 402L209.8 401.6L209.3 401.2L208.8 400.8L208.4 400.4L207.9 400L207.5 399.6L207.1 399.2L206.6 398.7L206.2 398.2L205.8 397.8L205.5 397.3L205.1 396.8L204.7 396.3L204.3 395.9L203.9 395.4L203.6 394.9L203.2 394.5L202.8 394L202.4 393.5L202 393L206.8 389.3A69.9 69.9 0 0 0 260.7 416.3ZM74.2 470.3L73.2 468.7L72.2 467.2L71.3 465.7L70.4 464.1L69.5 462.5L68.7 460.9L67.9 459.3L67 457.7L66.1 456.1L65.3 454.6L64.4 453L63.6 451.4L62.7 449.8L61.9 448.2L61.1 446.6L60.3 445L59.5 443.3L58.7 441.7L58 440.1L57.2 438.4L56.5 436.8L55.8 435.1L54.7 433.6L53.3 432.2L52 430.9L50.8 429.4L49.7 427.8L48.7 426.3L47.9 424.6L47.2 422.9L46.6 421.2L45.9 419.5L45.3 417.8L44.7 416L44.1 414.3L43.5 412.6L43 410.8L42.5 409L42 407.3L41.6 405.5L41.1 403.7L40.7 401.9L40.2 400.2L39.8 398.4L39.3 396.6L38.8 394.8L38.4 393.1L38 391.3L37.6 389.5L37.2 387.7L36.8 385.9L36.5 384.1L36.2 382.3L35.9 380.5L35.6 378.7L35.3 376.8L35.1 375L34.9 373.2L34.7 371.4L34.6 369.5L34.5 367.7L34.5 365.9L34.5 364L34.5 362.2L34.5 360.4L34.4 358.5L34.3 356.7L34.1 354.9L33.8 353.1L33.6 351.2L33.4 349.4L33.3 347.6L33.2 345.7L33.2 343.9L33.2 342.1L33.3 340.2L33.4 338.4L33.5 336.6L33.7 334.7L33.8 332.9L33.9 331.1L34.1 329.2L34.2 327.4L34.4 325.6L34.6 323.8L34.8 321.9L35 320.1L35.2 318.3L35.4 316.5L35.8 314.7L36.1 312.9L36.4 311.1L36.8 309.3L37.1 307.5L37.5 305.7L37.7 303.8L38.1 302L38.4 300.2L38.7 298.4L39 296.6L39.4 294.8L39.7 293L40.1 291.2L40.6 289.5L41 287.7L41.5 285.9L42 284.1L42.6 282.4L43.2 280.7L43.8 278.9L44.5 277.2L45.2 275.5L45.9 273.8L46.4 272.1L47 270.4L47.6 268.6L48.1 266.8L48.6 265.1L49.2 263.3L49.8 261.6L50.4 259.9L51.1 258.2L51.8 256.5L52.6 254.8L53.4 253.2L54.2 251.5L55.1 249.9L55.9 248.3L56.8 246.7L57.7 245.1L58.5 243.4L59.3 241.8L60.2 240.2L61 238.6L61.9 236.9L62.7 235.3L63.7 233.7L64.6 232.2L65.5 230.6L66.5 229.1L67.5 227.5L68.5 226L69.6 224.5L70.6 223L71.6 221.4L72.7 220L73.8 218.5L75 217.1L76.2 215.7L77.4 214.4L78.6 213L79.7 211.5L80.6 210L81.6 208.4L82.5 206.8L83.5 205.2L84.4 203.6L85.4 202.1L86.6 200.7L87.7 199.2L88.9 197.8L90.1 196.5L91.3 195.1L92.6 193.8L93.9 192.5L95.2 191.2L96.5 189.9L97.8 188.6L99.1 187.3L100.3 186L101.6 184.7L102.9 183.4L104.2 182.1L105.5 180.8L106.8 179.5L108.1 178.3L109.5 177L110.8 175.8L112.2 174.6L113.5 173.4L114.9 172.2L116.3 171L117.8 169.9L119.2 168.7L120.6 167.5L122 166.3L123.4 165.2L124.8 164L126.1 162.7L127.5 161.5L128.9 160.3L130.3 159.2L131.8 158L133.3 157L134.8 155.9L136.4 154.9L137.9 154L139.5 153L141.1 152.1L142.7 151.1L144.2 150.2L145.8 149.3L147.4 148.4L149 147.5L150.6 146.6L152.2 145.7L153.8 144.8L155.5 143.9L157.1 143.1L158.7 142.3L160.4 141.4L162 140.6L163.7 139.9L165.3 139.1L167 138.4L168.7 137.7L170.5 137L172.2 136.4L173.9 135.8L175.6 135.2L177.4 134.6L179.1 133.9L180.8 133.3L182.6 132.8L184.4 132.3L186.1 131.9L187.9 131.4L189.7 131L191.5 130.5L193.2 129.9L194.8 129.1L196.5 128.3L198.2 127.5L199.9 126.8L201.6 126.1L203.3 125.5L205.1 125L206.9 124.6L208.6 124.1L210.4 123.7L212.2 123.3L214 122.9L215.8 122.5L217.6 122.1L219.4 121.8L221.2 121.5L223 121.2L224.8 120.9L226.6 120.7L228.5 120.4L230.3 120.2L232.1 120L233.9 119.8L235.8 119.6L237.6 119.5L239.4 119.3L241.2 119.2L243.1 119L244.9 118.9L246.7 118.8L248.5 118.6L249 125.7A221.1 221.1 0 0 0 77.4 468.1ZM103.1 451.2L102.3 449.9L101.4 448.6L100.6 447.3L99.8 446L99 444.7L98.3 443.4L97.5 442.1L96.7 440.7L96 439.4L95.2 438.1L94.5 436.8L93.7 435.5L92.9 434.1L92.2 432.8L91.5 431.4L90.7 430.1L90.1 428.7L89.6 427.2L89.1 425.8L88.7 424.3L88.4 422.8L88 421.3L87.8 419.7L87.5 418.2L87.3 416.6L87.1 415.1L86.8 413.6L86.6 412.1L86.2 410.6L85.6 409.2L85 407.8L84.4 406.5L83.6 405.2L82.8 403.8L82 402.5L81.3 401.1L80.5 399.8L79.8 398.4L79.2 397L78.6 395.6L78.1 394.1L77.7 392.6L77.3 391.2L77 389.7L76.6 388.2L76.2 386.7L75.9 385.2L75.6 383.7L75.3 382.3L75 380.7L74.8 379.2L74.6 377.7L74.5 376.2L74.4 374.7L74.3 373.1L74.2 371.6L74.2 370.1L74.2 368.6L74.2 367L74.2 365.5L74.3 364L74.3 362.5L74.4 360.9L74.4 359.4L74.3 357.9L74.1 356.4L74 354.9L73.8 353.4L73.5 351.9L73.3 350.4L73.1 348.9L72.9 347.4L72.7 345.8L72.6 344.3L72.4 342.8L72.3 341.3L72.3 339.8L72.3 338.2L72.3 336.7L72.5 335.2L72.9 333.7L73.4 332.2L74 330.7L74.8 329.3L75.6 327.8L76.1 326.4L76.2 324.9L76.3 323.4L76.2 321.9L75.7 320.3L75.2 318.7L74.9 317.1L74.8 315.5L74.7 314L74.9 312.4L75.2 311L75.6 309.5L76 308L76.4 306.5L76.9 305.1L77.3 303.6L77.6 302.1L78 300.7L78.3 299.2L78.5 297.6L78.8 296.1L79.1 294.6L79.5 293.2L79.8 291.7L80.3 290.2L80.8 288.8L81.3 287.3L81.8 285.9L82.3 284.5L82.9 283L83.5 281.6L84 280.2L84.6 278.8L85.1 277.4L85.7 276L86.3 274.5L86.8 273.1L87.4 271.7L88.1 270.3L88.7 268.9L89.3 267.6L90 266.2L90.6 264.8L91.3 263.4L91.9 262.1L92.7 260.7L93.4 259.4L94.1 258.1L94.9 256.7L95.7 255.5L96.6 254.2L97.4 252.9L98.1 251.6L98.9 250.3L99.7 249L100.4 247.6L101.2 246.3L101.9 245L102.7 243.7L103.5 242.3L104.3 241.1L105.1 239.8L105.9 238.5L106.8 237.3L107.7 236L108.6 234.8L109.5 233.6L110.4 232.3L111.3 231.1L112.1 229.8L112.9 228.5L113.7 227.2L114.5 225.9L115.4 224.6L116.3 223.4L117.2 222.2L118.2 221L119.2 219.8L120.3 218.7L121.4 217.7L122.5 216.6L123.6 215.6L124.9 214.7L126.2 213.8L127.4 212.9L128.7 212L130 211.1L131.2 210.2L132.3 209.2L133.5 208.2L134.6 207.2L135.7 206.2L136.8 205.2L138 204.2L139.1 203.2L140.3 202.2L141.4 201.2L142.6 200.3L143.8 199.4L145 198.4L146.2 197.4L147.3 196.5L148.5 195.5L149.6 194.4L150.7 193.4L151.8 192.3L152.9 191.3L154.1 190.3L155.3 189.3L156.5 188.4L157.7 187.5L159 186.7L160.3 185.9L161.7 185.2L163 184.5L164.4 183.7L165.7 183L167 182.2L168.3 181.4L169.6 180.6L170.9 179.7L172.1 178.9L173.5 178.1L174.8 177.4L176.2 176.7L177.5 176L178.9 175.4L180.3 174.8L181.7 174.2L183.1 173.5L184.5 172.9L185.9 172.3L187.3 171.8L188.7 171.3L190.2 170.8L191.6 170.3L193.1 169.9L194.6 169.4L196 168.9L197.4 168.4L198.8 167.8L200.2 167.2L201.6 166.6L203.1 166L204.5 165.5L205.9 165L207.4 164.5L208.8 164.1L210.3 163.7L211.8 163.3L213.2 162.9L214.7 162.6L216.2 162.3L217.7 161.9L219.2 161.6L220.7 161.3L222.2 160.9L223.7 160.6L225.1 160.2L226.6 159.9L228.1 159.6L229.6 159.2L231.1 158.9L232.6 158.7L234.1 158.4L235.6 158.2L237.1 158L238.6 157.8L240.2 157.7L241.7 157.5L243.2 157.4L244.7 157.3L246.2 157.2L247.8 157.1L249.3 157L250.8 156.9L251.2 163.5A183.2 183.2 0 0 0 109.1 447.2ZM134.4 430.5L133.7 429.5L133 428.5L132.4 427.5L131.7 426.4L131.1 425.4L130.5 424.3L129.9 423.2L129.4 422.1L128.8 421L128.3 419.9L127.8 418.8L127.3 417.7L126.8 416.5L126.3 415.4L125.9 414.3L125.4 413.1L125 412L124.5 410.9L124 409.8L123.5 408.6L123.1 407.5L122.7 406.4L122.2 405.2L121.9 404.1L121.5 402.9L121.1 401.7L120.7 400.6L120.3 399.4L119.9 398.3L119.4 397.2L118.8 396.1L118.3 395L117.7 393.9L117 392.8L116.5 391.7L116 390.6L115.6 389.5L115.2 388.3L114.8 387.1L114.5 385.9L114.2 384.8L113.9 383.6L113.6 382.4L113.5 381.1L113.6 379.9L113.6 378.6L113.8 377.3L114 376.1L114.2 374.8L114.1 373.6L113.8 372.4L113.5 371.2L113.1 370.1L112.6 368.9L112.1 367.8L111.7 366.6L111.4 365.4L111.1 364.2L110.9 363L110.7 361.8L110.5 360.6L110.3 359.4L110.2 358.2L110 356.9L109.9 355.7L109.9 354.5L109.8 353.3L109.8 352.1L109.8 350.8L109.9 349.6L110 348.4L110 347.2L110.1 346L110.1 344.7L110 343.5L109.9 342.3L109.8 341.1L109.7 339.8L109.6 338.6L109.7 337.4L109.8 336.2L109.9 334.9L110.1 333.7L110.2 332.5L110.4 331.3L110.6 330.1L110.8 328.9L111 327.7L111.3 326.5L111.5 325.3L111.7 324.1L112 322.9L112.3 321.7L112.6 320.5L113 319.4L113.3 318.2L113.7 317L114 315.9L114.3 314.7L114.6 313.5L114.8 312.3L114.9 311.1L115.1 309.9L115.3 308.7L115.5 307.5L115.7 306.3L115.9 305.1L116.2 303.9L116.4 302.7L116.7 301.5L117 300.3L117.4 299.1L117.8 298L118.2 296.8L118.6 295.7L119.1 294.6L119.6 293.4L120.1 292.3L120.6 291.2L121 290.1L121.5 289L122 287.8L122.5 286.7L123 285.6L123.5 284.5L123.9 283.4L124.4 282.2L124.8 281.1L125.2 279.9L125.7 278.8L126.1 277.6L126.6 276.5L127.1 275.4L127.7 274.3L128.3 273.2L128.9 272.2L129.5 271.1L130.1 270L130.7 269L131.3 267.9L131.9 266.8L132.5 265.8L133.1 264.7L133.7 263.7L134.3 262.6L135.1 261.6L135.9 260.7L136.7 259.8L137.6 258.9L138.6 258.1L139.5 257.3L140.4 256.4L141.1 255.4L141.8 254.5L142.5 253.5L143.1 252.4L143.8 251.4L144.5 250.3L145.2 249.4L145.9 248.4L146.7 247.5L147.5 246.6L148.4 245.7L149.2 244.8L150.1 244L151 243.1L151.8 242.2L152.6 241.3L153.4 240.4L154.2 239.4L155 238.5L155.7 237.5L156.5 236.6L157.4 235.7L158.2 234.9L159.1 234L160.1 233.2L161 232.4L161.9 231.7L162.9 230.9L163.9 230.2L164.9 229.4L165.8 228.7L166.8 228L167.8 227.2L168.7 226.4L169.6 225.7L170.5 224.8L171.3 223.8L172.2 222.9L173 222L173.9 221.1L174.7 220.2L175.7 219.3L176.7 218.6L177.6 217.9L178.7 217.2L179.7 216.5L180.8 215.9L181.9 215.3L183 214.9L184.2 214.4L185.3 213.9L186.5 213.5L187.7 213.1L188.8 212.6L189.9 212.1L191 211.6L192.1 211L193.2 210.4L194.3 209.9L195.4 209.3L196.5 208.8L197.6 208.2L198.7 207.8L199.8 207.3L201 206.8L202.1 206.4L203.3 206L204.5 205.7L205.6 205.3L206.8 204.9L207.9 204.5L209.1 204.1L210.2 203.7L211.4 203.3L212.5 202.9L213.7 202.5L214.9 202.1L216 201.8L217.2 201.4L218.3 201.1L219.5 200.7L220.7 200.4L221.9 200.1L223 199.8L224.2 199.4L225.4 199.1L226.5 198.6L227.7 198.1L228.8 197.6L230 197.2L231.1 196.8L232.3 196.4L233.5 196.1L234.7 195.9L235.9 195.7L237.1 195.6L238.4 195.4L239.6 195.3L240.8 195.2L242 195.1L243.3 195.1L244.5 195L245.7 194.9L246.9 194.9L248.1 194.9L249.4 194.8L250.6 194.8L251.8 194.8L253 194.7L253.4 200.9A145.8 145.8 0 0 0 140.3 426.7ZM167.3 408.8L166.9 408L166.3 407.3L165.8 406.6L165.2 405.8L164.6 405.1L164 404.5L163.3 403.8L162.7 403.1L162 402.4L161.4 401.7L160.8 401L160.4 400.2L159.9 399.4L159.5 398.6L159.1 397.7L158.8 396.8L158.5 395.9L158.2 395.1L158 394.2L157.6 393.3L157.2 392.5L156.7 391.7L156.3 390.9L155.8 390.1L155.3 389.3L154.9 388.5L154.5 387.6L154.2 386.8L153.9 385.9L153.5 385L153.2 384.2L153 383.3L152.7 382.4L152.4 381.5L152.2 380.6L152.1 379.7L152 378.8L151.9 377.8L151.9 376.9L151.9 375.9L151.9 375L152.1 374L152.2 373L152.3 372.1L152.2 371.2L152.2 370.2L151.8 369.4L151.2 368.6L150.5 367.8L149.9 367L149.4 366.2L148.8 365.3L148.5 364.4L148.4 363.5L148.2 362.6L148.1 361.7L148 360.8L147.9 359.9L147.7 359L147.6 358L147.4 357.1L147.3 356.2L147.2 355.3L147.1 354.4L147.1 353.5L147.1 352.5L147.1 351.6L147.1 350.7L147.2 349.7L147.3 348.8L147.4 347.9L147.5 347L147.6 346.1L147.7 345.1L147.7 344.2L147.7 343.3L147.7 342.4L147.7 341.5L147.7 340.6L147.7 339.6L147.7 338.7L147.7 337.8L147.7 336.9L147.8 336L147.8 335L147.9 334.1L148 333.2L148.2 332.3L148.3 331.4L148.5 330.5L148.7 329.6L148.9 328.7L149.2 327.8L149.5 326.9L149.8 326L150.2 325.2L150.6 324.3L150.9 323.5L151 322.6L151.2 321.7L151.3 320.8L151.3 319.8L151.3 318.9L151.3 317.9L151.3 317L151.3 316L151.5 315.1L151.6 314.2L151.8 313.3L152.1 312.4L152.4 311.5L152.7 310.7L153 309.8L153.4 308.9L153.7 308.1L154.1 307.2L154.4 306.4L154.8 305.6L155.2 304.7L155.5 303.8L155.8 303L156.2 302.1L156.4 301.2L156.7 300.4L157 299.5L157.2 298.6L157.5 297.7L157.8 296.8L158.1 295.9L158.5 295.1L158.9 294.2L159.3 293.4L159.8 292.6L160.3 291.8L160.8 291.1L161.3 290.3L161.8 289.5L162.4 288.7L162.9 288L163.4 287.2L163.8 286.4L164.3 285.6L164.8 284.8L165.3 284.1L165.8 283.3L166.3 282.5L166.8 281.7L167.3 281L167.9 280.2L168.4 279.5L169 278.7L169.6 278L170.2 277.3L170.7 276.6L171.3 275.9L171.9 275.2L172.5 274.5L173.1 273.8L173.7 273L174.3 272.3L174.8 271.6L175.4 270.9L176 270.2L176.6 269.5L177.2 268.8L177.9 268.1L178.5 267.4L179.1 266.8L179.7 266.1L180.4 265.4L181 264.8L181.7 264.1L182.3 263.5L183 262.8L183.6 262.2L184.3 261.5L185 260.9L185.7 260.3L186.4 259.7L187.2 259.2L188 258.7L188.8 258.2L189.6 257.8L190.5 257.4L191.3 257L192 256.4L192.8 255.9L193.5 255.3L194.1 254.6L194.7 253.9L195.3 253.2L196 252.5L196.6 251.8L197.3 251.2L198.1 250.6L198.8 250.1L199.6 249.6L200.4 249.1L201.1 248.6L202 248.2L202.8 247.7L203.6 247.3L204.5 247L205.3 246.6L206.2 246.3L207 245.9L207.8 245.5L208.7 245L209.5 244.6L210.2 244L211 243.5L211.8 243L212.6 242.5L213.4 242.1L214.2 241.7L215.1 241.4L216 241.1L216.9 240.9L217.8 240.7L218.7 240.5L219.6 240.2L220.4 239.8L221.2 239.4L222.1 239L222.9 238.6L223.7 238.1L224.5 237.7L225.4 237.4L226.3 237.1L227.1 236.8L228 236.4L228.9 236.1L229.7 235.8L230.6 235.4L231.5 235L232.3 234.7L233.2 234.4L234.1 234.1L235 233.9L235.9 233.7L236.8 233.5L237.7 233.4L238.7 233.3L239.6 233.1L240.5 233L241.4 232.9L242.3 232.8L243.3 232.7L244.2 232.6L245.1 232.5L246 232.4L246.9 232.4L247.9 232.3L248.8 232.2L249.7 232.2L250.6 232.2L251.6 232.2L252.5 232.1L253.4 232.1L254.3 232L255.2 232L255.6 238.5A108.1 108.1 0 0 0 171.8 405.9Z" fill="#E7EEF6"/>
<path d="M200.8 386.8A73.3 73.3 0 0 1 257.7 273.2L257.9 276.6A69.9 69.9 0 0 0 203.6 384.9Z" fill="#E0E9F4"/>
<path d="M262 125.3A221.1 221.1 0 0 1 469.3 423.3L454.6 417.9A205.4 205.4 0 0 0 262 141ZM262 163.2A183.2 183.2 0 0 1 433.8 410.1L417 403.9A165.3 165.3 0 0 0 262 181.1ZM262 200.6A145.8 145.8 0 0 1 398.7 397.1L381.9 390.9A127.9 127.9 0 0 0 262 218.5ZM262 238.3A108.1 108.1 0 0 1 363.3 384L346.6 377.8A90.2 90.2 0 0 0 262 256.2ZM262 276.5A69.9 69.9 0 0 1 327.5 370.7L310.8 364.5A52 52 0 0 0 262 294.4ZM463.5 437.4A221.1 221.1 0 0 1 343.2 552L337.5 537.4A205.4 205.4 0 0 0 449.2 430.9ZM429 421.8A183.2 183.2 0 0 1 329.3 516.8L322.7 500.1A165.3 165.3 0 0 0 412.7 414.4ZM394.9 406.4A145.8 145.8 0 0 1 315.6 482L309 465.4A127.9 127.9 0 0 0 378.6 399ZM360.5 390.9A108.1 108.1 0 0 1 301.7 446.9L295.1 430.3A90.2 90.2 0 0 0 344.2 383.5ZM325.7 375.2A69.9 69.9 0 0 1 287.7 411.4L281.1 394.8A52 52 0 0 0 309.4 367.8ZM328.9 557.2A221.1 221.1 0 0 1 271.4 567.3L270.7 551.6A205.4 205.4 0 0 0 324.1 542.2ZM317.4 521A183.2 183.2 0 0 1 269.8 529.4L269 511.6A165.3 165.3 0 0 0 312 504ZM306.1 485.4A145.8 145.8 0 0 1 268.2 492.1L267.4 474.2A127.9 127.9 0 0 0 300.7 468.3ZM294.7 449.4A108.1 108.1 0 0 1 266.6 454.4L265.8 436.5A90.2 90.2 0 0 0 289.3 432.4ZM283.1 413A69.9 69.9 0 0 1 265 416.2L264.2 398.4A52 52 0 0 0 277.7 396ZM257.8 567.5A221.1 221.1 0 0 1 87.4 482.1L99.8 472.5A205.4 205.4 0 0 0 258.1 551.8ZM258.5 529.6A183.2 183.2 0 0 1 117.4 458.8L131.5 447.8A165.3 165.3 0 0 0 258.8 511.7ZM259.2 492.2A145.8 145.8 0 0 1 146.9 435.9L161 424.9A127.9 127.9 0 0 0 259.5 474.3ZM259.9 454.5A108.1 108.1 0 0 1 176.7 412.7L190.8 401.8A90.2 90.2 0 0 0 260.3 436.6ZM260.7 416.3A69.9 69.9 0 0 1 206.8 389.3L220.9 378.3A52 52 0 0 0 261 398.4ZM77.4 468.1A221.1 221.1 0 0 1 249 125.7L249.9 141.4A205.4 205.4 0 0 0 90.5 459.5ZM109.1 447.2A183.2 183.2 0 0 1 251.2 163.5L252.2 181.4A165.3 165.3 0 0 0 124 437.4ZM140.3 426.7A145.8 145.8 0 0 1 253.4 200.9L254.5 218.7A127.9 127.9 0 0 0 155.2 416.8ZM171.8 405.9A108.1 108.1 0 0 1 255.6 238.5L256.7 256.4A90.2 90.2 0 0 0 186.7 396.1ZM203.6 384.9A69.9 69.9 0 0 1 257.9 276.6L258.9 294.5A52 52 0 0 0 218.6 375Z" fill="#F9B077"/>
<path d="M262 120.9L263.8 120.9L265.6 120.9L267.4 121L269.2 121L271 121.1L272.9 121.1L274.7 121.1L276.5 121.2L278.3 121.3L280.1 121.4L281.8 122.7L283.4 125.1L285 126.5L286.8 126.7L288.7 125.7L290.8 123.7L292.7 122.9L294.5 123.3L296.2 123.8L298 124.1L299.8 124.4L301.6 124.6L303.3 125L305.1 125.4L306.9 125.8L308.6 126.2L310.4 126.6L312.2 126.9L313.9 127.4L315.7 127.9L317.4 128.4L319.1 128.9L320.9 129.4L322.6 129.9L324.4 130.3L326.1 130.7L327.9 131L329.7 131.4L331.4 131.9L333.2 132.4L334.9 133L336.5 133.8L338.1 134.6L339.8 135.3L341.5 136L343.2 136.6L344.9 137.2L346.6 137.7L348.4 138.2L350.1 138.8L351.8 139.4L353.5 140L355.1 140.8L356.7 141.7L358.3 142.6L359.9 143.4L361.5 144.3L363.1 145.1L364.7 145.9L366.4 146.7L368 147.5L369.5 148.4L371 149.4L372.5 150.5L374.1 151.4L375.7 152.2L377.3 153L378.8 154L380.3 155.1L381.8 156.1L383.2 157.2L384.7 158.3L386.1 159.4L387.5 160.5L389 161.5L390.5 162.5L391.5 164.2L392 166.6L393 168.3L394.4 169.3L396.5 169.5L399 169.1L401 169.6L402.3 170.8L403.6 172L405 173.2L406.4 174.3L407.8 175.4L409.2 176.6L410.6 177.7L412 178.9L413.3 180.1L414.6 181.4L415.8 182.7L417.1 184L418.4 185.3L419.6 186.6L420.8 187.9L422 189.3L423.1 190.7L424.3 192.1L425.5 193.4L426.7 194.8L427.9 196.1L429.2 197.4L430.4 198.7L431.7 199.9L433 201.2L434.3 202.4L435.5 203.8L436.6 205.2L437.7 206.6L438.8 208.1L439.9 209.5L441 211L442.1 212.4L443.2 213.8L444.3 215.2L445.4 216.6L446.4 218.1L447.4 219.6L448.4 221.1L449.4 222.6L450.4 224.1L451.5 225.6L452.6 227L453.7 228.5L454.7 230L455.6 231.6L456.5 233.1L457.3 234.7L458.1 236.3L458.9 238L459.7 239.6L460.6 241.1L461.5 242.7L462.4 244.3L463.3 245.8L464.2 247.4L465 249L465.9 250.6L466.8 252.2L467.6 253.8L468.3 255.5L468.9 257.2L469.4 259L469.6 260.8L469.7 262.7L470.4 264.4L471.6 265.8L472.8 267.3L473.6 268.9L474.1 270.7L474.5 272.5L474.8 274.2L475 276.1L475.2 277.9L475.8 279.6L477 281.1L478.1 282.7L478.8 284.4L479.2 286.1L479.6 287.9L480 289.7L480.5 291.4L481 293.1L481.4 294.9L481.8 296.7L482.2 298.4L482.7 300.2L483.3 301.9L483.8 303.6L484.3 305.4L484.8 307.2L485.2 308.9L485.6 310.7L485.9 312.5L486.2 314.3L486.5 316.1L486.7 317.9L487 319.7L487.2 321.5L487.3 323.3L487.4 325.1L487.6 326.9L487.8 328.7L488.1 330.5L488.3 332.4L488.4 334.2L488.5 336L488.5 337.8L488.6 339.6L488.6 341.4L488.6 343.3L488.7 345.1L488.7 346.9L488.7 348.7L488.9 350.5L489 352.4L489 354.2L489 356L488.9 357.8L488.8 359.7L488.5 361.5L488.3 363.3L487.5 365L486.3 366.8L485.1 368.5L484.9 370.2L485.5 372.1L486.2 374L486.5 375.9L486.4 377.7L486.3 379.5L486.2 381.4L486 383.2L485.8 385L485 386.7L483.5 388.3L482 389.8L481.7 391.6L482.5 393.6L483.2 395.6L483.3 397.5L482.7 399.2L482.1 401L481.6 402.7L481.1 404.5L480.6 406.2L480.2 408L479.7 409.7L479.3 411.5L478.7 413.2L478 414.9L477.3 416.6L476.7 418.3L476.2 420.1L475.7 421.8L475.1 423.6L474.5 425.3L469.3 423.3A221.1 221.1 0 0 0 262 125.3ZM262 162L263.5 162L265 162L266.4 162L267.9 162L269.4 162L270.9 162L272.4 162L273.8 162.1L275.3 162.3L276.8 162.5L278.3 162.7L279.7 162.8L281.2 162.9L282.7 163L284.2 163.1L285.6 163.2L287.1 163.5L288.6 163.8L290 164.1L291.6 163.8L293.2 162.8L294.9 161.8L296.3 162.6L297.4 165L298.5 166.9L300 167.2L301.7 166.1L303.6 164.3L305.1 164.8L306 167.3L307.1 168.8L308.5 169.2L310.1 169.2L311.9 168L313.6 167.5L315.1 167.9L316.5 168.3L317.9 168.8L319.3 169.3L320.7 169.9L322 170.6L323.3 171.4L324.6 172.2L326 172.8L327.4 173.4L328.7 173.9L330.1 174.4L331.6 174.8L333 175.1L334.5 175.6L335.9 176L337.4 176.4L338.8 176.8L340.4 177L341.9 177.3L343.1 178.2L344 179.8L344.9 181.4L346.2 182.1L348 181.9L349.8 181.6L351.4 181.8L352.9 182.3L354.3 182.8L355.7 183.3L357.1 184L358.5 184.6L359.8 185.4L361 186.3L362.2 187.2L363.3 188.3L364.2 189.6L365.2 190.9L366.2 192L367.3 193.1L368.4 194.2L369.5 195.1L370.7 196L371.9 197L373.1 197.9L374.2 198.8L375.4 199.7L376.6 200.6L377.8 201.4L379.1 202.3L380.4 203L381.8 203.6L383.2 204.3L384.6 205L385.9 205.8L387.3 206.5L388.5 207.4L389.5 208.5L390.6 209.6L391.6 210.7L392.5 212L393.4 213.2L394.4 214.3L395.5 215.3L396.6 216.4L397.6 217.4L398.7 218.5L399.7 219.7L400.5 220.9L401.2 222.3L401.9 223.6L402.9 224.8L404.1 225.7L405.4 226.6L406.6 227.6L407.8 228.5L409 229.5L410 230.6L410.9 231.8L411.8 233.1L412.6 234.3L413.4 235.6L414.2 236.9L414.9 238.2L415.5 239.7L416.1 241.1L416.7 242.4L417.4 243.8L418.1 245.1L419 246.3L420 247.4L421.1 248.5L421.5 250L421.3 251.9L421.1 253.7L421.9 255L423.8 255.6L425.7 256.2L426.5 257.5L426 259.5L425.6 261.4L425.8 262.9L426.6 264.2L427.4 265.4L428.5 266.5L429.9 267.5L431.2 268.6L432.3 269.7L433.3 270.9L434.3 272.1L434.9 273.5L435.3 274.9L435.8 276.4L436 277.9L436 279.5L436.1 281.1L436.3 282.6L436.6 284.1L437 285.5L437.3 287L437.5 288.5L437.8 289.9L438.6 291.2L440 292.4L441.4 293.5L442.3 294.8L442.6 296.3L443 297.7L443.2 299.3L443.2 300.8L443.2 302.3L443.5 303.8L444.3 305.2L445 306.5L445.6 307.9L446.1 309.4L446.6 310.8L446.9 312.3L446.8 313.8L446.8 315.4L446.8 316.9L446.7 318.4L446.7 320L446.7 321.5L446.9 322.9L447 324.4L447 325.9L446.9 327.5L446.7 329L446.7 330.5L446.9 331.9L447 333.4L447.5 334.9L448.2 336.3L448.9 337.8L449.3 339.3L449.3 340.8L449.3 342.3L449.3 343.8L449.2 345.3L449.2 346.8L449.2 348.3L449.3 349.8L449.5 351.3L448.5 352.8L446.3 354.2L445 355.6L444.9 357.1L446.1 358.6L448.1 360.3L448 361.8L445.9 363.1L444.3 364.4L444.2 365.9L444.6 367.4L445.9 369.1L446.3 370.6L446 372.1L445.7 373.5L445.2 375L444.7 376.4L444.1 377.8L443.9 379.3L444.1 380.8L444.2 382.3L444.2 383.9L444 385.4L443.9 386.9L443.2 388.2L442 389.5L440.8 390.7L440.1 392.1L439.9 393.6L439.8 395L439.7 396.6L439.8 398.1L439.9 399.7L439.4 401.1L438.3 402.3L437.2 403.5L436.8 405L437.1 406.6L437.4 408.3L437.3 409.9L436.8 411.3L433.8 410.1A183.2 183.2 0 0 0 262 163.2ZM262 199.9L263.2 199.9L264.4 199.9L265.5 199.9L266.7 200L267.9 200L269.1 200.1L270.2 200.1L271.4 200.5L272.5 201L273.7 201.1L274.9 201.2L276 201.3L277.2 201.4L278.3 201.5L279.5 201.7L280.7 201.8L281.8 202L283.1 201.6L284.4 200.8L285.7 200.3L286.9 200.1L288.1 200L289.3 200.1L290.5 200.4L291.6 200.8L292.8 201.1L293.9 201.3L295.1 201.6L296.2 202L297.3 202.5L298.4 203L299.6 203.4L300.7 203.7L301.9 204L303 204.3L304.1 204.6L305.3 204.9L306.4 205.4L307.4 206L308.5 206.6L309.6 207.1L310.7 207.3L311.9 207.5L313.1 207.9L314.1 208.3L315.2 208.8L316.4 209.1L317.6 209.4L318.7 209.7L319.6 210.7L320.1 212.4L321.1 213.1L322.2 213.6L323.6 213.3L325.4 212.3L326.9 212L328 212.4L329.1 212.8L330.2 213.3L331.4 213.7L332.5 214.1L333.6 214.6L334.6 215.2L335.7 215.8L336.7 216.4L337.8 216.9L338.9 217.5L339.9 218.1L341 218.7L342 219.3L342.9 220.1L343.7 221L344.5 222L345.4 222.8L346.4 223.5L347.4 224.2L348.1 225.2L348.6 226.6L349.1 227.9L350.1 228.6L351.5 228.7L352.9 228.9L353.8 229.6L354.4 230.8L354.9 232L355.9 232.7L357.3 232.9L358.7 233.1L359.7 233.7L360.5 234.7L361.2 235.7L362.1 236.4L363.3 236.8L364.5 237.3L365.6 237.9L366.6 238.6L367.6 239.3L368.5 240.2L369.2 241.1L369.9 242.1L370.7 243L371.6 243.9L372.4 244.7L372.6 246.2L372 248.3L371.6 250.3L372.4 251.1L373.7 251.5L375.5 251.6L376.8 252L377.7 252.8L378.5 253.7L379.4 254.6L380.3 255.4L381.1 256.2L381.5 257.4L381.4 259L381.3 260.6L382.1 261.4L383.9 261.6L385.7 261.9L386.9 262.5L387.5 263.5L388.1 264.6L387.8 266.2L386.6 268.4L386.2 270L386.8 271L388.4 271.4L391 271.3L392.1 272L391.7 273.6L391.4 275.1L391.9 276.2L393.1 276.9L394.4 277.6L395.1 278.6L395.3 279.8L395.4 281.1L395.6 282.3L395.9 283.5L396.2 284.7L396.6 285.8L397.2 286.8L397.7 287.9L398.3 288.9L398.9 290L399.4 291L400 292.1L400.5 293.2L400.9 294.3L401.6 295.3L402.4 296.3L403.2 297.3L403.8 298.3L404.2 299.5L404.5 300.6L404.9 301.8L405.2 302.9L405.6 304.1L405.9 305.2L406.3 306.4L406.6 307.5L406.1 308.9L404.7 310.5L403.7 311.9L403.9 313.1L405.1 314L406.8 314.9L407.6 315.9L407.7 317.1L407.7 318.3L408 319.5L408.7 320.6L409.4 321.7L409.9 322.8L410.2 324L410.5 325.1L410.6 326.3L410.5 327.6L410.5 328.8L410.5 330L410.6 331.2L410.8 332.4L410.8 333.6L410.9 334.8L410.9 336L410.8 337.2L410.7 338.4L410.4 339.6L410.5 340.8L410.8 342L411.1 343.1L411.1 344.3L410.8 345.5L410.6 346.7L410.3 347.9L410.1 349.1L409.9 350.3L409.8 351.5L410 352.7L410.2 353.9L410.4 355.1L410.6 356.3L410.8 357.5L410.7 358.7L410.5 359.9L410.2 361.1L410.2 362.3L410.4 363.5L410.6 364.7L410.7 365.9L410.8 367.2L410.8 368.4L409.6 369.4L407.2 370.2L405.7 371.2L405.5 372.3L405.8 373.6L407.2 375.1L407.9 376.4L407.7 377.6L407.6 378.8L407.5 380L407.4 381.2L407.3 382.4L407.2 383.6L407 384.8L406.7 386L405.4 386.9L402.9 387.4L401.7 388.3L401.3 389.4L401 390.5L400.9 391.7L401.2 393L401.3 394.3L401.3 395.6L401.1 396.8L400.7 397.9L398.7 397.1A145.8 145.8 0 0 0 262 200.6ZM262 237.6L262.9 237.6L263.7 237.6L264.6 237.6L265.5 237.7L266.4 237.7L267.2 237.7L268.1 237.8L269 238.1L269.8 238.6L270.7 238.6L271.5 238.7L272.4 238.8L273.3 238.9L274.1 239L275 239.1L275.8 239.2L276.7 239.3L277.6 238.9L278.7 238.1L279.6 237.6L280.5 237.6L281.4 237.6L282.3 237.7L283.2 237.7L284.1 237.8L285 237.8L285.9 237.7L286.9 237.6L287.6 238.5L288 240.4L288.6 241.6L289.5 241.8L290.7 240.7L292.1 238.9L293.2 238.2L294.1 238.5L295 238.7L295.6 239.7L296 241.3L296.4 242.9L297.1 243.7L298 243.6L299 243.5L300 243.4L301 243.1L302.1 242.9L303.1 242.7L304.1 242.6L305.1 242.5L306 242.7L306.8 243.2L307.6 243.7L308.3 244.3L308.9 245L309.5 245.8L310.2 246.4L310.9 247L311.7 247.5L312.5 247.9L313.4 248L314.3 248.2L315.3 248.4L316.1 248.6L317 248.9L317.8 249.4L318.5 250L319.1 250.6L319.8 251.1L320.6 251.7L321.3 252.2L322.1 252.6L323 252.8L323.9 253L324.8 253.4L325.6 253.8L326.4 254.2L326.6 255.6L326 257.9L326 259.3L326.7 259.8L327.5 260.3L329.1 259.7L330.3 259.5L331.1 259.9L331.9 260.3L332.7 260.8L333.5 261.2L334.3 261.6L334.5 262.7L334.1 264.6L334.1 265.9L334.8 266.5L336 266.4L337.7 265.8L339 265.7L339.9 266.1L340.7 266.6L341.5 267.1L342.2 267.7L342.8 268.3L343.4 269L343.8 269.8L344.2 270.7L344.7 271.5L345.3 272.2L345.8 272.9L346.5 273.5L347.3 274L348.1 274.5L348.7 275.1L349.2 275.9L349.6 276.7L350.1 277.5L350.7 278.1L351.3 278.8L351.8 279.6L352.1 280.5L352.3 281.4L352.7 282.2L353.2 283L353.7 283.7L354.3 284.4L355 285L355.8 285.6L356.3 286.2L356.8 287L357.2 287.8L357.8 288.5L358.4 289.2L359.1 289.8L359.6 290.6L359.8 291.5L360 292.4L360.2 293.3L360.3 294.3L360.5 295.2L360.7 296.1L361.1 296.9L361.5 297.7L362 298.4L362.6 299.1L363.1 299.9L363.7 300.6L364.4 301.3L365 302L364.9 303L364.1 304.3L363.3 305.6L363.4 306.5L364.6 307L365.7 307.5L366.4 308.2L366.6 309L366.9 309.9L366.7 310.9L366.1 312L365.6 313.1L366 313.9L367.5 314.4L369.1 314.8L369.7 315.6L369.5 316.6L369.4 317.5L369.2 318.5L369.2 319.4L369.2 320.3L369.3 321.2L369.5 322.1L369.8 322.9L370.2 323.7L370.7 324.5L371.2 325.3L371.8 326.1L372.4 327L373 327.8L372.6 328.7L371.3 329.8L370 330.9L370.2 331.8L371.8 332.5L373.3 333.2L374.2 334L374.5 334.9L374.7 335.8L374.8 336.7L374.7 337.6L374.7 338.5L374.4 339.4L374 340.4L373.5 341.3L373.3 342.2L373.3 343.1L373.2 344L373.4 344.9L373.9 345.8L374.4 346.6L374.5 347.6L374.4 348.5L374.2 349.4L373.9 350.2L373.5 351.1L373 352L372.9 352.9L373.1 353.8L373.2 354.7L373.2 355.6L373.1 356.5L373 357.4L372.5 358.2L371.7 359L370.9 359.8L370.7 360.7L371.1 361.6L371.5 362.6L371.6 363.5L371.3 364.3L371 365.2L370.7 366L370.4 366.9L370.2 367.8L370.1 368.6L370 369.5L370 370.4L370 371.4L370.1 372.3L370.1 373.2L370.2 374.1L370.2 375.1L370.2 376L370 376.9L369.5 377.7L369 378.5L368.7 379.3L368.6 380.2L368.6 381.2L368.2 382L367.6 382.7L367 383.5L366.6 384.2L366.2 385.1L363.3 384A108.1 108.1 0 0 0 262 238.3ZM262 272.3L262.6 272.3L263.2 272.3L263.8 272.2L264.4 272L265 272L265.6 272L266.2 272.1L266.8 272.1L267.4 272.2L268 272.3L268.6 272.4L269.1 272.5L269.7 272.6L270.3 272.7L270.9 272.8L271.5 272.8L272.1 272.8L272.7 272.8L273.3 272.7L273.9 272.8L274.5 272.8L275.1 272.8L275.7 273L276.3 273.3L276.8 273.5L277.4 273.7L278 273.8L278.6 273.8L279.2 273.9L279.8 273.9L280.4 273.9L281 274L281.6 274.1L282.2 274.3L282.7 274.5L283.2 274.9L283.8 275.3L284.3 275.6L284.9 275.8L285.4 276L286 276.1L286.7 276L287.3 276L287.9 276.1L288.5 276.3L289.1 276.5L289.6 276.7L290.1 277.1L290.6 277.5L291.1 277.9L291.6 278.2L292.1 278.5L292.7 278.7L293.3 278.8L293.9 278.9L294.4 279.1L295 279.4L295.5 279.7L296.1 279.9L296.6 280.2L297.2 280.4L297.7 280.6L298.2 280.9L298.8 281.2L299.3 281.6L299.8 281.9L300.3 282.2L300.8 282.6L301.2 283L301.7 283.4L302.1 283.7L302.7 284L303.2 284.3L303.7 284.6L304.2 285L304.6 285.4L305.1 285.8L305.6 286.1L306.1 286.4L306.6 286.7L307.2 287L307.7 287.2L308.2 287.6L308.7 287.9L309.2 288.3L309.6 288.8L309.9 289.3L310.2 289.8L310.6 290.3L311.1 290.7L311.5 291.2L311.9 291.5L312.4 291.9L312.9 292.3L313.4 292.6L313.8 293L314.3 293.4L314.7 293.8L315.1 294.3L315.5 294.8L315.8 295.2L316.2 295.7L316.5 296.2L316.9 296.6L317.4 297L317.8 297.5L318.3 297.8L318.8 298.2L319.3 298.5L319.7 298.9L320.1 299.4L320.5 299.9L320.8 300.4L321 301L321.3 301.5L321.6 302L322 302.5L322.4 302.9L322.8 303.4L323.2 303.8L323.6 304.3L323.9 304.8L324.1 305.4L324.4 305.9L324.7 306.4L325.1 306.9L325.5 307.4L325.8 307.9L326 308.4L326.2 309L326.5 309.5L326.9 310L327.2 310.5L327.6 311L327.9 311.5L328.2 312L328.5 312.5L328.7 313.1L329 313.6L329.2 314.2L329.4 314.7L329.6 315.3L329.8 315.9L330.1 316.4L330.3 316.9L330.6 317.5L330.8 318L331.1 318.6L331.3 319.1L331.6 319.7L331.8 320.2L332 320.8L332.2 321.3L332.4 321.9L332.6 322.5L332.8 323L332.9 323.6L333.1 324.2L333.2 324.8L333.3 325.4L333.4 326L333.5 326.6L333.6 327.2L333.8 327.7L334 328.3L334.3 328.8L334.5 329.4L334.6 330L334.7 330.6L334.9 331.1L334.9 331.7L335 332.3L335.2 332.9L335.4 333.5L335.6 334L335.8 334.6L335.9 335.2L336 335.8L336.1 336.4L336 337L336 337.6L336 338.2L335.9 338.8L335.9 339.4L335.9 340L336 340.6L336.1 341.2L335.4 341.8L334.1 342.5L332.8 343.1L332.7 343.7L334.1 344.2L335.4 344.8L336.1 345.4L336.1 346L336.2 346.6L336.2 347.2L336.2 347.8L336.1 348.3L336.1 348.9L336.2 349.5L336.2 350.1L336.2 350.7L336.2 351.3L336.2 351.9L336.1 352.5L336 353.1L335.8 353.7L335.8 354.3L335.8 354.9L335.8 355.5L335.7 356.1L335.6 356.7L335.5 357.3L335.4 357.9L335.5 358.5L335.5 359.1L334.8 359.6L333.3 359.9L331.9 360.2L331.8 360.7L332.9 361.6L334.1 362.4L334.5 363.1L334.3 363.7L334 364.2L333.8 364.8L333.8 365.4L333.7 366L333.6 366.6L333.5 367.2L333.4 367.8L333.2 368.4L333.1 369L333 369.6L332.8 370.1L332.4 370.6L332.1 371.1L331.8 371.7L331.6 372.2L327.5 370.7A69.9 69.9 0 0 0 262 276.5ZM465 438L464.2 439.7L463.5 441.3L462.7 442.9L461.9 444.5L461.2 446.1L460.4 447.8L459.7 449.4L458.9 451L458.1 452.6L457.3 454.2L456.6 455.8L455.9 457.5L455.3 459.2L454.5 460.9L453.6 462.5L452.8 464L451.8 465.6L450.9 467.1L449.9 468.6L448.9 470.1L447.9 471.6L446.9 473.1L445.6 474.4L444.1 475.5L442.6 476.7L441.5 478.1L440.9 479.8L440.2 481.6L439.3 483.1L438.2 484.5L437 485.9L435.8 487.2L434.6 488.6L433.4 489.9L432.1 491.2L431 492.5L429.8 493.9L428.6 495.2L427.5 496.6L426.3 498L425.1 499.3L423.8 500.6L422.5 501.8L421.3 503.1L420.2 504.5L419 505.9L417.7 507.1L416.3 508.2L414.8 509.3L413.4 510.4L412 511.6L410.6 512.7L409.2 513.8L408 515.1L406.7 516.4L405.4 517.6L404.2 519L403 520.3L401.4 521.2L399.5 521.7L397.6 522.2L396.1 523.2L395 524.6L393.8 526.1L392.5 527.3L391 528.3L389.5 529.3L388 530.3L386.6 531.3L385.2 532.4L383.7 533.5L382.4 534.7L381 535.8L379.5 536.9L378 537.9L376.5 538.9L375 539.8L373.4 540.7L371.9 541.6L370.3 542.5L368.7 543.3L367.1 544.1L365.4 544.8L363.8 545.5L362.1 546.2L360.3 546.7L358.5 547L356.7 547.3L355.1 548.1L353.7 549.4L352.3 550.7L350.9 551.8L349.3 552.6L347.6 553.4L346 554.2L344.3 554.8L343.2 552A221.1 221.1 0 0 0 463.5 437.4ZM431.6 423L431 424.3L430.4 425.7L430 427.2L429.6 428.6L429 430L428.2 431.3L427.4 432.6L426.6 433.8L425.8 435.1L424.9 436.3L424.2 437.7L423.7 439.1L423.1 440.5L422.2 441.6L420.8 442.6L419.4 443.5L417.9 444.3L416.4 445L415.6 446.3L414.8 447.5L414.3 449L414.5 450.9L414 452.4L413 453.4L411.9 454.5L411 455.7L410.4 457.1L409.7 458.4L409.1 459.8L408.6 461.4L408.2 462.9L407.5 464.2L406.6 465.5L405.6 466.6L404.5 467.6L403 468.4L401.6 469.1L400.5 470.1L399.6 471.3L398.6 472.5L397.8 473.7L396.9 474.9L396 476.1L395.1 477.3L394.1 478.4L393 479.5L391.9 480.5L390.6 481.3L389.3 482.1L388.1 483L387 484L385.9 485.1L384.9 486.1L383.8 487.2L382.7 488.2L381.7 489.3L380.7 490.4L379.6 491.5L378.5 492.5L377.2 493.3L375.9 494.1L374.8 495L373.7 496.1L372.6 497.2L371.4 498L369.9 498.6L368.5 499.1L367.1 499.8L365.9 500.5L364.6 501.3L363.4 502.2L362.3 503.3L361.2 504.3L360 505.2L358.6 505.9L357.3 506.5L355.9 507.1L354.5 507.7L353.1 508.2L351.8 508.9L350.5 509.8L349.3 510.6L347.9 511.1L346.2 511.2L344.6 511.2L343.3 512L342.4 513.5L341.5 515L340.4 516.2L339 516.9L337.7 517.7L336.4 518.4L335 519L333.7 519.6L332.3 520.2L330.9 520.8L329.3 516.8A183.2 183.2 0 0 0 429 421.8ZM394.9 406.4L394.4 407.5L393.9 408.5L394.2 410L395.3 411.8L395.6 413.3L395.2 414.4L394.7 415.5L394.1 416.6L393.3 417.5L392.5 418.4L391.9 419.5L391.4 420.5L390.9 421.6L390.4 422.7L389.9 423.8L389.4 425L388.6 425.9L387.6 426.6L386.5 427.4L385.7 428.3L385.1 429.3L384.5 430.3L383.8 431.3L383.1 432.3L382.4 433.2L381.9 434.3L381.5 435.5L381.2 436.8L380.7 437.9L380.1 439L379.5 440L378.6 440.9L377.5 441.6L376.5 442.2L375.4 442.9L374.4 443.6L373.4 444.3L372.3 445L371.3 445.6L370.2 446.2L369.5 447.2L369.3 448.6L369 450L368.5 451.2L367.7 452.1L366.9 453L366 453.8L365.1 454.6L364.2 455.3L363.3 456.2L362.5 457L361.7 457.9L360.8 458.8L360 459.7L359.1 460.5L358.2 461.2L357.1 461.8L356.1 462.4L355 463.1L354.1 463.8L353.1 464.5L352.2 465.3L351.4 466.2L350.5 467.1L349.5 467.7L348.4 468.2L347.2 468.6L346.2 469.2L345.2 469.9L344.3 470.7L343.3 471.4L342.3 472L341.3 472.7L340.3 473.3L339.3 474L338.3 474.6L337.2 475.2L336.1 475.6L335 476.1L333.8 476.3L332.5 476.4L331.2 476.5L330.1 477.1L329.3 478.1L328.5 479.1L327.5 479.7L326.2 479.9L325 480.1L323.9 480.5L322.9 481.1L321.8 481.7L320.8 482.3L319.8 482.9L318.7 483.5L317.7 484.1L316.6 484.5L315.6 482A145.8 145.8 0 0 0 394.9 406.4ZM364.2 392.5L363.8 393.3L363.3 394.1L362.7 394.8L362 395.5L361.6 396.3L361.5 397.2L361.4 398.2L361.1 399L360.7 399.8L360.2 400.6L359.4 401.2L358 401.4L356.7 401.7L356.3 402.5L356.7 403.8L357.2 405.1L356.3 405.6L354.1 405.2L352.6 405.3L352.1 406.1L352.8 407.5L354 409.5L354.4 410.8L353.7 411.4L353.1 412.1L352.4 412.7L351.6 413.2L350.8 413.7L350.1 414.4L349.7 415.2L349.3 416L348.8 416.7L348.3 417.5L347.8 418.2L347.2 418.9L346.7 419.6L346.1 420.3L345.5 421L344.9 421.6L344.2 422.2L342.9 422.2L340.9 421.5L339.7 421.6L339.1 422.2L339 423.4L339.7 425.3L339.6 426.5L338.8 426.9L337.9 427.3L337.1 427.8L336.4 428.3L335.7 428.8L335 429.4L334.3 430L333.6 430.6L333 431.2L332.4 431.8L331.8 432.5L331.1 433.1L330.3 433.5L329.5 434L328.8 434.5L328.2 435.1L327.5 435.7L326.8 436.3L326.1 436.8L325.3 437.2L324.6 437.8L324 438.4L323.4 439.1L322.7 439.7L322 440.2L321.3 440.8L320.6 441.4L319.9 441.9L319.2 442.5L318.4 443L317.7 443.5L316.9 443.9L316 444.3L315.1 444.4L314.2 444.5L313.4 444.9L312.7 445.6L312 446.3L311.3 446.8L310.5 447.1L309.6 447.5L308.8 447.8L308 448.2L307.2 448.6L306.4 449L305.6 449.4L304.8 449.9L304 450.3L303.2 450.6L301.7 446.9A108.1 108.1 0 0 0 360.5 390.9ZM329.2 376.7L329 377.3L328.8 377.9L328.8 378.5L328.8 379.2L328 379.5L326.4 379.3L324.8 379.1L324.6 379.6L325.6 380.8L326.6 382.1L327 382.9L326.6 383.4L326.2 383.9L325.9 384.4L325.7 385L325.5 385.6L325.3 386.1L325 386.6L324.7 387.1L324.3 387.6L323.8 388L323.4 388.5L323 388.9L322.5 389.3L322.1 389.7L321.3 389.9L320.1 389.8L319 389.6L318.7 390.1L319.1 391.2L319.5 392.3L319.6 393L319.2 393.5L318.8 393.9L318.4 394.4L318.1 394.9L317.7 395.4L317 395.5L315.8 395.2L314.6 395L314.3 395.4L314.8 396.7L315.2 397.9L315.1 398.7L314.6 399L314 399.2L313.5 399.6L313.1 400L312.7 400.4L312.2 400.8L311.7 401.1L311.1 401.4L310.7 401.8L310.3 402.2L309.8 402.6L309.5 403.1L309.2 403.6L308.9 404.2L308.5 404.7L308 405.1L307.6 405.5L307.1 405.9L306.7 406.3L306.2 406.7L305.7 407L305.1 407.2L304.5 407.4L303.9 407.5L303.3 407.7L302.7 407.9L302.2 408.2L301.8 408.6L301.3 409.1L300.5 408.9L299.4 408L298.2 407.2L297.8 407.6L298.1 409.3L298.4 411L298.3 412L297.7 412.3L297.2 412.6L296.6 412.8L296 412.9L295.4 413L294.8 413.1L294.2 413.3L293.6 413.4L293 413.6L292.5 413.8L291.9 414L291.4 414.3L290.9 414.7L290.4 415L289.9 415.3L289.3 415.6L287.7 411.4A69.9 69.9 0 0 0 325.7 375.2ZM329.9 560.4L328.2 561L326.4 561.5L324.7 562L323 562.5L321.3 563L319.5 563.6L317.8 564.1L316.1 564.5L314.3 564.9L312.5 565.3L310.8 565.6L309 565.8L307.2 566L305.4 566.2L303.6 566.4L301.8 566.6L300 566.9L298.3 567.3L296.5 567.6L294.7 568L293 568.3L291.2 568.6L289.4 569L287.6 569.2L285.9 569.5L284.1 569.8L282.3 570.1L280.5 570.3L278.7 570.5L276.9 570.7L275.1 570.8L273.3 570.9L271.5 571L271.4 567.3A221.1 221.1 0 0 0 328.9 557.2ZM318 523L316.6 523.4L315.2 524L313.9 524.8L312.6 525.6L311.2 526.3L309.8 526.8L308.4 527.3L306.9 527.7L305.4 527.8L303.9 527.9L302.2 527.3L300.4 525.9L298.9 525.8L297.5 526.1L296.2 527.4L295.1 529.7L293.8 530.8L292.3 530.7L290.7 530.6L289.2 530.7L287.8 531L286.3 531.3L284.8 531.6L283.3 531.9L281.9 532.1L280.4 532.2L278.9 532.2L277.3 532.1L275.8 532L274.3 531.9L272.8 531.7L271.3 531.7L269.9 531.8L269.8 529.4A183.2 183.2 0 0 0 317.4 521ZM307.1 488.5L305.9 488.8L304.7 489L303.5 489.1L302.3 489.1L301 489.1L299.8 489L298.5 488.8L297.4 489.1L296.3 489.9L295.3 490.6L294.1 490.9L292.9 490.6L291.6 490.4L290.5 490.7L289.5 491.7L288.4 492.6L287.3 493.1L286.1 493.4L285 493.6L283.7 493L282.3 491.8L281 491L279.8 491.1L278.8 492.1L277.7 493.6L276.6 494.3L275.4 494.1L274.2 494L273 493.8L271.8 493.8L270.6 493.7L269.4 493.6L268.2 493.7L268.2 492.1A145.8 145.8 0 0 0 306.1 485.4ZM294.7 449.4L293.9 449.7L293 450L292.5 451.4L292.2 453.2L291.5 454.3L290.6 454.5L289.8 454.7L288.9 455L288.1 455.5L287.3 455.9L286.4 456.2L285.5 456.4L284.7 456.6L283.8 456.8L282.9 457L282 457.2L280.9 456.3L279.7 454.3L278.7 453.2L277.8 453.3L277 454L276.4 455.7L275.5 456.4L274.6 456L273.7 455.6L272.8 455.6L271.9 455.9L271.1 456.3L270.2 456.5L269.3 456.6L268.4 456.7L267.6 456.8L266.7 456.8L266.6 454.4A108.1 108.1 0 0 0 294.7 449.4ZM284.6 417.8L284.1 417.9L283.5 418.1L282.9 418.1L282.3 418.2L281.7 418.3L281.1 418.3L280.5 418.4L279.9 418.4L279.3 418.5L278.7 418.6L278.1 418.8L277.5 418.9L276.9 419L276.4 419.2L275.8 419.5L275.3 419.8L274.7 420.1L274.1 420.2L273.5 420.3L272.9 420.2L272.3 420.1L271.7 420L271.1 419.9L270.5 419.8L269.8 419.8L269.3 419.8L268.7 419.9L268.1 420L267.5 420.1L266.9 420.2L266.3 420.3L265.7 420.4L265.1 420.4L265 416.2A69.9 69.9 0 0 0 283.1 413ZM257.7 570.9L255.9 570.9L254.1 570.5L252.3 569.9L250.6 569.3L248.8 569.2L246.9 569.7L245.1 570.3L243.3 570.4L241.5 570.1L239.7 569.8L237.9 569.5L236.1 569.3L234.4 569L232.6 568.7L230.8 568.4L229 568.1L227.3 567.8L225.5 567.6L223.7 567.4L221.9 567.2L220.1 567L218.3 566.9L216.5 566.5L214.8 566L213 565.5L211.3 565L209.6 564.5L207.9 563.9L206.3 562.7L205 560.7L203.5 559.6L201.7 559.1L199.8 559.4L197.6 560.6L195.6 561L193.9 560.5L192.1 560.1L190.5 559.2L189 558L187.5 556.8L185.8 556.2L183.9 556.2L182 556.2L180.2 555.8L178.6 555L177 554.2L175.3 553.5L173.6 553L171.9 552.4L170.2 551.8L168.5 551L166.9 550.2L165.3 549.3L163.8 548.4L162.3 547.4L160.7 546.5L159.1 545.7L157.5 544.9L155.9 544.1L154.3 543.2L152.8 542.3L151.2 541.3L149.7 540.4L148.1 539.5L146.6 538.5L145.1 537.6L143.6 536.6L142.1 535.5L140.8 534.2L139.6 532.9L137.9 532.1L136 531.7L134.1 531.4L132.3 530.7L130.8 529.7L129.3 528.7L128.1 527.3L127.2 525.6L126.3 523.8L125 522.5L123.3 521.7L121.6 520.9L120.1 520L118.7 518.9L117.3 517.8L115.8 516.7L114.4 515.6L112.9 514.5L111.6 513.3L110.3 512L109.1 510.7L108 509.2L107 507.6L106.1 506L104.8 504.8L103.1 504L101.4 503.1L99.9 502L98.6 500.8L97.3 499.5L96.1 498.2L95.1 496.7L94 495.2L93.5 493.3L93.6 490.8L93 489L91.9 487.6L90.1 486.8L87.7 486.4L85.9 485.6L84.8 484.2L87.4 482.1A221.1 221.1 0 0 0 257.8 567.5ZM258.4 533.1L256.9 533L255.4 532.9L253.9 532.8L252.4 532.6L251 532.1L249.5 531.4L248.1 530.7L246.6 530.7L245 531.5L243.5 532.2L242 531.6L240.7 529.7L239.4 528.2L238 528L236.3 529L234.6 530.5L233 531.2L231.5 531.1L230 530.9L228.5 530.6L227.1 530.3L225.6 530L224.2 529.1L223 527.8L221.8 526.4L220.4 525.6L219 525.4L217.5 525.1L215.9 525.5L214.1 526.5L212.2 527.6L210.8 527.2L209.8 525.3L208.8 523.5L207.4 522.8L205.7 523.4L203.9 524L202.5 523.6L201.4 522.2L200.3 520.8L198.9 520.3L197.1 520.7L195.4 521.1L193.8 521.1L192.4 520.5L191 520L189.6 519.3L188.3 518.5L187.1 517.7L185.6 517.2L184.1 517L182.5 516.8L181 516.5L179.6 516L178.1 515.4L176.8 514.7L175.6 513.7L174.4 512.7L173.2 511.8L171.9 511L170.7 510.2L169.4 509.4L168.1 508.7L166.8 507.9L165.5 507.1L164.3 506.2L163.1 505.3L161.9 504.4L160.7 503.4L159.5 502.5L158.2 501.8L156.7 501.3L155.2 500.8L154 499.9L153 498.8L151.9 497.6L150.9 496.5L149.9 495.4L148.8 494.3L147.7 493.3L146.6 492.3L145.4 491.4L144.2 490.5L142.9 489.7L141.6 489L140.3 488.2L139 487.4L137.6 486.6L136.6 485.6L135.8 484.2L135 482.9L134.6 481.1L134.6 478.9L134 477.5L132.9 476.4L131.1 476.2L128.6 476.5L127 476L126.2 474.7L125.4 473.5L124.5 472.2L123.6 471L122.7 469.8L121.6 468.8L120.3 467.9L119 467.1L117.8 466.1L116.8 465L115.7 463.9L114.7 462.8L113.8 461.6L117.4 458.8A183.2 183.2 0 0 0 258.5 529.6ZM259.1 496.8L257.9 496.8L256.7 496.8L255.5 496.9L254.3 497.1L253.1 496.3L252 494.8L250.9 493.2L249.7 493L248.5 494.2L247.1 495.4L245.9 495.9L244.7 495.7L243.5 495.5L242.3 495.2L241.1 494.8L240 494.4L238.8 494.3L237.6 494.3L236.4 494.3L235.1 494.2L234 493.9L232.8 493.7L231.6 493.4L230.4 493.2L229.3 492.9L228.1 492.7L226.9 492.5L225.7 492.2L224.6 491.9L223.4 491.4L222.3 491L221.2 490.5L220.1 490L219 489.5L217.9 489L216.8 488.5L215.7 488.1L214.5 487.7L213.4 487.3L212.2 487L211.1 486.7L209.9 486.4L208.7 486.2L207.5 485.9L206.4 485.5L205.3 485L204.3 484.2L203.6 482.9L202.8 481.6L202.2 480.2L201.4 479L200.4 478.5L199.3 478L197.9 478.3L196 479.5L194.4 480L193.2 479.7L191.9 479.5L190.9 478.9L189.9 478.1L189 477.3L188 476.6L186.9 476.1L185.9 475.5L184.8 474.9L183.8 474.3L182.8 473.6L181.8 473L180.8 472.3L179.7 471.7L178.7 471.1L177.5 470.7L176.3 470.3L175.3 469.7L174.4 468.8L173.6 467.9L172.7 467.1L171.7 466.4L170.7 465.7L169.9 464.8L169.2 463.8L168.5 462.7L167.7 461.8L166.8 461L165.9 460.2L164.8 459.6L163.6 459.2L162.3 458.8L161.3 458.1L160.6 457.1L159.9 456.1L159.2 455.1L158.5 454L157.9 453L157.1 452.1L156.1 451.4L155.2 450.6L154.2 449.9L153.2 449.2L152.3 448.4L151.3 447.7L150.5 446.8L149.6 446L148.9 445L148.4 443.8L148 442.6L147.4 441.6L146.7 440.6L146 439.6L145.2 438.7L144.5 437.7L146.9 435.9A145.8 145.8 0 0 0 259.2 492.2ZM259.8 458.6L258.9 458.6L258 458.6L257.1 458.5L256.2 458.5L255.3 458.6L254.4 458.7L253.5 458.9L252.6 459L251.7 459L250.8 459.1L249.9 458.9L249 458.5L248.1 458.1L247.3 457.8L246.4 457.7L245.5 457.6L244.6 457.6L243.7 457.5L242.7 457.5L241.9 457.2L241.1 456.7L240.2 456.1L239.4 455.8L238.5 455.8L237.6 455.7L236.6 455.7L235.7 456L234.7 456.2L233.7 456.2L232.9 456L232 455.7L231.2 455.3L230.4 454.7L229.6 454.1L229 453.1L228.5 451.6L228.1 450.1L227.2 450L225.9 451.1L224.5 452.2L223.7 451.9L223.4 450.2L223.1 448.4L222.2 448.2L220.8 449.4L219.3 450.7L218.2 451.1L217.3 450.9L216.4 450.7L215.5 450.3L214.8 449.8L214 449.3L213.3 448.6L212.7 447.8L212.1 447.1L211.4 446.3L210.7 445.7L210.1 445L209.6 444.1L209.3 442.7L209 441.4L208.2 441.1L206.8 441.8L205.3 442.5L204.2 442.6L203.5 442.1L202.7 441.6L202.1 441L201.4 440.3L200.8 439.6L200.1 439L199.3 438.6L198.6 438.1L197.8 437.7L196.8 437.4L195.9 437.2L195.1 436.8L194.4 436.3L193.6 435.7L193.2 434.8L193.1 433.4L193.1 432.1L192.3 431.7L190.8 432.1L189.3 432.5L188.2 432.3L187.7 431.5L187.2 430.8L186.7 429.9L186.4 429L186 428.1L185.4 427.4L184.6 426.9L183.8 426.4L183.8 425.2L184.7 423.1L184.6 421.9L184 421.3L182.8 421.3L180.6 422.1L179.2 422.2L178.6 421.5L178 420.8L177.5 420L177.2 419.1L176.9 418.2L176.4 417.5L175.8 416.8L175.2 416.1L174.6 415.5L174.1 414.8L176.7 412.7A108.1 108.1 0 0 0 259.9 454.5ZM260.6 420.1L260 420.1L259.4 420L258.8 420L258.2 420L257.6 420.1L257 420.2L256.4 420.3L255.8 420.4L255.2 420.2L254.6 420.1L254.1 420L253.5 419.9L252.9 419.8L252.3 419.7L251.7 419.8L251.1 419.8L250.5 419.7L249.9 419.4L249.4 419.2L248.8 419L248.2 419L247.6 418.9L247 418.9L246.4 419L245.8 419L245.2 418.9L244.7 418.6L244.1 418.3L243.6 418.1L243 418L242.4 417.9L241.7 417.9L241.1 417.9L240.5 417.9L239.9 417.8L239.3 417.6L238.8 417.4L238.3 417.1L237.8 416.6L237.3 416.2L236.8 415.9L236.2 415.8L235.6 415.6L235 415.5L234.4 415.4L233.8 415.3L233.3 415.1L232.7 414.8L232.2 414.6L231.6 414.4L231 414.2L230.4 414L229.9 413.8L229.4 413.4L228.9 413L228.4 412.8L227.8 412.6L227.2 412.5L226.7 412.2L226.2 411.8L225.7 411.4L225.3 411L224.8 410.6L224.4 410.2L223.9 409.8L223.4 409.5L222.9 409.2L222.4 408.9L221.9 408.5L221.4 408.2L220.9 407.9L220.3 407.7L219.8 407.5L219.2 407.2L218.8 406.8L218.3 406.4L217.8 406.1L217.2 405.9L216.6 405.7L216.1 405.3L215.7 404.9L215.3 404.5L214.9 404L214.5 403.5L214.2 403L214.1 402.2L214.3 401.1L214.6 399.9L214.1 399.5L213 399.9L211.8 400.3L211 400.3L210.6 399.9L210.2 399.5L209.7 399.1L209.2 398.7L208.7 398.4L208.3 397.9L208 397.4L207.7 396.8L207.4 396.4L206.9 396L206.5 395.6L206.1 395.2L205.7 394.7L205.3 394.3L204.9 393.8L204.6 393.3L204.3 392.7L204 392.3L203.6 391.8L206.8 389.3A69.9 69.9 0 0 0 260.7 416.3ZM75.6 469.3L74.6 467.8L73.7 466.3L72.9 464.6L72.2 463L71.5 461.3L71 459.6L70.4 457.8L69.7 456.2L68.8 454.6L67.9 453.1L67.1 451.5L66.3 450L65.5 448.4L64.7 446.8L63.8 445.2L63 443.6L62.2 442L61.5 440.4L60.8 438.8L60 437.2L59.3 435.6L58.6 433.9L58.2 432.2L57.5 430.5L56.9 428.9L56.2 427.2L54.1 426.1L51.2 425.3L50.6 423.6L52.2 421.1L53.1 418.9L52.6 417.2L50.5 416.1L47.6 415.1L45.9 413.7L45.3 412L44.6 410.3L44.1 408.6L43.8 406.8L43.4 405L44.1 402.9L46 400.6L47.1 398.5L46.7 396.8L45.8 395.1L43.8 393.8L42.2 392.3L40.9 390.7L39.7 389.1L38.9 387.4L38.6 385.6L38.2 383.8L39.2 381.8L41.5 379.6L43.1 377.6L42.9 375.8L40.7 374.3L37.9 372.8L36.5 371.2L36.7 369.3L36.8 367.5L37.5 365.6L38.8 363.7L40.1 361.8L40 360L38.5 358.3L37 356.6L36.5 354.8L37.1 353L37.6 351.1L37.4 349.3L36.4 347.5L35.4 345.7L34.9 343.9L35.1 342.1L35.2 340.3L35.4 338.5L35.8 336.7L36.3 334.9L36.5 333.1L36.6 331.2L36.6 329.4L36.6 327.6L36.5 325.8L36.4 323.9L36.4 322.1L36.7 320.3L36.9 318.5L37.6 316.8L38.7 315.1L39.9 313.4L41.4 311.8L43.4 310.3L44.1 308.7L44.5 306.9L43.3 304.9L41.3 302.7L40.4 300.7L40.6 298.8L40.8 297L41.5 295.3L42.8 293.8L44.1 292.2L44.5 290.5L44 288.5L43.6 286.5L44.4 284.8L46.6 283.6L48.8 282.4L49.5 280.7L48.7 278.6L47.9 276.4L47.8 274.5L48.4 272.8L49 271L49.5 269.3L50.1 267.6L50.6 265.9L51.1 264.1L51.6 262.3L52.1 260.6L52.7 258.8L53.5 257.2L54.3 255.6L55.2 254L56.2 252.5L57.2 250.9L59.1 249.8L61.9 249.2L63.9 248.2L64.7 246.6L64.2 244.3L62.9 241.6L62.7 239.4L63.5 237.8L64.3 236.2L65.8 235L68.1 234.2L70.3 233.4L71.6 232.1L71.8 230.1L72.1 228.2L72.4 226.3L72.8 224.4L73.3 222.6L75 221.5L77.9 221.3L80.1 220.7L81.1 219.2L81.8 217.5L81.5 215.1L82.5 213.6L84.9 213.2L86.4 212.1L87.5 210.7L87.5 208.4L86.9 205.6L87.1 203.5L88.1 201.9L89.1 200.4L91.1 199.7L94.1 200L96.5 199.7L97.7 198.4L97.9 196.1L97.4 193.3L97.8 191.2L99.1 189.9L100.3 188.6L102.4 188.1L105.3 188.4L107.6 188.2L108.8 186.9L109.1 184.6L108.8 181.7L109.3 179.6L110.7 178.4L112 177.2L113.4 176L114.7 174.7L116 173.5L117.4 172.3L118.8 171.2L120.3 170.1L122.4 169.9L125.3 170.6L127.7 170.8L129.1 169.7L130.2 168.2L130.7 165.8L131.3 163.7L132.2 161.8L133 159.8L134.3 158.4L135.8 157.4L137.4 156.5L139.4 156.3L141.9 156.8L144.4 157.4L146 156.6L146.7 154.3L147.4 152L148.5 150.3L150 149.2L151.5 148.2L153.3 147.6L155.4 147.6L157.4 147.6L159 146.8L160.2 145.1L161.3 143.4L162.8 142.2L164.4 141.5L166.1 140.8L168 140.4L170 140.5L172 140.6L173.7 140L175.1 138.6L176.5 137.3L178.1 136.3L179.7 135.6L181.4 134.9L183.3 134.6L185.2 134.7L187.2 134.8L189 134.5L190.7 134L192.4 133.4L194.1 132.8L195.8 132.3L197.5 131.8L199.1 130.8L200.6 129.4L202.1 128.1L203.8 127.2L205.6 126.9L207.4 126.6L209.1 126.1L210.9 125.6L212.6 125L214.4 124.6L216.1 124.2L217.9 123.8L219.7 123.5L221.5 123.2L223.3 123L225.1 122.8L226.9 122.5L228.7 122.2L230.5 122L232.3 121.8L234.2 121.7L236 121.5L237.8 121.3L239.6 121.1L241.4 120.9L243.2 120.8L245 120.7L246.8 120.6L248.6 120.4L249 125.7A221.1 221.1 0 0 0 77.4 468.1ZM104.6 450.2L103.8 448.9L103 447.6L102.1 446.4L101.3 445.1L100.5 443.8L99.8 442.5L99.2 441.1L98.6 439.7L98 438.3L97.5 436.8L96.8 435.5L95.8 434.3L94.8 433.1L93.9 431.9L93.1 430.6L92.3 429.3L92.7 427.5L94.1 425.1L95.5 422.8L94.9 421.5L93.2 420.7L91 420L90.5 418.6L91.9 416.4L92 414.7L91.5 413.4L91 412L89.9 410.8L88.9 409.6L88.7 408.1L88.4 406.7L87.7 405.4L86.4 404.2L85.2 403.1L84.7 401.6L85 400L85.3 398.4L84.5 397L82.7 396L80.9 394.9L79.8 393.7L79.4 392.2L79 390.8L78.7 389.3L78.5 387.8L78.3 386.3L78 384.8L77.5 383.4L77 381.9L77.8 380.2L79.7 378.4L81.3 376.6L81.1 375.1L79.4 373.9L77.2 372.7L76.2 371.4L76.4 369.8L76.6 368.3L77.5 366.7L79 365L79.6 363.5L79.5 362L78.9 360.6L77.2 359.2L76.3 357.8L76.1 356.3L76 354.8L76.3 353.3L77.2 351.8L78.1 350.3L77.9 348.8L76.5 347.3L75.2 345.9L74.6 344.3L74.7 342.8L74.8 341.3L74.7 339.8L74.4 338.3L74.1 336.8L74.7 335.3L76.3 333.9L77.8 332.5L78.6 331.1L78.8 329.6L78.9 328.2L79 326.7L79.1 325.2L79.2 323.7L79.3 322.3L79.5 320.8L79.7 319.3L79.2 317.8L78 316.1L76.9 314.3L77.3 312.9L79.1 311.7L80.9 310.5L81.5 309.1L81 307.5L80.5 305.9L80.2 304.3L80.1 302.7L80.1 301.2L80.2 299.7L80.7 298.2L81.1 296.8L81.3 295.3L81.5 293.7L81.6 292.2L81.9 290.7L82.5 289.3L83.1 287.9L83.7 286.5L84.3 285.1L84.9 283.8L85.5 282.4L86.1 281L86.7 279.6L87.2 278.2L87.5 276.7L87.9 275.2L89.1 274.1L91 273.3L93 272.5L94.5 271.6L95.3 270.3L96 269L96.6 267.6L95.6 265.5L94.4 263.3L94.3 261.5L95.3 260.3L96.2 259.2L97 257.9L97.6 256.5L98.3 255.1L99.1 253.8L100 252.6L100.9 251.5L102.6 250.7L105 250.4L106.5 249.6L107.2 248.4L107 246.4L105.9 244L105.8 242.1L106.6 240.8L107.4 239.5L108.3 238.3L109.5 237.3L110.7 236.3L111.7 235.2L112.5 233.9L113.3 232.6L114.1 231.3L114.9 230.1L115.7 228.8L116.5 227.5L117.1 226.1L117.8 224.7L118.6 223.4L119.6 222.2L120.5 221L121.6 220L122.9 219.1L124.2 218.2L125.5 217.4L126.8 216.5L128.2 215.7L129.4 214.8L130.5 213.8L131.6 212.8L132.7 211.8L133.8 210.7L134.8 209.7L135.9 208.6L136.9 207.5L138 206.5L139.1 205.5L140.3 204.6L141.6 203.7L142.7 202.8L143.8 201.8L144.9 200.8L146.3 200.1L147.9 199.7L149.6 199.4L151.3 199.3L153.1 199.1L154.2 198.2L155.4 197.4L155.9 195.5L155.9 192.9L156.5 191.1L157.6 190L158.7 189L160 188.2L161.5 187.7L162.9 187.2L164.3 186.5L165.6 185.8L166.9 185.1L168.2 184.3L169.6 183.6L170.9 182.9L172.1 182L173.2 180.9L174.3 179.8L175.9 179.5L177.8 180L179.7 180.5L181.1 180L182 178.4L183 176.9L184.1 175.7L185.3 174.8L186.6 174L188.4 174.4L190.7 176L192.7 176.8L194 176.3L195 174.8L195.7 172.4L196.8 171L198.2 170.5L199.6 170.1L201 169.5L202.4 168.8L203.7 168.1L205.1 167.4L206.5 166.8L207.9 166.2L209.3 165.8L210.9 165.7L212.4 165.7L214.2 166.4L216.1 168L217.8 168.6L219.2 168.3L220.4 166.6L221.3 164.1L222.5 162.7L224 162.5L225.5 162.3L227 162L228.5 161.6L229.9 161.2L231.4 160.8L232.9 160.5L234.4 160.1L235.9 160L237.4 160.1L238.9 160.2L240.4 160L241.9 159.6L243.4 159.3L244.9 159.1L246.4 159.2L247.9 159.3L249.4 159.4L250.9 159.3L251.2 163.5A183.2 183.2 0 0 0 109.1 447.2ZM136.4 429.2L135.8 428.2L135 427.2L134.2 426.3L133.3 425.5L132.6 424.4L132.1 423.3L131.6 422.2L131.1 421.1L130.5 420.1L129.9 419L130.3 417.4L131.7 415.4L132.6 413.5L132 412.5L130.4 412L128.2 411.8L126.8 411.1L126.2 410.1L125.6 409L125.2 407.9L124.9 406.7L124.6 405.5L124.6 404.2L124.9 402.8L125.2 401.4L124.8 400.3L123.6 399.5L122.3 398.7L122.4 397.4L123.8 395.6L124.3 394.2L123.9 393.1L123.5 392L122.7 391L121.2 390.3L119.5 389.5L117.8 388.8L116.8 387.8L116.5 386.7L116.2 385.5L115.9 384.3L115.6 383.1L115.3 382L116.1 380.5L118.1 378.8L119.5 377.3L119.3 376.2L119 375L118.3 374L117.6 372.9L117.4 371.8L117.2 370.6L116.6 369.5L115.5 368.5L114.4 367.4L113.7 366.3L113.6 365.1L113.4 363.9L113.1 362.8L112.7 361.6L112.3 360.4L112.8 359.2L114.1 357.9L115.4 356.6L115.3 355.4L113.8 354.3L112.2 353.2L111.6 352L112 350.8L112.3 349.6L112.6 348.4L112.9 347.2L113.2 346L113.2 344.8L113.1 343.6L113 342.4L112.7 341.2L112.1 339.9L111.6 338.7L112.1 337.5L113.8 336.4L115.5 335.4L115.7 334.2L114.3 332.9L113 331.6L113 330.4L114.4 329.3L115.8 328.3L116.1 327.1L115.1 325.8L114.1 324.4L114.3 323.3L115.6 322.3L117 321.3L117.7 320.2L117.9 319.1L118.1 317.9L117.9 316.7L117.4 315.3L116.8 314L116.7 312.7L117 311.6L117.4 310.4L117.5 309.2L117.5 308L117.5 306.8L117.8 305.6L118.3 304.5L118.7 303.4L119 302.2L119.1 300.9L119.1 299.7L120 298.7L121.7 298L123.4 297.4L124 296.3L123.4 294.9L122.8 293.4L122.7 292L122.9 290.8L123.2 289.6L123.6 288.5L124.1 287.4L124.7 286.3L126.1 285.7L128.6 285.5L129.9 284.8L130.4 283.7L130.1 282.3L128.8 280.3L128.2 278.7L128.5 277.5L128.7 276.3L129.2 275.1L129.9 274.1L130.6 273.1L131.2 272.1L131.7 271L132.3 269.9L133 268.9L133.8 268L134.7 267.1L135.2 266.1L135.6 264.9L135.9 263.6L137.1 263L139 262.8L141 262.7L142.6 262.4L143.4 261.6L144.1 260.6L144.8 259.7L144.9 258.3L144.4 256.4L144.4 254.9L144.9 253.8L145.5 252.7L146 251.6L146.7 250.6L147.3 249.6L148.8 249.3L151.2 249.7L152.9 249.7L153.7 248.8L153.7 247.3L153.1 245.1L153.2 243.6L154.2 242.8L155.2 242.1L156 241.2L156.6 240.2L157.3 239.2L158 238.2L158.7 237.2L159.5 236.2L161 236L163.3 236.8L165.3 237.3L166.2 236.5L166.1 234.6L165.7 232.3L166.1 230.9L167.1 230.3L168.2 229.7L169.8 229.7L171.9 230.5L173.4 230.6L174.4 229.9L174.7 228.3L174.4 226L174.7 224.3L175.4 223.2L176.1 222.1L176.9 221.1L177.8 220.2L178.6 219.4L179.6 218.6L180.7 218.1L181.8 217.6L183 217.2L184.3 216.9L185.5 216.6L186.7 216.3L187.9 215.9L189.1 215.6L190.7 216L192.7 217.3L194.1 217.4L195.1 216.8L195.6 215.2L195.6 212.5L196.1 210.9L197.2 210.3L198.3 209.8L199.9 210.3L201.8 211.7L203.6 212.8L204.7 212.3L205.3 210.8L205.7 208.8L206.5 207.4L207.5 206.8L208.6 206.2L209.9 206.3L211.4 207L213 207.8L214.3 208L215.4 207.7L216.6 207.3L217.5 206.4L218.2 204.9L219 203.3L220 202.5L221.3 202.5L222.5 202.6L223.8 202.5L224.9 202.2L226.1 202L227.2 201.6L228.3 201L229.4 200.5L230.5 199.8L231.6 199L232.7 198.3L233.8 197.8L235 197.6L236.2 197.5L237.4 197.4L238.7 197.6L239.9 197.7L241.1 197.6L242.3 197.3L243.5 197L244.7 197L245.9 197.2L247.2 197.5L248.4 197.4L249.6 197.1L250.7 196.8L251.9 196.6L253.1 196.5L253.4 200.9A145.8 145.8 0 0 0 140.3 426.7ZM169.1 407.6L168.7 406.9L168.1 406.2L167.5 405.5L166.9 404.8L167.2 403.6L168.3 401.9L168.6 400.7L168.1 400L166.6 399.9L164.3 400.1L162.8 399.9L162.1 399.2L161.5 398.6L161.1 397.7L161.1 396.7L161 395.7L160.8 394.8L160.5 394L160.1 393.2L160.2 392.1L160.7 390.9L161.3 389.7L160.8 389L159.2 388.7L157.7 388.3L156.7 387.8L156.3 387L155.8 386.1L155.5 385.3L155.2 384.5L154.9 383.6L154.6 382.7L154.4 381.8L154.2 380.9L155.1 379.7L157.2 378.1L158.3 376.9L158 376.1L157.1 375.4L154.9 375.1L154.6 374.3L156.3 372.9L156.9 371.9L156.7 371L156.5 370.2L156.2 369.4L156 368.5L156 367.6L155.8 366.8L155.7 365.9L153.9 365.4L151.5 364.9L150.2 364.2L150.1 363.3L150 362.4L151.1 361.3L153.3 360.1L154.6 359.1L154.5 358.2L154.5 357.3L154.3 356.5L153 355.7L151.3 355L149.6 354.2L148.9 353.3L149 352.4L149.2 351.5L149.4 350.6L149.5 349.7L149.7 348.8L149.7 347.9L149.6 347L149.5 346.1L149.5 345.2L149.6 344.3L149.7 343.4L149.7 342.5L149.6 341.6L149.5 340.6L149.6 339.7L149.9 338.9L150.2 338L150.2 337.1L149.9 336.2L149.7 335.2L149.6 334.3L149.8 333.4L149.9 332.5L150.1 331.6L150.3 330.7L150.5 329.9L151.8 329.1L154.1 328.6L155.5 328L155.6 327.1L155.8 326.2L156 325.4L156.1 324.5L155.5 323.5L154 322.3L154.2 321.4L156.2 321L157.1 320.3L157.3 319.5L156.3 318.3L154.5 316.9L153.6 315.7L153.6 314.8L153.6 313.8L153.7 312.9L154.1 312.1L154.4 311.2L154.8 310.4L155.2 309.6L155.6 308.8L156 307.9L156.2 307.1L156.5 306.2L157 305.4L157.7 304.7L158.3 304L158.8 303.2L159.1 302.4L159.4 301.5L159.6 300.6L159.6 299.7L159.6 298.7L159.7 297.7L159.9 296.8L160.1 295.9L160.5 295L161 294.3L161.6 293.5L162.1 292.8L162.5 292L163 291.2L163.4 290.4L163.9 289.6L164.4 288.9L165.9 288.7L168.3 289.1L170.2 289.3L170.7 288.5L171.2 287.8L171.3 286.9L170.8 285.5L170.1 283.9L169.4 282.4L169.4 281.3L170.2 280.7L171 280.2L171.7 279.6L172.2 278.8L172.7 278.1L173.1 277.3L173.5 276.4L173.9 275.6L174.5 274.9L175.3 274.4L176.1 273.9L176.8 273.3L177.5 272.7L178.1 272.1L178.6 271.3L178.9 270.3L179.2 269.4L179.7 268.6L180.4 268L181.1 267.5L181.8 266.9L182.5 266.3L183.2 265.7L183.8 265L184.3 264.2L184.9 263.5L185.5 262.8L186.1 262.2L186.8 261.6L187.6 261.1L188.6 260.9L189.6 260.7L190.5 260.3L191.3 259.8L192 259.4L192.8 258.9L193.5 258.4L194.3 257.9L195 257.3L195.5 256.6L196.1 255.9L196.7 255.1L197.3 254.4L197.9 253.7L198.5 253L199.2 252.3L199.8 251.6L200.5 251L201.3 250.6L202.1 250.2L203 249.8L203.8 249.5L204.7 249.1L205.5 248.8L206.4 248.4L207.2 248.1L208 247.7L208.8 247.3L209.6 246.8L210.4 246.4L211.2 246L212.1 245.7L212.8 245.1L213.5 244.4L214.1 243.7L215.4 244.2L217.1 245.9L218.7 247.4L219.5 247L220.3 246.7L221.1 246.3L221.9 246L222.4 244.8L222.4 242.5L222.9 241.1L223.6 240.6L224.4 240.1L225.2 239.6L226 239.2L226.8 238.8L227.7 238.5L228.6 238.2L229.5 238L230.5 238.5L231.7 239.5L233 240.5L233.8 240.2L234.2 238.4L234.7 236.6L235.4 235.6L236.3 235.5L237.2 235.4L238.4 236.4L239.7 238.5L241 240.4L241.9 240.2L242.4 238.1L242.8 235.7L243.5 234.5L244.5 234.4L245.4 234.3L246.3 234.4L247.2 234.6L248.2 234.9L249.1 234.8L250 234.5L250.8 234.1L251.8 234.7L252.8 236.1L253.8 237.5L254.7 238.2L255.6 238.2L255.6 238.5A108.1 108.1 0 0 0 171.8 405.9Z" fill="#808080"/>
<path d="M283.3 126.3L284.9 127.6L286.7 127.8L288.6 126.9L288.6 126.9A221.1 221.1 0 0 0 283.3 126.3ZM391.5 167.2L392.5 168.9L394 169.9L395.8 170.4L395.8 170.4A221.1 221.1 0 0 0 391.5 167.2ZM297.1 166.6L298.4 167.5L299.8 167.8L301.4 167.5L301.4 167.5A183.2 183.2 0 0 0 297.1 166.6ZM305.7 168.5L306.9 169.8L308.2 170.5L310 169.6L310 169.6A183.2 183.2 0 0 0 305.7 168.5ZM445 354.2L444.1 355.6L444.1 357L444.8 358.6L444.8 358.6A183.2 183.2 0 0 0 445 354.2ZM444.5 363L443.7 364.4L443.3 365.8L444 367.3L444 367.3A183.2 183.2 0 0 0 444.5 363ZM271.4 200.9L272.5 201.1L273.6 201.7L274.8 202.1L275.9 202.2L277.1 202.3L278.2 202.4L279.4 202.5L280.6 202.7L281.8 202.4L283 202.1L283 202.1A145.8 145.8 0 0 0 271.4 200.9ZM320 212.6L320.7 214.1L321.8 214.4L323.2 214.1L323.2 214.1A145.8 145.8 0 0 0 320 212.6ZM370.8 249.4L371.4 250.4L372 251.5L373.1 252L373.1 252A145.8 145.8 0 0 0 370.8 249.4ZM385.6 269L385.3 270.5L385.9 271.5L387.4 272L387.4 272A145.8 145.8 0 0 0 385.6 269ZM403.4 310.8L403.2 312.1L403.4 313.2L404.2 314.2L404.2 314.2A145.8 145.8 0 0 0 403.4 310.8ZM405.9 370L404.7 371L404.3 372.1L405.3 373.5L405.3 373.5A145.8 145.8 0 0 0 405.9 370ZM402 387.1L400.5 387.9L399.6 388.8L400.3 390.3L400.6 391.6L400.6 391.6A145.8 145.8 0 0 0 402 387.1ZM268.9 238.5L269.8 238.7L270.6 239.3L271.5 239.6L272.3 239.7L273.2 239.8L274 239.9L274.9 240L275.7 240.1L276.6 239.7L277.6 239.4L277.6 239.4A108.1 108.1 0 0 0 268.9 238.5ZM287.8 241.4L288.4 242.4L289.3 242.5L290.3 242.1L290.3 242.1A108.1 108.1 0 0 0 287.8 241.4ZM325.3 258.8L325.4 260.1L325.9 260.9L327.4 260.3L327.4 260.3A108.1 108.1 0 0 0 325.3 258.8ZM333.5 265.3L333.7 266.4L334.3 267L335.4 267L335.4 267A108.1 108.1 0 0 0 333.5 265.3ZM417.2 443.8L416.3 445L414.8 445.7L414.1 447L414 448.7L414 448.7A183.2 183.2 0 0 0 417.2 443.8ZM393.3 405.7L392.9 406.8L393.2 408.2L393.4 409.6L393.4 409.6A145.8 145.8 0 0 0 394.9 406.4ZM353.1 404.6L351.9 404.8L351.4 405.6L351.7 406.8L351.7 406.8A108.1 108.1 0 0 0 353.1 404.6ZM340.3 421L338.9 420.8L338.3 421.4L338.4 422.8L338.4 422.8A108.1 108.1 0 0 0 340.3 421ZM300.3 525.5L298.6 524.6L297.2 525L296 526.4L296 526.4A183.2 183.2 0 0 0 300.3 525.5ZM282.1 490.8L280.9 490.5L279.8 490.6L278.7 491.2L278.7 491.2A145.8 145.8 0 0 0 282.1 490.8ZM294.3 448.2L293.5 448.5L292.9 449.5L292.2 450.2L292.2 450.2A108.1 108.1 0 0 0 294.7 449.4ZM279.5 453.1L278.5 452.4L277.6 452.2L276.9 453.5L276.9 453.5A108.1 108.1 0 0 0 279.5 453.1ZM205.2 560.1L203.7 558.6L202 558.2L200 558.6L200 558.6A221.1 221.1 0 0 0 205.2 560.1ZM94.2 490.3L93.8 488.4L92.6 487L90.8 486.3L90.8 486.3A221.1 221.1 0 0 0 94.2 490.3ZM240.9 528.4L239.5 527.7L238 527.5L236.5 527.8L236.5 527.8A183.2 183.2 0 0 0 240.9 528.4ZM135.1 478.5L134.7 476.7L133.5 475.8L131.9 475.4L131.9 475.4A183.2 183.2 0 0 0 135.1 478.5ZM202.5 479.5L201.6 478.7L201 477.1L199.8 477L198.2 477.5L198.2 477.5A145.8 145.8 0 0 0 202.5 479.5ZM185.2 422.5L185.5 421L184.9 420.4L183.4 420.6L183.4 420.6A108.1 108.1 0 0 0 185.2 422.5ZM58.9 433.8L58.2 432.2L58.3 430.2L58.3 428.3L57 426.9L55.6 425.6L55.6 425.6A221.1 221.1 0 0 0 58.9 433.8ZM53.7 420.6L53.9 418.6L53.3 417L52 415.6L52 415.6A221.1 221.1 0 0 0 53.7 420.6ZM47.5 400.2L47.9 398.3L47.8 396.5L46.3 395L46.3 395A221.1 221.1 0 0 0 47.5 400.2ZM43.4 379.3L43.8 377.5L43.5 375.7L42.6 374.1L42.6 374.1A221.1 221.1 0 0 0 43.4 379.3ZM43.8 310.4L45.3 308.9L45.3 307.1L44.8 305.2L44.8 305.2A221.1 221.1 0 0 0 43.8 310.4ZM63.1 249.8L64.7 248.6L65.5 247L65.5 245L65.5 245A221.1 221.1 0 0 0 63.1 249.8ZM79.1 222.1L80.8 221.2L82.1 219.9L82.2 217.8L82.2 217.8A221.1 221.1 0 0 0 79.1 222.1ZM85.3 213.5L87.3 212.8L88.2 211.2L88.6 209.3L88.6 209.3A221.1 221.1 0 0 0 85.3 213.5ZM95.4 201.1L97.1 200.3L98.4 199L98.9 197.1L98.9 197.1A221.1 221.1 0 0 0 95.4 201.1ZM106.3 189.4L108.2 188.8L109.4 187.5L110.1 185.7L110.1 185.7A221.1 221.1 0 0 0 106.3 189.4ZM126.3 171.9L128.2 171.4L129.8 170.6L130.5 168.6L130.5 168.6A221.1 221.1 0 0 0 126.3 171.9ZM96.1 424.2L95.7 422.8L95.3 421.3L94.3 420.2L94.3 420.2A183.2 183.2 0 0 0 96.1 424.2ZM92.6 416.1L93.2 414.3L93.1 412.7L91.5 411.8L90.4 410.6L90.4 410.6A183.2 183.2 0 0 0 92.6 416.1ZM81.6 378.1L81.7 376.5L81.6 375.1L80.8 373.7L80.8 373.7A183.2 183.2 0 0 0 81.6 378.1ZM79.7 364.9L80.6 363.4L80.5 361.9L79.3 360.6L79.3 360.6A183.2 183.2 0 0 0 79.7 364.9ZM94.7 271.7L95.7 270.5L96.8 269.4L96.8 267.7L97.2 266.3L97.2 266.3A183.2 183.2 0 0 0 94.7 271.7ZM105.7 250.9L107.4 250.2L108 248.9L108 247.1L108 247.1A183.2 183.2 0 0 0 105.7 250.9ZM151.9 200L153.2 199.3L155 199.3L155.9 198.1L156.6 196.5L156.6 196.5A183.2 183.2 0 0 0 151.9 200ZM191.3 177.4L193 177.6L194.4 177.2L195.4 175.7L195.4 175.7A183.2 183.2 0 0 0 191.3 177.4ZM216.4 169L218.1 169.7L219.5 169.2L220.7 167.9L220.7 167.9A183.2 183.2 0 0 0 216.4 169ZM133.1 414.6L133 413.3L132.6 412.2L131.5 411.5L131.5 411.5A145.8 145.8 0 0 0 133.1 414.6ZM124.7 395.3L125.1 393.9L125.2 392.7L124 391.9L123.2 390.9L123.2 390.9A145.8 145.8 0 0 0 124.7 395.3ZM119.8 378.5L120.2 377.2L120.6 375.9L119.4 375L118.8 373.9L118.8 373.9A145.8 145.8 0 0 0 119.8 378.5ZM129.4 285.8L131 285.3L131.5 284.3L130.9 282.7L130.9 282.7A145.8 145.8 0 0 0 129.4 285.8ZM142.7 262.5L143.9 261.9L145.2 261.4L145.5 260.2L145.5 258.7L145.5 258.7A145.8 145.8 0 0 0 142.7 262.5ZM152.1 250.6L153.5 250.2L154.4 249.4L154.5 248L154.5 248A145.8 145.8 0 0 0 152.1 250.6ZM164.4 238.1L165.6 237.6L166.5 236.9L167.1 235.7L167.1 235.7A145.8 145.8 0 0 0 164.4 238.1ZM172.5 231.3L174 231.4L174.9 230.6L175.3 229.2L175.3 229.2A145.8 145.8 0 0 0 172.5 231.3ZM193.1 217.9L194.7 218.5L195.7 217.8L196.2 216.3L196.2 216.3A145.8 145.8 0 0 0 193.1 217.9ZM202.5 213.3L203.8 213.2L204.9 212.9L205.7 211.9L205.7 211.9A145.8 145.8 0 0 0 202.5 213.3ZM169 401.5L169.4 400.2L168.9 399.6L167.7 399.2L167.7 399.2A108.1 108.1 0 0 0 169 401.5ZM158.5 377.7L159.2 376.6L159.2 375.7L157.8 375.2L157.8 375.2A108.1 108.1 0 0 0 158.5 377.7ZM157.2 372.7L157.9 371.6L158.2 370.7L157.2 370L156.4 369.3L156.4 369.3A108.1 108.1 0 0 0 157.2 372.7ZM156.2 368.5L156.6 367.5L157.2 366.5L156.3 365.8L155.5 365.1L155.5 365.1A108.1 108.1 0 0 0 156.2 368.5ZM154.7 359.9L155.6 359L156.3 358L155.3 357.3L154.4 356.5L154.4 356.5A108.1 108.1 0 0 0 154.7 359.9ZM155.3 328.8L156.5 328.1L157.7 327.5L157.7 326.6L157.8 325.8L157 324.7L156.3 323.7L156.3 323.7A108.1 108.1 0 0 0 155.3 328.8ZM156.9 321.2L158.1 320.6L158.2 319.7L157.5 318.6L157.5 318.6A108.1 108.1 0 0 0 156.9 321.2ZM169.8 290L170.7 289.6L171.8 289.3L171.6 288.1L171.6 287.1L171.6 287.1A108.1 108.1 0 0 0 169.8 290ZM217.9 247.7L218.8 247.6L220.1 248.5L221 248.4L221.9 248.3L222.3 247.1L222.7 245.7L222.7 245.7A108.1 108.1 0 0 0 217.9 247.7ZM240.2 240.5L241 240.6L241.9 240.5L242.7 240L242.7 240A108.1 108.1 0 0 0 240.2 240.5Z" fill="#D81818"/>
<path d="M262 178.2A168.2 168.2 0 0 1 419.7 404.9L417 403.9A165.3 165.3 0 0 0 262 181.1ZM262 215.6A130.8 130.8 0 0 1 384.6 391.9L381.9 390.9A127.9 127.9 0 0 0 262 218.5ZM262 253.3A93.1 93.1 0 0 1 349.3 378.8L346.6 377.8A90.2 90.2 0 0 0 262 256.2ZM262 291.5A54.9 54.9 0 0 1 313.5 365.5L310.8 364.5A52 52 0 0 0 262 294.4ZM396.8 447A168.2 168.2 0 0 1 394.4 450.2L392.1 448.4A165.3 165.3 0 0 0 394.5 445.2ZM369 476.2A168.2 168.2 0 0 1 362.6 481.2L360.9 478.9A165.3 165.3 0 0 0 367.1 474ZM342.1 494.3A168.2 168.2 0 0 1 338.6 496.2L337.2 493.6A165.3 165.3 0 0 0 340.8 491.7ZM381.2 400.2A130.8 130.8 0 0 1 366.9 424.6L364.5 422.9A127.9 127.9 0 0 0 378.6 399ZM364.9 427.1A130.8 130.8 0 0 1 345.2 447.3L343.3 445.1A127.9 127.9 0 0 0 362.7 425.3ZM340.2 451.2A130.8 130.8 0 0 1 310.1 468.1L309 465.4A127.9 127.9 0 0 0 338.5 448.9ZM346.9 384.7A93.1 93.1 0 0 1 306.4 428.3L305 425.7A90.2 90.2 0 0 0 344.2 383.5ZM304.4 429.3A93.1 93.1 0 0 1 296.2 433L295.1 430.3A90.2 90.2 0 0 0 303.1 426.7ZM312 369A54.9 54.9 0 0 1 282.2 397.5L281.1 394.8A52 52 0 0 0 309.4 367.8ZM289.2 512.4A168.2 168.2 0 0 1 269.1 514.4L269 511.6A165.3 165.3 0 0 0 288.8 509.5ZM301.5 471.1A130.8 130.8 0 0 1 267.5 477.1L267.4 474.2A127.9 127.9 0 0 0 300.7 468.3ZM290.2 435.1A93.1 93.1 0 0 1 277.1 438.3L276.6 435.4A90.2 90.2 0 0 0 289.3 432.4ZM192.1 499.4A168.2 168.2 0 0 1 188.4 497.7L189.7 495.1A165.3 165.3 0 0 0 193.3 496.8ZM154.5 475.8A168.2 168.2 0 0 1 151.4 473.1L153.3 471A165.3 165.3 0 0 0 156.4 473.5ZM137 458.9A168.2 168.2 0 0 1 134.3 455.9L136.5 454A165.3 165.3 0 0 0 139.2 457ZM188.5 454.6A130.8 130.8 0 0 1 183.3 450.9L185.1 448.6A127.9 127.9 0 0 0 190.1 452.2ZM171.4 440.7A130.8 130.8 0 0 1 169.1 438.5L171.2 436.5A127.9 127.9 0 0 0 173.4 438.6ZM260.2 439.5A93.1 93.1 0 0 1 225.4 432L226.5 429.3A90.2 90.2 0 0 0 260.3 436.6ZM108 414.1A168.2 168.2 0 0 1 106.5 410.4L109.1 409.3A165.3 165.3 0 0 0 110.7 413ZM103.6 402.8A168.2 168.2 0 0 1 101 395.1L103.8 394.3A165.3 165.3 0 0 0 106.3 401.9ZM99.9 391.3A168.2 168.2 0 0 1 98.9 387.3L101.7 386.6A165.3 165.3 0 0 0 102.7 390.5ZM93.8 347.3A168.2 168.2 0 0 1 93.8 343.2L96.7 343.3A165.3 165.3 0 0 0 96.7 347.2ZM96 319A168.2 168.2 0 0 1 96.7 315L99.6 315.6A165.3 165.3 0 0 0 98.9 319.5ZM98.4 307.1A168.2 168.2 0 0 1 99.4 303.2L102.2 303.9A165.3 165.3 0 0 0 101.3 307.8ZM103 291.6A168.2 168.2 0 0 1 104.3 287.8L107.1 288.8A165.3 165.3 0 0 0 105.7 292.5ZM110.7 272.9A168.2 168.2 0 0 1 116.4 262.2L118.9 263.6A165.3 165.3 0 0 0 113.3 274.1ZM130.1 242.1A168.2 168.2 0 0 1 132.6 238.9L134.8 240.8A165.3 165.3 0 0 0 132.3 243.9ZM178.9 200.1A168.2 168.2 0 0 1 186.1 196.3L187.4 198.9A165.3 165.3 0 0 0 180.4 202.7ZM204.6 188.3A168.2 168.2 0 0 1 212.3 185.7L213.2 188.5A165.3 165.3 0 0 0 205.6 191ZM244 179.2A168.2 168.2 0 0 1 252.1 178.5L252.2 181.4A165.3 165.3 0 0 0 244.3 182ZM152.8 418.4A130.8 130.8 0 0 1 134.4 375.2L137.2 374.5A127.9 127.9 0 0 0 155.2 416.8ZM133.7 372.1A130.8 130.8 0 0 1 133.2 369L136 368.5A127.9 127.9 0 0 0 136.6 371.5ZM132.1 331.4A130.8 130.8 0 0 1 132.9 325.1L135.8 325.6A127.9 127.9 0 0 0 134.9 331.7ZM133.5 322A130.8 130.8 0 0 1 138.3 303.8L141.1 304.7A127.9 127.9 0 0 0 136.3 322.6ZM139.4 300.8A130.8 130.8 0 0 1 145.8 286.4L148.3 287.7A127.9 127.9 0 0 0 142.1 301.8ZM147.2 283.6A130.8 130.8 0 0 1 174.5 249.2L176.4 251.4A127.9 127.9 0 0 0 149.8 285ZM176.8 247.1A130.8 130.8 0 0 1 244.9 216.7L245.3 219.6A127.9 127.9 0 0 0 178.7 249.3ZM248 216.4A130.8 130.8 0 0 1 254.3 215.8L254.5 218.7A127.9 127.9 0 0 0 248.3 219.2ZM184.3 397.6A93.1 93.1 0 0 1 169.6 358.1L172.5 357.7A90.2 90.2 0 0 0 186.7 396.1ZM169.2 353.6A93.1 93.1 0 0 1 169 351.4L171.9 351.2A90.2 90.2 0 0 0 172.1 353.4ZM168.9 346.9A93.1 93.1 0 0 1 169 342.4L171.9 342.5A90.2 90.2 0 0 0 171.8 346.9ZM169.1 340.2A93.1 93.1 0 0 1 180.3 301.7L182.9 303.1A90.2 90.2 0 0 0 172 340.3ZM181.4 299.8A93.1 93.1 0 0 1 232.4 258.1L233.3 260.9A90.2 90.2 0 0 0 183.9 301.2ZM234.5 257.5A93.1 93.1 0 0 1 256.5 253.5L256.7 256.4A90.2 90.2 0 0 0 235.4 260.2Z" fill="#35E035"/>
<path d="M415.3 415.6A168.2 168.2 0 0 1 396.8 447L394.5 445.2A165.3 165.3 0 0 0 412.7 414.4ZM394.4 450.2A168.2 168.2 0 0 1 369 476.2L367.1 474A165.3 165.3 0 0 0 392.1 448.4ZM362.6 481.2A168.2 168.2 0 0 1 342.1 494.3L340.8 491.7A165.3 165.3 0 0 0 360.9 478.9ZM338.6 496.2A168.2 168.2 0 0 1 323.8 502.8L322.7 500.1A165.3 165.3 0 0 0 337.2 493.6ZM366.9 424.6A130.8 130.8 0 0 1 364.9 427.1L362.7 425.3A127.9 127.9 0 0 0 364.5 422.9ZM345.2 447.3A130.8 130.8 0 0 1 340.2 451.2L338.5 448.9A127.9 127.9 0 0 0 343.3 445.1ZM306.4 428.3A93.1 93.1 0 0 1 304.4 429.3L303.1 426.7A90.2 90.2 0 0 0 305 425.7ZM312.9 506.7A168.2 168.2 0 0 1 289.2 512.4L288.8 509.5A165.3 165.3 0 0 0 312 504ZM277.1 438.3A93.1 93.1 0 0 1 265.9 439.4L265.8 436.5A90.2 90.2 0 0 0 276.6 435.4ZM278.6 398.7A54.9 54.9 0 0 1 264.3 401.3L264.2 398.4A52 52 0 0 0 277.7 396ZM258.8 514.6A168.2 168.2 0 0 1 192.1 499.4L193.3 496.8A165.3 165.3 0 0 0 258.8 511.7ZM188.4 497.7A168.2 168.2 0 0 1 154.5 475.8L156.4 473.5A165.3 165.3 0 0 0 189.7 495.1ZM151.4 473.1A168.2 168.2 0 0 1 137 458.9L139.2 457A165.3 165.3 0 0 0 153.3 471ZM134.3 455.9A168.2 168.2 0 0 1 129.2 449.6L131.5 447.8A165.3 165.3 0 0 0 136.5 454ZM259.5 477.2A130.8 130.8 0 0 1 188.5 454.6L190.1 452.2A127.9 127.9 0 0 0 259.5 474.3ZM183.3 450.9A130.8 130.8 0 0 1 171.4 440.7L173.4 438.6A127.9 127.9 0 0 0 185.1 448.6ZM169.1 438.5A130.8 130.8 0 0 1 158.7 426.7L161 424.9A127.9 127.9 0 0 0 171.2 436.5ZM225.4 432A93.1 93.1 0 0 1 188.5 403.5L190.8 401.8A90.2 90.2 0 0 0 226.5 429.3ZM260.9 401.3A54.9 54.9 0 0 1 218.7 380.1L220.9 378.3A52 52 0 0 0 261 398.4ZM121.6 439A168.2 168.2 0 0 1 108 414.1L110.7 413A165.3 165.3 0 0 0 124 437.4ZM106.5 410.4A168.2 168.2 0 0 1 103.6 402.8L106.3 401.9A165.3 165.3 0 0 0 109.1 409.3ZM101 395.1A168.2 168.2 0 0 1 99.9 391.3L102.7 390.5A165.3 165.3 0 0 0 103.8 394.3ZM98.9 387.3A168.2 168.2 0 0 1 93.8 347.3L96.7 347.2A165.3 165.3 0 0 0 101.7 386.6ZM93.8 343.2A168.2 168.2 0 0 1 96 319L98.9 319.5A165.3 165.3 0 0 0 96.7 343.3ZM96.7 315A168.2 168.2 0 0 1 98.4 307.1L101.3 307.8A165.3 165.3 0 0 0 99.6 315.6ZM99.4 303.2A168.2 168.2 0 0 1 103 291.6L105.7 292.5A165.3 165.3 0 0 0 102.2 303.9ZM104.3 287.8A168.2 168.2 0 0 1 110.7 272.9L113.3 274.1A165.3 165.3 0 0 0 107.1 288.8ZM116.4 262.2A168.2 168.2 0 0 1 130.1 242.1L132.3 243.9A165.3 165.3 0 0 0 118.9 263.6ZM132.6 238.9A168.2 168.2 0 0 1 178.9 200.1L180.4 202.7A165.3 165.3 0 0 0 134.8 240.8ZM186.1 196.3A168.2 168.2 0 0 1 204.6 188.3L205.6 191A165.3 165.3 0 0 0 187.4 198.9ZM212.3 185.7A168.2 168.2 0 0 1 244 179.2L244.3 182A165.3 165.3 0 0 0 213.2 188.5ZM134.4 375.2A130.8 130.8 0 0 1 133.7 372.1L136.6 371.5A127.9 127.9 0 0 0 137.2 374.5ZM133.2 369A130.8 130.8 0 0 1 132.1 331.4L134.9 331.7A127.9 127.9 0 0 0 136 368.5ZM132.9 325.1A130.8 130.8 0 0 1 133.5 322L136.3 322.6A127.9 127.9 0 0 0 135.8 325.6ZM138.3 303.8A130.8 130.8 0 0 1 139.4 300.8L142.1 301.8A127.9 127.9 0 0 0 141.1 304.7ZM145.8 286.4A130.8 130.8 0 0 1 147.2 283.6L149.8 285A127.9 127.9 0 0 0 148.3 287.7ZM174.5 249.2A130.8 130.8 0 0 1 176.8 247.1L178.7 249.3A127.9 127.9 0 0 0 176.4 251.4ZM244.9 216.7A130.8 130.8 0 0 1 248 216.4L248.3 219.2A127.9 127.9 0 0 0 245.3 219.6ZM169.6 358.1A93.1 93.1 0 0 1 169.2 353.6L172.1 353.4A90.2 90.2 0 0 0 172.5 357.7ZM169 351.4A93.1 93.1 0 0 1 168.9 346.9L171.8 346.9A90.2 90.2 0 0 0 171.9 351.2ZM169 342.4A93.1 93.1 0 0 1 169.1 340.2L172 340.3A90.2 90.2 0 0 0 171.9 342.5ZM180.3 301.7A93.1 93.1 0 0 1 181.4 299.8L183.9 301.2A90.2 90.2 0 0 0 182.9 303.1ZM232.4 258.1A93.1 93.1 0 0 1 234.5 257.5L235.4 260.2A90.2 90.2 0 0 0 233.3 260.9Z" fill="#9F8FF6"/>
<path d="M216.2 376.6A54.9 54.9 0 0 1 258.8 291.6L258.9 294.5A52 52 0 0 0 218.6 375Z" fill="#FFF040"/>
<path d="M453.1 267.6A206.7 206.7 0 0 1 455.7 418.3L454.6 417.9A205.4 205.4 0 0 0 451.9 268.1ZM364.8 525.7A206.7 206.7 0 0 1 337.9 538.6L337.5 537.4A205.4 205.4 0 0 0 364.2 524.6ZM300.4 549.5A206.7 206.7 0 0 1 270.7 552.9L270.7 551.6A205.4 205.4 0 0 0 300.1 548.2ZM180.7 536.4A206.7 206.7 0 0 1 98.8 473.2L99.8 472.5A205.4 205.4 0 0 0 181.2 535.2ZM173.2 159.8A206.7 206.7 0 0 1 249.8 140.1L249.9 141.4A205.4 205.4 0 0 0 173.7 160.9Z" fill="#CC1C1C"/>
<path d="M415.6 415.8A168.6 168.6 0 0 1 408.2 430.2L407.5 429.8A167.8 167.8 0 0 0 414.9 415.4ZM406.2 433.7A168.6 168.6 0 0 1 392.1 453.6L391.5 453A167.8 167.8 0 0 0 405.5 433.3ZM389.5 456.7A168.6 168.6 0 0 1 384 462.7L383.5 462.1A167.8 167.8 0 0 0 388.9 456.1ZM381.2 465.6A168.6 168.6 0 0 1 327.7 501.6L327.4 500.9A167.8 167.8 0 0 0 380.6 465ZM254.7 514.8A168.6 168.6 0 0 1 250.7 514.6L250.7 513.8A167.8 167.8 0 0 0 254.7 514ZM246.6 514.2A168.6 168.6 0 0 1 238.5 513.3L238.7 512.5A167.8 167.8 0 0 0 246.7 513.4ZM230.5 512A168.6 168.6 0 0 1 207 505.7L207.3 505A167.8 167.8 0 0 0 230.7 511.2ZM203.2 504.4A168.6 168.6 0 0 1 188.3 498L188.6 497.3A167.8 167.8 0 0 0 203.5 503.6ZM184.7 496.2A168.6 168.6 0 0 1 167.2 485.8L167.7 485.1A167.8 167.8 0 0 0 185 495.5ZM163.9 483.5A168.6 168.6 0 0 1 128.9 449.8L129.6 449.4A167.8 167.8 0 0 0 164.4 482.8ZM259.5 477.5A131.2 131.2 0 0 1 256.3 477.4L256.4 476.6A130.4 130.4 0 0 0 259.5 476.7ZM250 477A131.2 131.2 0 0 1 246.9 476.7L247 475.9A130.4 130.4 0 0 0 250.1 476.2ZM243.8 476.3A131.2 131.2 0 0 1 240.6 475.8L240.8 475A130.4 130.4 0 0 0 243.9 475.5ZM231.3 473.9A131.2 131.2 0 0 1 228.3 473.1L228.5 472.4A130.4 130.4 0 0 0 231.5 473.1ZM222.2 471.4A131.2 131.2 0 0 1 216.3 469.3L216.5 468.6A130.4 130.4 0 0 0 222.5 470.6ZM190.9 456.6A131.2 131.2 0 0 1 185.7 453.1L186.1 452.4A130.4 130.4 0 0 0 191.3 455.9ZM183.1 451.2A131.2 131.2 0 0 1 180.6 449.3L181.1 448.6A130.4 130.4 0 0 0 183.6 450.5ZM173.4 443.1A131.2 131.2 0 0 1 168.9 438.7L169.4 438.2A130.4 130.4 0 0 0 174 442.5ZM260.2 439.8A93.5 93.5 0 0 1 258 439.8L258 439A92.7 92.7 0 0 0 260.2 439ZM253.5 439.5A93.5 93.5 0 0 1 251.2 439.2L251.3 438.4A92.7 92.7 0 0 0 253.5 438.7ZM246.8 438.6A93.5 93.5 0 0 1 244.6 438.2L244.7 437.4A92.7 92.7 0 0 0 246.9 437.8ZM235.8 436.1A93.5 93.5 0 0 1 231.5 434.7L231.8 434A92.7 92.7 0 0 0 236 435.3ZM229.4 434A93.5 93.5 0 0 1 225.2 432.3L225.5 431.6A92.7 92.7 0 0 0 229.7 433.2ZM219.1 429.4A93.5 93.5 0 0 1 211.3 424.9L211.8 424.3A92.7 92.7 0 0 0 219.5 428.7ZM209.5 423.7A93.5 93.5 0 0 1 207.6 422.4L208.1 421.7A92.7 92.7 0 0 0 209.9 423ZM205.8 421.1A93.5 93.5 0 0 1 204 419.7L204.5 419.1A92.7 92.7 0 0 0 206.3 420.4ZM202.3 418.3A93.5 93.5 0 0 1 200.6 416.8L201.1 416.2A92.7 92.7 0 0 0 202.8 417.7ZM198.9 415.3A93.5 93.5 0 0 1 195.6 412.2L196.2 411.6A92.7 92.7 0 0 0 199.4 414.7ZM194.1 410.6A93.5 93.5 0 0 1 188.2 403.8L188.9 403.3A92.7 92.7 0 0 0 194.7 410ZM260.9 401.6A55.2 55.2 0 0 1 258.3 401.5L258.3 400.7A54.4 54.4 0 0 0 261 400.8ZM254.3 401.1A55.2 55.2 0 0 1 244 398.6L244.2 397.9A54.4 54.4 0 0 0 254.4 400.3ZM242.7 398.2A55.2 55.2 0 0 1 241.5 397.7L241.8 397A54.4 54.4 0 0 0 243 397.4ZM237.8 396.1A55.2 55.2 0 0 1 236.7 395.5L237 394.8A54.4 54.4 0 0 0 238.2 395.4ZM234.3 394.2A55.2 55.2 0 0 1 232 392.8L232.5 392.2A54.4 54.4 0 0 0 234.7 393.5ZM229.8 391.3A55.2 55.2 0 0 1 227.7 389.7L228.2 389.1A54.4 54.4 0 0 0 230.3 390.7ZM225.7 388A55.2 55.2 0 0 1 222.8 385.3L223.3 384.7A54.4 54.4 0 0 0 226.2 387.4ZM221.8 384.3A55.2 55.2 0 0 1 220.9 383.4L221.5 382.8A54.4 54.4 0 0 0 222.4 383.8ZM219.2 381.3A55.2 55.2 0 0 1 218.4 380.3L219 379.8A54.4 54.4 0 0 0 219.8 380.8ZM121.3 439.2A168.6 168.6 0 0 1 115 428.8L115.7 428.4A167.8 167.8 0 0 0 122 438.7ZM113 425.2A168.6 168.6 0 0 1 100.7 395.2L101.4 395A167.8 167.8 0 0 0 113.7 424.8ZM99.6 391.3A168.6 168.6 0 0 1 107 280.1L107.8 280.4A167.8 167.8 0 0 0 100.3 391.1ZM108.7 276.4A168.6 168.6 0 0 1 110.4 272.7L111.1 273.1A167.8 167.8 0 0 0 109.4 276.7ZM112.2 269.1A168.6 168.6 0 0 1 120.3 255.1L121 255.5A167.8 167.8 0 0 0 112.9 269.5ZM122.6 251.7A168.6 168.6 0 0 1 132.3 238.7L133 239.2A167.8 167.8 0 0 0 123.2 252.1ZM135 235.6A168.6 168.6 0 0 1 149.2 221.2L149.7 221.8A167.8 167.8 0 0 0 135.6 236.1ZM152.2 218.5A168.6 168.6 0 0 1 155.4 215.9L155.9 216.5A167.8 167.8 0 0 0 152.8 219.1ZM158.5 213.3A168.6 168.6 0 0 1 197 190.9L197.3 191.6A167.8 167.8 0 0 0 159 214ZM200.7 189.4A168.6 168.6 0 0 1 252.1 178.1L252.1 178.9A167.8 167.8 0 0 0 201 190.1ZM152.5 418.6A131.2 131.2 0 0 1 149.2 413.2L149.8 412.8A130.4 130.4 0 0 0 153.2 418.2ZM144.6 404.9A131.2 131.2 0 0 1 140.7 396.3L141.5 396A130.4 130.4 0 0 0 145.3 404.6ZM137.4 387.4A131.2 131.2 0 0 1 136.5 384.4L137.2 384.2A130.4 130.4 0 0 0 138.2 387.2ZM134.1 375.2A131.2 131.2 0 0 1 133.4 372.2L134.2 372A130.4 130.4 0 0 0 134.8 375.1ZM131.9 362.8A131.2 131.2 0 0 1 131.5 359.7L132.3 359.6A130.4 130.4 0 0 0 132.7 362.7ZM131 353.4A131.2 131.2 0 0 1 130.9 350.2L131.7 350.2A130.4 130.4 0 0 0 131.8 353.3ZM131.1 337.6A131.2 131.2 0 0 1 131.4 334.5L132.2 334.5A130.4 130.4 0 0 0 131.9 337.7ZM131.7 331.3A131.2 131.2 0 0 1 132.1 328.2L132.9 328.3A130.4 130.4 0 0 0 132.5 331.4ZM138 303.7A131.2 131.2 0 0 1 141.4 294.8L142.2 295.1A130.4 130.4 0 0 0 138.8 303.9ZM144 289.1A131.2 131.2 0 0 1 145.5 286.3L146.2 286.6A130.4 130.4 0 0 0 144.8 289.4ZM148.5 280.7A131.2 131.2 0 0 1 151.8 275.3L152.5 275.8A130.4 130.4 0 0 0 149.2 281.1ZM155.3 270.1A131.2 131.2 0 0 1 157.2 267.6L157.8 268A130.4 130.4 0 0 0 156 270.6ZM159.1 265.1A131.2 131.2 0 0 1 161.1 262.6L161.7 263.1A130.4 130.4 0 0 0 159.8 265.6ZM174.2 249A131.2 131.2 0 0 1 176.6 246.9L177.1 247.5A130.4 130.4 0 0 0 174.8 249.5ZM184 241A131.2 131.2 0 0 1 189.2 237.3L189.6 238A130.4 130.4 0 0 0 184.5 241.6ZM197.2 232.4A131.2 131.2 0 0 1 202.8 229.4L203.2 230.1A130.4 130.4 0 0 0 197.6 233.1ZM208.5 226.7A131.2 131.2 0 0 1 211.4 225.4L211.7 226.1A130.4 130.4 0 0 0 208.8 227.4ZM214.3 224.2A131.2 131.2 0 0 1 229.3 219.4L229.5 220.2A130.4 130.4 0 0 0 214.6 225ZM235.5 218A131.2 131.2 0 0 1 241.7 216.8L241.8 217.6A130.4 130.4 0 0 0 235.7 218.7ZM244.8 216.4A131.2 131.2 0 0 1 251.1 215.7L251.2 216.5A130.4 130.4 0 0 0 244.9 217.2ZM181.6 394A93.5 93.5 0 0 1 180.5 392.1L181.2 391.7A92.7 92.7 0 0 0 182.3 393.6ZM174 377.8A93.5 93.5 0 0 1 172.6 373.5L173.3 373.2A92.7 92.7 0 0 0 174.7 377.5ZM171.9 371.3A93.5 93.5 0 0 1 171.4 369.1L172.1 369A92.7 92.7 0 0 0 172.7 371.1ZM170.8 367A93.5 93.5 0 0 1 170.4 364.8L171.2 364.6A92.7 92.7 0 0 0 171.6 366.8ZM170 362.5A93.5 93.5 0 0 1 169.6 360.3L170.4 360.2A92.7 92.7 0 0 0 170.7 362.4ZM168.8 353.6A93.5 93.5 0 0 1 168.7 351.4L169.5 351.3A92.7 92.7 0 0 0 169.6 353.6ZM168.6 349.1A93.5 93.5 0 0 1 168.6 346.9L169.4 346.9A92.7 92.7 0 0 0 169.4 349.1ZM168.6 344.6A93.5 93.5 0 0 1 168.6 342.4L169.4 342.4A92.7 92.7 0 0 0 169.4 344.6ZM169.2 335.7A93.5 93.5 0 0 1 169.5 333.4L170.2 333.5A92.7 92.7 0 0 0 170 335.7ZM170.6 326.8A93.5 93.5 0 0 1 171.1 324.6L171.9 324.8A92.7 92.7 0 0 0 171.4 326.9ZM171.7 322.4A93.5 93.5 0 0 1 172.3 320.2L173.1 320.5A92.7 92.7 0 0 0 172.5 322.6ZM172.9 318.1A93.5 93.5 0 0 1 173.7 315.9L174.4 316.2A92.7 92.7 0 0 0 173.7 318.3ZM176.1 309.6A93.5 93.5 0 0 1 179 303.5L179.7 303.9A92.7 92.7 0 0 0 176.8 310ZM196.2 280.1A93.5 93.5 0 0 1 197.8 278.5L198.4 279.1A92.7 92.7 0 0 0 196.8 280.6ZM204.6 272.6A93.5 93.5 0 0 1 206.4 271.3L206.9 271.9A92.7 92.7 0 0 0 205.1 273.3ZM212 267.5A93.5 93.5 0 0 1 221.8 262L222.2 262.7A92.7 92.7 0 0 0 212.4 268.1ZM238.7 255.9A93.5 93.5 0 0 1 243.1 254.9L243.3 255.7A92.7 92.7 0 0 0 238.9 256.7ZM245.3 254.5A93.5 93.5 0 0 1 249.8 253.8L249.9 254.5A92.7 92.7 0 0 0 245.5 255.2ZM254.2 253.3A93.5 93.5 0 0 1 256.5 253.1L256.5 253.9A92.7 92.7 0 0 0 254.3 254.1Z" fill="#14148C"/>
<path d="M262 133.1L267.1 133.2L267.1 133.3L272.3 133.5L272.2 133.7L277.4 134L277.4 134.2L282.5 134.6L282.4 134.8L287.5 135.4L287.5 135.5L292.6 136.2L292.6 136.4L297.6 137.2L297.6 137.3L302.6 138.3L302.6 138.4L307.6 139.5L307.5 139.6L312.5 140.8L312.4 141L317.4 142.2L317.3 142.4L322.2 143.8L322.2 144L327 145.5L327 145.6L331.8 147.2L331.8 147.3L336.6 149L336.5 149.1L341.3 151L340.8 152L345.5 153.9L345.4 154L350.1 156.1L350 156.2L354.6 158.4L354.5 158.5L359 160.8L358.9 160.9L363.4 163.3L363.3 163.4L367.7 165.9L367.6 166L371.9 168.6L371.9 168.7L376.1 171.4L376.1 171.5L380.2 174.3L380.2 174.4L384.3 177.3L384.2 177.4L388.2 180.4L388.2 180.5L392.1 183.6L392 183.7L395.9 186.8L395.8 186.9L399.6 190.2L399.6 190.3L403.3 193.6L403.2 193.7L406.8 197.2L406.7 197.3L410.3 200.8L410.2 200.9L413.7 204.5L413.6 204.5L417 208.2L416.9 208.3L420.2 212.1L420.1 212.1L423.3 215.9L423.3 216L426.4 219.9L426.3 220L429.3 223.9L429.3 224L432.2 228.1L432.1 228.1L434.9 232.2L434.8 232.3L437.5 236.5L437.5 236.5L440.1 240.8L440 240.8L442.5 245.1L442.4 245.1L444.8 249.5L444.7 249.6L447 254L447 254L449.1 258.5L449.1 258.5L451.1 263.1L451.1 263.1L453 267.7L451.9 268.1A205.4 205.4 0 0 0 262 141ZM460.7 436.1L458.5 440.9L458.5 440.9L456.1 445.6L456 445.5L453.5 450.1L452.8 449.7L450.3 454.3L447.4 452.7L444.8 457.1L444.7 457L442 461.4L441.9 461.4L439.1 465.7L439 465.6L436.1 469.8L436 469.8L433 473.9L432.9 473.9L429.8 477.9L429.7 477.9L426.5 481.9L426.3 481.7L423 485.7L422.8 485.5L419.4 489.3L419.2 489.1L415.7 492.8L415.4 492.6L411.9 496.2L411.6 495.9L407.9 499.5L407.7 499.2L403.9 502.7L403.7 502.4L399.9 505.7L398.5 504.1L394.7 507.4L394.5 507.2L390.6 510.4L390.4 510.1L386.5 513.2L386.3 512.9L382.2 515.9L382.1 515.6L377.9 518.5L377.8 518.2L373.6 521L373.4 520.7L369.2 523.4L369.1 523.1L364.8 525.6L364.2 524.6A205.4 205.4 0 0 0 449.2 430.9ZM346 492.9A168.9 168.9 0 0 1 342.5 494.9L341.3 492.8A166.5 166.5 0 0 0 344.8 490.8ZM378 409.2A131.9 131.9 0 0 1 376.4 412L374 410.6A129.1 129.1 0 0 0 375.5 407.9ZM340.3 451.3A130.9 130.9 0 0 1 337.7 453.2L336.7 451.7A129.1 129.1 0 0 0 339.2 449.9ZM336.1 404.5A94.2 94.2 0 0 1 334.7 406.3L332.6 404.5A91.4 91.4 0 0 0 333.9 402.8ZM331.3 409.3A93.6 93.6 0 0 1 329.8 411L328.2 409.4A91.4 91.4 0 0 0 329.7 407.8ZM329.7 410.9A93.5 93.5 0 0 1 328.1 412.5L326.6 411A91.4 91.4 0 0 0 328.2 409.4ZM325.4 546.2L320.5 547.7L320.5 547.5L315.6 548.8L315.5 548.4L310.7 549.7L310.5 549.1L305.6 550.2L305.5 549.8L300.6 550.8L300.1 548.2A205.4 205.4 0 0 0 324.1 542.2ZM277.3 515A169.3 169.3 0 0 1 273.2 515.3L273 512.5A166.5 166.5 0 0 0 277 512.2ZM273.9 477.8A132 132 0 0 1 270.8 478.1L270.6 475.2A129.1 129.1 0 0 0 273.7 475ZM275 439.9A94.4 94.4 0 0 1 272.8 440.2L272.4 437.2A91.4 91.4 0 0 0 274.6 436.9ZM275.2 401.4A56.5 56.5 0 0 1 273.8 401.7L273.1 398.4A53.2 53.2 0 0 0 274.4 398.1ZM257.9 558.2L252.8 558L252.8 557.8L247.8 557.5L247.8 557.3L242.7 556.9L242.7 556.7L237.7 556.2L237.7 555.9L232.7 555.2L232.7 555L227.7 554.2L227.7 553.9L222.8 553L222.8 552.7L217.9 551.7L218.3 549.8L213.4 548.6L213.5 548.3L208.6 547.1L208.7 546.8L203.9 545.5L203.9 545.3L199.2 543.8L199.2 543.7L194.5 542.1L194.6 541.9L189.9 540.2L189.9 540L185.3 538.2L185.4 538L180.8 536.1L181.2 535.2A205.4 205.4 0 0 0 258.1 551.8ZM226.4 511.8A169.1 169.1 0 0 1 222.5 510.9L223.1 508.3A166.5 166.5 0 0 0 227 509.2ZM210.6 507.8A169.3 169.3 0 0 1 206.8 506.5L207.7 503.8A166.5 166.5 0 0 0 211.5 505.1ZM207 506A168.8 168.8 0 0 1 203.1 504.6L203.9 502.4A166.5 166.5 0 0 0 207.7 503.8ZM188 498.6A169.2 169.2 0 0 1 184.4 496.8L185.6 494.3A166.5 166.5 0 0 0 189.2 496.1ZM177.2 492.9A169.3 169.3 0 0 1 173.7 490.8L175.1 488.4A166.5 166.5 0 0 0 178.6 490.5ZM163.8 483.6A168.7 168.7 0 0 1 160.5 481.2L161.9 479.4A166.5 166.5 0 0 0 165.1 481.8ZM160.5 481.3A168.9 168.9 0 0 1 157.2 478.8L158.7 477A166.5 166.5 0 0 0 161.9 479.4ZM219 471.1A131.9 131.9 0 0 1 216 470L217 467.4A129.1 129.1 0 0 0 219.9 468.4ZM216 470A131.8 131.8 0 0 1 213.1 468.8L214.1 466.3A129.1 129.1 0 0 0 217 467.4ZM201.7 463.3A131.5 131.5 0 0 1 198.9 461.8L200 459.7A129.1 129.1 0 0 0 202.8 461.1ZM198.8 461.9A131.7 131.7 0 0 1 196 460.3L197.3 458.1A129.1 129.1 0 0 0 200 459.7ZM237.9 437.1A93.9 93.9 0 0 1 235.7 436.5L236.4 434.1A91.4 91.4 0 0 0 238.5 434.7ZM245.1 399.6A55.8 55.8 0 0 1 243.8 399.2L244.7 396.7A53.2 53.2 0 0 0 245.9 397.1ZM243.7 399.5A56.2 56.2 0 0 1 242.4 399L243.4 396.3A53.2 53.2 0 0 0 244.7 396.7ZM82.7 464.6L79.9 460.3L81.1 459.5L78.4 455.2L78.5 455.1L75.9 450.6L76.1 450.6L73.6 446.1L73.7 446L71.4 441.4L71.5 441.4L69.3 436.8L69.4 436.7L67.3 432.1L67.4 432L65.4 427.3L65.5 427.2L63.6 422.5L63.7 422.4L62 417.6L62.1 417.6L60.4 412.8L60.5 412.7L59 407.9L59.1 407.8L57.7 402.9L57.8 402.9L56.5 398L56.6 398L55.4 393L55.5 393L54.4 388L54.5 388L53.6 383L53.7 382.9L52.9 377.9L53 377.9L52.3 372.9L52.5 372.8L51.9 367.8L52.1 367.8L51.6 362.7L51.8 362.7L51.5 357.6L51.7 357.6L51.5 352.5L51.7 352.5L51.6 347.5L51.8 347.5L51.8 342.4L51.9 342.4L52 337.4L52.1 337.4L52.3 332.3L52.4 332.3L52.8 327.3L52.8 327.3L53.3 322.2L53.4 322.2L54 317.2L54.1 317.2L54.8 312.2L54.9 312.2L55.7 307.3L55.8 307.3L56.8 302.3L56.8 302.3L57.9 297.4L58 297.4L59.2 292.5L59.2 292.5L60.6 287.6L60.6 287.7L62.1 282.8L62.1 282.8L63.7 278L63.8 278.1L65.5 273.3L65.5 273.3L67.3 268.6L67.3 268.6L69.3 264L69.3 264L71.3 259.4L71.4 259.4L73.5 254.8L73.6 254.8L75.8 250.3L75.9 250.3L78.2 245.9L78.3 245.9L80.7 241.5L80.8 241.5L83.3 237.2L83.4 237.2L86 232.9L86.1 233L88.9 228.8L88.9 228.8L91.8 224.6L91.8 224.7L94.8 220.6L94.8 220.6L97.9 216.6L97.9 216.6L101.1 212.7L101.2 212.8L104.5 209L104.6 209.1L107.9 205.3L108 205.4L111.5 201.8L111.6 201.9L115.1 198.3L115.2 198.4L118.8 194.9L118.9 195L122.6 191.6L122.7 191.7L126.5 188.4L126.6 188.5L130.4 185.3L130.5 185.4L134.4 182.3L134.5 182.4L138.5 179.4L138.6 179.5L142.6 176.6L142.7 176.7L146.8 173.9L146.9 174L151.1 171.3L151.1 171.4L155.4 168.8L155.5 168.9L159.8 166.4L159.8 166.5L164.2 164.1L164.3 164.2L168.7 161.9L168.7 162L173.2 159.9L173.7 160.9A205.4 205.4 0 0 0 90.5 459.5ZM94.3 371.7A169.6 169.6 0 0 1 93.7 367.6L96.8 367.2A166.5 166.5 0 0 0 97.4 371.2ZM95.4 318.9A168.8 168.8 0 0 1 96.1 314.9L98.4 315.4A166.5 166.5 0 0 0 97.7 319.3ZM98.1 307.1A168.5 168.5 0 0 1 99.1 303.1L101.1 303.6A166.5 166.5 0 0 0 100.1 307.5ZM100 299.1A168.8 168.8 0 0 1 101.1 295.2L103.3 295.9A166.5 166.5 0 0 0 102.2 299.8ZM105.2 283.7A168.9 168.9 0 0 1 106.8 280L108.9 280.9A166.5 166.5 0 0 0 107.4 284.6ZM117.6 258.1A169.3 169.3 0 0 1 119.8 254.7L122.1 256.2A166.5 166.5 0 0 0 119.9 259.6ZM134.9 235.6A168.6 168.6 0 0 1 137.7 232.6L139.2 234A166.5 166.5 0 0 0 136.5 237ZM140.5 229.6A168.5 168.5 0 0 1 143.3 226.7L144.7 228.2A166.5 166.5 0 0 0 141.9 231ZM158.1 212.8A169.2 169.2 0 0 1 161.4 210.4L163 212.5A166.5 166.5 0 0 0 159.8 215ZM182.1 197.6A168.9 168.9 0 0 1 185.7 195.7L186.8 197.8A166.5 166.5 0 0 0 183.3 199.7ZM247.9 177.6A169.4 169.4 0 0 1 252 177.3L252.2 180.2A166.5 166.5 0 0 0 248.2 180.5ZM144 405.3A131.9 131.9 0 0 1 142.6 402.4L145.1 401.2A129.1 129.1 0 0 0 146.5 404ZM136.6 387.7A132.1 132.1 0 0 1 135.6 384.7L138.4 383.8A129.1 129.1 0 0 0 139.4 386.8ZM129.9 340.7A132.3 132.3 0 0 1 130 337.5L133.2 337.7A129.1 129.1 0 0 0 133 340.8ZM146.4 283.1A131.8 131.8 0 0 1 147.9 280.4L150.3 281.7A129.1 129.1 0 0 0 148.7 284.4ZM156.8 267.3A131.6 131.6 0 0 1 158.8 264.8L160.7 266.3A129.1 129.1 0 0 0 158.8 268.8ZM159.2 265.1A131.1 131.1 0 0 1 161.2 262.7L162.7 263.9A129.1 129.1 0 0 0 160.7 266.3ZM183.9 240.9A131.3 131.3 0 0 1 186.5 239L187.7 240.8A129.1 129.1 0 0 0 185.2 242.6ZM196.9 231.7A131.9 131.9 0 0 1 199.7 230.2L201 232.6A129.1 129.1 0 0 0 198.2 234.1ZM199.6 230A132.1 132.1 0 0 1 202.4 228.6L203.7 231.2A129.1 129.1 0 0 0 201 232.6ZM175.7 381.9A93.4 93.4 0 0 1 174.8 379.8L176.7 379.1A91.4 91.4 0 0 0 177.5 381.2ZM170.9 371.6A94.5 94.5 0 0 1 170.4 369.4L173.3 368.6A91.4 91.4 0 0 0 173.9 370.8ZM168.9 351.4A93.2 93.2 0 0 1 168.8 349.1L170.6 349.1A91.4 91.4 0 0 0 170.7 351.3ZM167.7 342.3A94.4 94.4 0 0 1 167.9 340.1L170.8 340.3A91.4 91.4 0 0 0 170.7 342.5ZM168.2 335.5A94.4 94.4 0 0 1 168.5 333.3L171.5 333.7A91.4 91.4 0 0 0 171.2 335.9ZM169.6 331.2A93.7 93.7 0 0 1 170 328.9L172.2 329.4A91.4 91.4 0 0 0 171.8 331.5ZM174.7 311.5A94 94 0 0 1 175.5 309.4L178 310.5A91.4 91.4 0 0 0 177.1 312.5ZM176.1 309.6A93.5 93.5 0 0 1 177 307.6L178.9 308.4A91.4 91.4 0 0 0 178 310.5ZM181.6 297.3A94.2 94.2 0 0 1 182.8 295.3L185.2 296.9A91.4 91.4 0 0 0 184 298.7ZM183.1 295.5A93.9 93.9 0 0 1 184.4 293.6L186.4 295A91.4 91.4 0 0 0 185.2 296.9ZM193.9 280.9A94.5 94.5 0 0 1 195.5 279.3L197.6 281.5A91.4 91.4 0 0 0 196.1 283.1ZM197.7 278.4A93.5 93.5 0 0 1 199.4 276.9L200.8 278.5A91.4 91.4 0 0 0 199.2 280ZM212.1 267.6A93.3 93.3 0 0 1 214 266.4L215 268A91.4 91.4 0 0 0 213.1 269.2ZM217.9 264.2A93.3 93.3 0 0 1 219.9 263.2L220.7 264.8A91.4 91.4 0 0 0 218.8 265.9ZM238.5 255.1A94.3 94.3 0 0 1 240.7 254.6L241.4 257.4A91.4 91.4 0 0 0 239.2 257.9ZM240.7 254.3A94.6 94.6 0 0 1 242.9 253.8L243.5 256.9A91.4 91.4 0 0 0 241.4 257.4ZM254.2 252.4A94.3 94.3 0 0 1 256.4 252.3L256.6 255.2A91.4 91.4 0 0 0 254.4 255.3Z" fill="#0000F0"/>
<path d="M261.1 95.6A250.8 250.8 0 0 1 496.8 434.5M490.9 448.8A250.8 250.8 0 0 1 353.3 580M338.7 585.2A250.8 250.8 0 0 1 271.7 597M258.1 597.2A250.8 250.8 0 0 1 63.5 499.6M53.1 485.2A250.8 250.8 0 0 1 248.1 96" fill="none" stroke="#6a6a6a" stroke-width="0.7"/>
<g font-size="3.6" font-weight="bold" fill="#33333c"><text transform="translate(264.7 118.8) rotate(-89.3)" dy="1.27">KCTD9</text><text transform="translate(270.2 118.9) rotate(-87.9)" dy="1.27">GRRP1</text><text transform="translate(275.7 119.2) rotate(-86.6)" dy="1.27">USP47</text><text transform="translate(281.2 119.6) rotate(-85.2)" dy="1.27">GATA2</text><text transform="translate(286.6 120.1) rotate(-83.8)" dy="1.27">SRSF1</text><text transform="translate(292.1 120.8) rotate(-82.4)" dy="1.27" fill="#34C834">CTNNA2</text><text transform="translate(297.5 121.6) rotate(-81)" dy="1.27">KCNB2</text><text transform="translate(302.9 122.5) rotate(-79.7)" dy="1.27" fill="#2894E4">NFAT5</text><text transform="translate(308.3 123.5) rotate(-78.3)" dy="1.27" fill="#CC1818">ASXL1</text><text transform="translate(313.6 124.7) rotate(-76.9)" dy="1.27" fill="#34C834">PHF20</text><text transform="translate(318.9 126) rotate(-75.5)" dy="1.27">TRIM4</text><text transform="translate(324.2 127.5) rotate(-74.1)" dy="1.27">SRSF2</text><text transform="translate(329.5 129) rotate(-72.8)" dy="1.27">TRIP12</text><text transform="translate(334.7 130.7) rotate(-71.4)" dy="1.27">ADCY8</text><text transform="translate(339.9 132.5) rotate(-70)" dy="1.27">STXBP5</text><text transform="translate(345 134.5) rotate(-68.6)" dy="1.27">STAT5B</text><text transform="translate(350.1 136.5) rotate(-67.2)" dy="1.27">GOLGA2</text><text transform="translate(355.1 138.7) rotate(-65.9)" dy="1.27">SCN5A</text><text transform="translate(360.1 141) rotate(-64.5)" dy="1.27">AOC3</text><text transform="translate(365 143.4) rotate(-63.1)" dy="1.27">SYT16</text><text transform="translate(369.8 146) rotate(-61.7)" dy="1.27">GRIK3</text><text transform="translate(374.6 148.6) rotate(-60.3)" dy="1.27">ITGA2</text><text transform="translate(379.4 151.4) rotate(-59)" dy="1.27">CHAT</text><text transform="translate(384 154.3) rotate(-57.6)" dy="1.27" fill="#34C834">KCNH8</text><text transform="translate(388.6 157.3) rotate(-56.2)" dy="1.27" fill="#CC1818">ASXL1</text><text transform="translate(393.1 160.4) rotate(-54.8)" dy="1.27">SYNC</text><text transform="translate(397.6 163.6) rotate(-53.4)" dy="1.27">CRCC</text><text transform="translate(401.9 166.9) rotate(-52.1)" dy="1.27">GNPDA</text><text transform="translate(406.2 170.3) rotate(-50.7)" dy="1.27" fill="#34C834">NRXN1</text><text transform="translate(410.4 173.8) rotate(-49.3)" dy="1.27">CYP4F12</text><text transform="translate(414.5 177.5) rotate(-47.9)" dy="1.27">ASGR</text><text transform="translate(418.5 181.2) rotate(-46.5)" dy="1.27" fill="#34C834">RANBP17</text><text transform="translate(422.5 185) rotate(-45.2)" dy="1.27">TRIM24</text><text transform="translate(426.3 188.9) rotate(-43.8)" dy="1.27">TG</text><text transform="translate(430.1 192.9) rotate(-42.4)" dy="1.27" fill="#E6C430">TLE1</text><text transform="translate(433.7 197) rotate(-41)" dy="1.27" fill="#2894E4">EP300</text><text transform="translate(437.2 201.2) rotate(-39.6)" dy="1.27">CEACAM4</text><text transform="translate(440.7 205.4) rotate(-38.3)" dy="1.27">PAPPA2</text><text transform="translate(444 209.8) rotate(-36.9)" dy="1.27">GPR37</text><text transform="translate(447.3 214.2) rotate(-35.5)" dy="1.27">UNC79</text><text transform="translate(450.4 218.7) rotate(-34.1)" dy="1.27">KIF21</text><text transform="translate(453.4 223.3) rotate(-32.8)" dy="1.27">MRAS</text><text transform="translate(456.3 227.9) rotate(-31.4)" dy="1.27">BRSK</text><text transform="translate(459.1 232.6) rotate(-30)" dy="1.27">DOK1</text><text transform="translate(461.8 237.4) rotate(-28.6)" dy="1.27">C9orf174</text><text transform="translate(464.4 242.2) rotate(-27.2)" dy="1.27">CACNA1F</text><text transform="translate(466.8 247.2) rotate(-25.9)" dy="1.27" fill="#34C834">ARF3</text><text transform="translate(469.2 252.1) rotate(-24.5)" dy="1.27">CLK2</text><text transform="translate(471.4 257.1) rotate(-23.1)" dy="1.27">SMG8</text><text transform="translate(473.4 262.2) rotate(-21.7)" dy="1.27" fill="#2894E4">SART3</text><text transform="translate(475.4 267.3) rotate(-20.3)" dy="1.27">IQGAP1</text><text transform="translate(477.3 272.5) rotate(-19)" dy="1.27">HSPH4A</text><text transform="translate(479 277.7) rotate(-17.6)" dy="1.27">TRIM4A</text><text transform="translate(480.6 282.9) rotate(-16.2)" dy="1.27">MUC21</text><text transform="translate(482 288.2) rotate(-14.8)" dy="1.27">BSPI</text><text transform="translate(483.4 293.5) rotate(-13.4)" dy="1.27">KIF17</text><text transform="translate(484.6 298.9) rotate(-12.1)" dy="1.27">TP52</text><text transform="translate(485.7 304.2) rotate(-10.7)" dy="1.27">TIMELESS</text><text transform="translate(486.6 309.6) rotate(-9.3)" dy="1.27">BRD3</text><text transform="translate(487.4 315) rotate(-7.9)" dy="1.27">CSGALNACT1</text><text transform="translate(488.1 320.5) rotate(-6.5)" dy="1.27">SRSF7</text><text transform="translate(488.7 325.9) rotate(-5.2)" dy="1.27" fill="#34C834">HNF4</text><text transform="translate(489.1 331.4) rotate(-3.8)" dy="1.27">NAT6</text><text transform="translate(489.4 336.9) rotate(-2.4)" dy="1.27">KDM5C</text><text transform="translate(489.6 342.3) rotate(-1)" dy="1.27" fill="#34C834">SEMA3E</text><text transform="translate(489.6 347.8) rotate(0.4)" dy="1.27">KRT81</text><text transform="translate(489.5 353.3) rotate(1.7)" dy="1.27">TATDN2</text><text transform="translate(489.3 358.8) rotate(3.1)" dy="1.27">USP9X</text><text transform="translate(488.9 364.2) rotate(4.5)" dy="1.27">NGLY1</text><text transform="translate(488.4 369.7) rotate(5.9)" dy="1.27">PCSK2</text><text transform="translate(487.8 375.1) rotate(7.3)" dy="1.27">HPD</text><text transform="translate(487 380.6) rotate(8.6)" dy="1.27">FAT3</text><text transform="translate(486.1 386) rotate(10)" dy="1.27">NRG3</text><text transform="translate(485.1 391.4) rotate(11.4)" dy="1.27">EXT2</text><text transform="translate(484 396.7) rotate(12.8)" dy="1.27">MGN2</text><text transform="translate(482.7 402) rotate(14.2)" dy="1.27">ARHGAP5</text><text transform="translate(481.3 407.3) rotate(15.5)" dy="1.27">PKN0</text><text transform="translate(479.8 412.6) rotate(16.9)" dy="1.27">SALL1</text><text transform="translate(478.1 417.8) rotate(18.3)" dy="1.27">WDR66</text><text transform="translate(476.3 423) rotate(19.7)" dy="1.27">TRPV6</text><text transform="translate(468.3 442.6) rotate(25)" dy="1.27">SPINK5</text><text transform="translate(465.9 447.5) rotate(26.4)" dy="1.27">SCN4A</text><text transform="translate(463.4 452.4) rotate(27.7)" dy="1.27" fill="#CC1818">NF1</text><text transform="translate(460.8 457.2) rotate(29.1)" dy="1.27">TACC2</text><text transform="translate(458.1 461.9) rotate(30.5)" dy="1.27">EFNB2</text><text transform="translate(455.3 466.6) rotate(31.9)" dy="1.27">SFSP1</text><text transform="translate(452.3 471.2) rotate(33.3)" dy="1.27">DNAH2</text><text transform="translate(449.2 475.8) rotate(34.6)" dy="1.27">ZFAND3</text><text transform="translate(446.1 480.3) rotate(36)" dy="1.27" fill="#34C834">CHK2</text><text transform="translate(442.8 484.7) rotate(37.4)" dy="1.27">ZNF778</text><text transform="translate(439.4 489) rotate(38.8)" dy="1.27">ELOVL6</text><text transform="translate(435.9 493.2) rotate(40.2)" dy="1.27">LTBP4</text><text transform="translate(432.3 497.3) rotate(41.5)" dy="1.27">AK1</text><text transform="translate(428.7 501.4) rotate(42.9)" dy="1.27">SCUBE1</text><text transform="translate(424.9 505.4) rotate(44.3)" dy="1.27">C2</text><text transform="translate(421 509.2) rotate(45.7)" dy="1.27" fill="#CC1818">EIF4E2</text><text transform="translate(417 513) rotate(47.1)" dy="1.27">RPL14</text><text transform="translate(413 516.7) rotate(48.4)" dy="1.27" fill="#CC1818">TET2</text><text transform="translate(408.8 520.3) rotate(49.8)" dy="1.27">SF3B1</text><text transform="translate(404.6 523.8) rotate(51.2)" dy="1.27">LRRC7</text><text transform="translate(400.3 527.2) rotate(52.6)" dy="1.27">CHMP7A</text><text transform="translate(395.9 530.4) rotate(54)" dy="1.27" fill="#34C834">ZNF217</text><text transform="translate(391.4 533.6) rotate(55.3)" dy="1.27">MDGA1</text><text transform="translate(386.9 536.7) rotate(56.7)" dy="1.27">PEPD</text><text transform="translate(382.3 539.6) rotate(58.1)" dy="1.27">AR</text><text transform="translate(377.6 542.5) rotate(59.5)" dy="1.27">CD5L</text><text transform="translate(372.8 545.2) rotate(60.9)" dy="1.27">CAPNS1</text><text transform="translate(368 547.8) rotate(62.2)" dy="1.27">FAM46B</text><text transform="translate(363.1 550.3) rotate(63.6)" dy="1.27">SACS</text><text transform="translate(358.2 552.7) rotate(65)" dy="1.27">GTSE1</text><text transform="translate(353.2 554.9) rotate(66.4)" dy="1.27" fill="#CC1818">ASXL1</text><text transform="translate(348.2 557.1) rotate(67.8)" dy="1.27">DLX1</text><text transform="translate(328.2 564.2) rotate(73.1)" dy="1.27" fill="#CC1818">BANK1</text><text transform="translate(322.9 565.7) rotate(74.5)" dy="1.27" fill="#CC1818">GLI1</text><text transform="translate(317.6 567.1) rotate(75.8)" dy="1.27">KIT2</text><text transform="translate(312.3 568.4) rotate(77.2)" dy="1.27">HOXA7</text><text transform="translate(307 569.5) rotate(78.6)" dy="1.27">PTGER3</text><text transform="translate(301.6 570.5) rotate(80)" dy="1.27">MUC3A</text><text transform="translate(296.2 571.4) rotate(81.4)" dy="1.27">SSPN</text><text transform="translate(290.7 572.2) rotate(82.7)" dy="1.27">MUC2</text><text transform="translate(285.3 572.8) rotate(84.1)" dy="1.27">SRMAB</text><text transform="translate(279.8 573.3) rotate(85.5)" dy="1.27">PHRD</text><text transform="translate(274.4 573.7) rotate(86.9)" dy="1.27" fill="#CC1818">DNTT</text><text transform="translate(254.9 573.9) rotate(-88.2)" dy="1.27" text-anchor="end">HOXA9</text><text transform="translate(249.4 573.7) rotate(-86.8)" dy="1.27" text-anchor="end">GFI1</text><text transform="translate(243.9 573.3) rotate(-85.5)" dy="1.27" text-anchor="end" fill="#CC1818">TET2</text><text transform="translate(238.5 572.8) rotate(-84.1)" dy="1.27" text-anchor="end">KDSR</text><text transform="translate(233 572.2) rotate(-82.7)" dy="1.27" text-anchor="end">C1orf15</text><text transform="translate(227.6 571.4) rotate(-81.3)" dy="1.27" text-anchor="end">SF3B1</text><text transform="translate(222.2 570.5) rotate(-79.9)" dy="1.27" text-anchor="end">PLXNA3</text><text transform="translate(216.8 569.5) rotate(-78.6)" dy="1.27" text-anchor="end" fill="#E6C430">YLPM1</text><text transform="translate(211.5 568.3) rotate(-77.2)" dy="1.27" text-anchor="end">BSN5</text><text transform="translate(206.1 567) rotate(-75.8)" dy="1.27" text-anchor="end">RFX1</text><text transform="translate(200.9 565.6) rotate(-74.4)" dy="1.27" text-anchor="end">ZNF626</text><text transform="translate(195.6 564.1) rotate(-73)" dy="1.27" text-anchor="end" fill="#2894E4">ASXL1</text><text transform="translate(190.4 562.4) rotate(-71.7)" dy="1.27" text-anchor="end" fill="#E6C430">KMT2C</text><text transform="translate(185.2 560.6) rotate(-70.3)" dy="1.27" text-anchor="end">ZNF521</text><text transform="translate(180.1 558.7) rotate(-68.9)" dy="1.27" text-anchor="end">PRKD2</text><text transform="translate(175 556.7) rotate(-67.5)" dy="1.27" text-anchor="end">TLL1</text><text transform="translate(169.9 554.5) rotate(-66.1)" dy="1.27" text-anchor="end">CACNA1H</text><text transform="translate(164.9 552.3) rotate(-64.8)" dy="1.27" text-anchor="end">ZNF536</text><text transform="translate(160 549.9) rotate(-63.4)" dy="1.27" text-anchor="end">FAT1</text><text transform="translate(155.1 547.4) rotate(-62)" dy="1.27" text-anchor="end">GPR98</text><text transform="translate(150.3 544.7) rotate(-60.6)" dy="1.27" text-anchor="end">C2orf16</text><text transform="translate(145.6 542) rotate(-59.2)" dy="1.27" text-anchor="end">ABCA13</text><text transform="translate(140.9 539.1) rotate(-57.9)" dy="1.27" text-anchor="end">OPCML</text><text transform="translate(136.3 536.2) rotate(-56.5)" dy="1.27" text-anchor="end">MUC17</text><text transform="translate(131.8 533.1) rotate(-55.1)" dy="1.27" text-anchor="end">DPCR1</text><text transform="translate(127.3 529.9) rotate(-53.7)" dy="1.27" text-anchor="end">CAMSAP1</text><text transform="translate(123 526.6) rotate(-52.3)" dy="1.27" text-anchor="end">SRRM2</text><text transform="translate(118.7 523.2) rotate(-51)" dy="1.27" text-anchor="end">MUC12</text><text transform="translate(114.4 519.7) rotate(-49.6)" dy="1.27" text-anchor="end">TRIOBP</text><text transform="translate(110.3 516.1) rotate(-48.2)" dy="1.27" text-anchor="end">MUC4</text><text transform="translate(106.3 512.4) rotate(-46.8)" dy="1.27" text-anchor="end">ERBB4</text><text transform="translate(102.3 508.6) rotate(-45.4)" dy="1.27" text-anchor="end">PCNT</text><text transform="translate(98.5 504.7) rotate(-44.1)" dy="1.27" text-anchor="end">MUC6</text><text transform="translate(94.7 500.7) rotate(-42.7)" dy="1.27" text-anchor="end">TRIO</text><text transform="translate(91 496.6) rotate(-41.3)" dy="1.27" text-anchor="end">KIF3A</text><text transform="translate(87.5 492.5) rotate(-39.9)" dy="1.27" text-anchor="end">SALL1</text><text transform="translate(84 488.2) rotate(-38.5)" dy="1.27" text-anchor="end">SRRM5</text><text transform="translate(70.5 469.4) rotate(-32.7)" dy="1.27" text-anchor="end">ATRX</text><text transform="translate(67.6 464.7) rotate(-31.3)" dy="1.27" text-anchor="end">BRD3</text><text transform="translate(64.8 460) rotate(-30)" dy="1.27" text-anchor="end">ECI2</text><text transform="translate(62.1 455.3) rotate(-28.6)" dy="1.27" text-anchor="end">C9orf128</text><text transform="translate(59.6 450.4) rotate(-27.2)" dy="1.27" text-anchor="end" fill="#2894E4">USE1</text><text transform="translate(57.1 445.5) rotate(-25.8)" dy="1.27" text-anchor="end">SLC25A41</text><text transform="translate(54.8 440.5) rotate(-24.4)" dy="1.27" text-anchor="end">CDCA8</text><text transform="translate(52.6 435.5) rotate(-23.1)" dy="1.27" text-anchor="end">FN1</text><text transform="translate(50.5 430.5) rotate(-21.7)" dy="1.27" text-anchor="end">RASGRF1</text><text transform="translate(48.5 425.3) rotate(-20.3)" dy="1.27" text-anchor="end">DSPP</text><text transform="translate(46.7 420.2) rotate(-18.9)" dy="1.27" text-anchor="end">UGT1A1</text><text transform="translate(45 415) rotate(-17.5)" dy="1.27" text-anchor="end">ESD</text><text transform="translate(43.4 409.7) rotate(-16.2)" dy="1.27" text-anchor="end">CTCF</text><text transform="translate(41.9 404.5) rotate(-14.8)" dy="1.27" text-anchor="end">SF3B1</text><text transform="translate(40.6 399.1) rotate(-13.4)" dy="1.27" text-anchor="end">SLC7A1</text><text transform="translate(39.4 393.8) rotate(-12)" dy="1.27" text-anchor="end">EPHB2</text><text transform="translate(38.3 388.4) rotate(-10.6)" dy="1.27" text-anchor="end">DYNC1H1</text><text transform="translate(37.4 383) rotate(-9.3)" dy="1.27" text-anchor="end">LTBP1</text><text transform="translate(36.5 377.6) rotate(-7.9)" dy="1.27" text-anchor="end" fill="#CC1818">TET2</text><text transform="translate(35.9 372.2) rotate(-6.5)" dy="1.27" text-anchor="end" fill="#2894E4">PHF6</text><text transform="translate(35.3 366.7) rotate(-5.1)" dy="1.27" text-anchor="end">DLL3</text><text transform="translate(34.9 361.2) rotate(-3.7)" dy="1.27" text-anchor="end">HGFAC</text><text transform="translate(34.6 355.8) rotate(-2.4)" dy="1.27" text-anchor="end">ETNK1</text><text transform="translate(34.4 350.3) rotate(-1)" dy="1.27" text-anchor="end">TP53</text><text transform="translate(34.4 344.8) rotate(0.4)" dy="1.27" text-anchor="end">FDXR</text><text transform="translate(34.5 339.3) rotate(1.8)" dy="1.27" text-anchor="end" fill="#CC1818">ASXL2</text><text transform="translate(34.7 333.9) rotate(3.2)" dy="1.27" text-anchor="end">CWH43</text><text transform="translate(35.1 328.4) rotate(4.5)" dy="1.27" text-anchor="end">DNMT3A</text><text transform="translate(35.6 322.9) rotate(5.9)" dy="1.27" text-anchor="end">RUNX1</text><text transform="translate(36.2 317.5) rotate(7.3)" dy="1.27" text-anchor="end">MED12</text><text transform="translate(37 312.1) rotate(8.7)" dy="1.27" text-anchor="end">SF3B1</text><text transform="translate(37.9 306.7) rotate(10.1)" dy="1.27" text-anchor="end">CLIP1</text><text transform="translate(38.9 301.3) rotate(11.4)" dy="1.27" text-anchor="end">WNT5A</text><text transform="translate(40.1 295.9) rotate(12.8)" dy="1.27" text-anchor="end">KDM2B</text><text transform="translate(41.3 290.6) rotate(14.2)" dy="1.27" text-anchor="end">OSBPL6</text><text transform="translate(42.8 285.3) rotate(15.6)" dy="1.27" text-anchor="end">IRS1</text><text transform="translate(44.3 280) rotate(17)" dy="1.27" text-anchor="end">DNMT3A</text><text transform="translate(45.9 274.8) rotate(18.3)" dy="1.27" text-anchor="end">FZD1</text><text transform="translate(47.7 269.6) rotate(19.7)" dy="1.27" text-anchor="end">AKAP12</text><text transform="translate(49.6 264.5) rotate(21.1)" dy="1.27" text-anchor="end">RBP1</text><text transform="translate(51.7 259.4) rotate(22.5)" dy="1.27" text-anchor="end">GRIN1</text><text transform="translate(53.8 254.4) rotate(23.8)" dy="1.27" text-anchor="end">BTBD16</text><text transform="translate(56.1 249.4) rotate(25.2)" dy="1.27" text-anchor="end">SDHA</text><text transform="translate(58.5 244.5) rotate(26.6)" dy="1.27" text-anchor="end">UBQLN4</text><text transform="translate(61 239.6) rotate(28)" dy="1.27" text-anchor="end">FOLH1B</text><text transform="translate(63.6 234.8) rotate(29.4)" dy="1.27" text-anchor="end" fill="#34C834">STAG2</text><text transform="translate(66.4 230) rotate(30.7)" dy="1.27" text-anchor="end">STAB1</text><text transform="translate(69.3 225.4) rotate(32.1)" dy="1.27" text-anchor="end">MYH1</text><text transform="translate(72.2 220.8) rotate(33.5)" dy="1.27" text-anchor="end">BCL7</text><text transform="translate(75.3 216.2) rotate(34.9)" dy="1.27" text-anchor="end" fill="#E6C430">NPM1</text><text transform="translate(78.5 211.8) rotate(36.3)" dy="1.27" text-anchor="end">SDK1</text><text transform="translate(81.8 207.4) rotate(37.6)" dy="1.27" text-anchor="end">TDRD9</text><text transform="translate(85.2 203.1) rotate(39)" dy="1.27" text-anchor="end">ENPP5</text><text transform="translate(88.7 198.9) rotate(40.4)" dy="1.27" text-anchor="end">ZNF729</text><text transform="translate(92.3 194.7) rotate(41.8)" dy="1.27" text-anchor="end">KIAA1211</text><text transform="translate(96 190.7) rotate(43.2)" dy="1.27" text-anchor="end">MYO1B</text><text transform="translate(99.8 186.8) rotate(44.5)" dy="1.27" text-anchor="end">DTNB</text><text transform="translate(103.7 182.9) rotate(45.9)" dy="1.27" text-anchor="end">BRF1</text><text transform="translate(107.7 179.1) rotate(47.3)" dy="1.27" text-anchor="end" fill="#34C834">PTGR2</text><text transform="translate(111.7 175.5) rotate(48.7)" dy="1.27" text-anchor="end" fill="#CC1818">ASXL1</text><text transform="translate(115.9 171.9) rotate(50.1)" dy="1.27" text-anchor="end">ZNF25</text><text transform="translate(120.1 168.4) rotate(51.4)" dy="1.27" text-anchor="end" fill="#2894E4">WNK3</text><text transform="translate(124.5 165.1) rotate(52.8)" dy="1.27" text-anchor="end" fill="#2894E4">SRSF2</text><text transform="translate(128.9 161.8) rotate(54.2)" dy="1.27" text-anchor="end">EXOSC</text><text transform="translate(133.3 158.7) rotate(55.6)" dy="1.27" text-anchor="end" fill="#CC1818">PTPRT</text><text transform="translate(137.9 155.6) rotate(57)" dy="1.27" text-anchor="end">FAM5C</text><text transform="translate(142.5 152.7) rotate(58.3)" dy="1.27" text-anchor="end">MEF2C</text><text transform="translate(147.2 149.9) rotate(59.7)" dy="1.27" text-anchor="end">SETBP1</text><text transform="translate(152 147.2) rotate(61.1)" dy="1.27" text-anchor="end">KCNQ3</text><text transform="translate(156.8 144.6) rotate(62.5)" dy="1.27" text-anchor="end">SFRP4</text><text transform="translate(161.7 142.1) rotate(63.9)" dy="1.27" text-anchor="end">FAM5B</text><text transform="translate(166.7 139.7) rotate(65.2)" dy="1.27" text-anchor="end">MUC3</text><text transform="translate(171.7 137.5) rotate(66.6)" dy="1.27" text-anchor="end">DNAH5</text><text transform="translate(176.7 135.4) rotate(68)" dy="1.27" text-anchor="end">DSCAM</text><text transform="translate(181.8 133.4) rotate(69.4)" dy="1.27" text-anchor="end">SPEN</text><text transform="translate(187 131.5) rotate(70.8)" dy="1.27" text-anchor="end">DCHS1</text><text transform="translate(192.2 129.8) rotate(72.1)" dy="1.27" text-anchor="end">RNF43</text><text transform="translate(197.4 128.2) rotate(73.5)" dy="1.27" text-anchor="end">SYNE1</text><text transform="translate(202.7 126.7) rotate(74.9)" dy="1.27" text-anchor="end">NPC1</text><text transform="translate(208 125.3) rotate(76.3)" dy="1.27" text-anchor="end">C3</text><text transform="translate(213.3 124.1) rotate(77.6)" dy="1.27" text-anchor="end">DSPP</text><text transform="translate(218.7 123) rotate(79)" dy="1.27" text-anchor="end">TRIO</text><text transform="translate(224.1 122) rotate(80.4)" dy="1.27" text-anchor="end" fill="#CC1818">DNTT3</text><text transform="translate(229.5 121.1) rotate(81.8)" dy="1.27" text-anchor="end" fill="#2894E4">CASR</text><text transform="translate(234.9 120.4) rotate(83.2)" dy="1.27" text-anchor="end">ZHX2</text><text transform="translate(240.4 119.8) rotate(84.5)" dy="1.27" text-anchor="end">MUC5B</text><text transform="translate(245.8 119.4) rotate(85.9)" dy="1.27" text-anchor="end" fill="#2894E4">SPEN</text></g>
<g font-size="7.7" fill="#161616" stroke="#161616" stroke-width="0.12" text-anchor="middle"><text transform="translate(451.7 169.8) rotate(47) scale(0.9 1)">c</text><text transform="translate(454.2 172.5) rotate(47.9) scale(0.9 1)">a</text><text transform="translate(456 174.5) rotate(48.5) scale(0.9 1)">l</text><text transform="translate(457 175.6) rotate(48.8) scale(0.9 1)">l</text><text transform="translate(458.8 177.7) rotate(49.4) scale(0.9 1)">e</text><text transform="translate(461.3 180.6) rotate(50.2) scale(0.9 1)">d</text><text transform="translate(467.7 188.7) rotate(52.5) scale(0.9 1)">i</text><text transform="translate(469.3 190.8) rotate(53.1) scale(0.9 1)">n</text><text transform="translate(476 200.1) rotate(55.6) scale(0.9 1)">a</text><text transform="translate(477.5 202.4) rotate(56.2) scale(0.9 1)">l</text><text transform="translate(478.3 203.6) rotate(56.6) scale(0.9 1)">l</text><text transform="translate(483.7 212.2) rotate(58.8) scale(0.9 1)">s</text><text transform="translate(485.6 215.3) rotate(59.6) scale(0.9 1)">a</text><text transform="translate(488 219.5) rotate(60.7) scale(0.9 1)">m</text><text transform="translate(490.3 223.7) rotate(61.8) scale(0.9 1)">p</text><text transform="translate(491.6 226.1) rotate(62.3) scale(0.9 1)">l</text><text transform="translate(492.8 228.5) rotate(62.9) scale(0.9 1)">e</text><text transform="translate(494.5 231.8) rotate(63.8) scale(0.9 1)">s</text><text transform="translate(419.2 562.5) rotate(-36) scale(0.9 1)">c</text><text transform="translate(422.1 560.3) rotate(-36.8) scale(0.9 1)">a</text><text transform="translate(424.3 558.7) rotate(-37.4) scale(0.9 1)">l</text><text transform="translate(425.5 557.8) rotate(-37.7) scale(0.9 1)">l</text><text transform="translate(427.6 556.1) rotate(-38.3) scale(0.9 1)">e</text><text transform="translate(430.6 553.7) rotate(-39.1) scale(0.9 1)">d</text><text transform="translate(438.5 547) rotate(-41.3) scale(0.9 1)">i</text><text transform="translate(440.5 545.2) rotate(-41.9) scale(0.9 1)">n</text><text transform="translate(448.8 537.4) rotate(-44.4) scale(0.9 1)">3</text><text transform="translate(456.7 529.4) rotate(-46.8) scale(0.9 1)">s</text><text transform="translate(459.2 526.7) rotate(-47.6) scale(0.9 1)">a</text><text transform="translate(462.4 523.1) rotate(-48.6) scale(0.9 1)">m</text><text transform="translate(465.6 519.5) rotate(-49.6) scale(0.9 1)">p</text><text transform="translate(467.3 517.4) rotate(-50.2) scale(0.9 1)">l</text><text transform="translate(469 515.3) rotate(-50.8) scale(0.9 1)">e</text><text transform="translate(471.3 512.5) rotate(-51.6) scale(0.9 1)">s</text><text transform="translate(271.5 613.4) rotate(-2) scale(0.9 1)">c</text><text transform="translate(275.1 613.3) rotate(-2.8) scale(0.9 1)">a</text><text transform="translate(277.8 613.1) rotate(-3.4) scale(0.9 1)">l</text><text transform="translate(279.3 613) rotate(-3.7) scale(0.9 1)">l</text><text transform="translate(282 612.8) rotate(-4.3) scale(0.9 1)">e</text><text transform="translate(285.9 612.5) rotate(-5.1) scale(0.9 1)">d</text><text transform="translate(296.1 611.4) rotate(-7.3) scale(0.9 1)">i</text><text transform="translate(298.8 611.1) rotate(-7.9) scale(0.9 1)">n</text><text transform="translate(310.1 609.2) rotate(-10.4) scale(0.9 1)">2</text><text transform="translate(321.1 607) rotate(-12.8) scale(0.9 1)">s</text><text transform="translate(324.7 606.1) rotate(-13.6) scale(0.9 1)">a</text><text transform="translate(329.3 605) rotate(-14.6) scale(0.9 1)">m</text><text transform="translate(334 603.7) rotate(-15.6) scale(0.9 1)">p</text><text transform="translate(336.6 603) rotate(-16.2) scale(0.9 1)">l</text><text transform="translate(339.2 602.2) rotate(-16.8) scale(0.9 1)">e</text><text transform="translate(342.7 601.1) rotate(-17.6) scale(0.9 1)">s</text><text transform="translate(111 566.9) rotate(34.4) scale(0.9 1)">c</text><text transform="translate(114.1 568.9) rotate(33.6) scale(0.9 1)">a</text><text transform="translate(116.3 570.4) rotate(33) scale(0.9 1)">l</text><text transform="translate(117.6 571.2) rotate(32.7) scale(0.9 1)">l</text><text transform="translate(119.9 572.7) rotate(32.1) scale(0.9 1)">e</text><text transform="translate(123.2 574.7) rotate(31.3) scale(0.9 1)">d</text><text transform="translate(132.1 579.9) rotate(29.1) scale(0.9 1)">i</text><text transform="translate(134.4 581.2) rotate(28.5) scale(0.9 1)">n</text><text transform="translate(144.6 586.4) rotate(26.1) scale(0.9 1)">1</text><text transform="translate(154.8 591.2) rotate(23.6) scale(0.9 1)">s</text><text transform="translate(158.2 592.6) rotate(22.9) scale(0.9 1)">a</text><text transform="translate(162.6 594.4) rotate(21.8) scale(0.9 1)">m</text><text transform="translate(167.1 596.2) rotate(20.8) scale(0.9 1)">p</text><text transform="translate(169.7 597.1) rotate(20.2) scale(0.9 1)">l</text><text transform="translate(172.2 598.1) rotate(19.6) scale(0.9 1)">e</text><text transform="translate(11.9 278.3) rotate(285.2) scale(0.9 1)">n</text><text transform="translate(12.9 274.6) rotate(286.1) scale(0.9 1)">o</text><text transform="translate(16.3 263.7) rotate(288.6) scale(0.9 1)">b</text><text transform="translate(17.6 260.1) rotate(289.5) scale(0.9 1)">u</text><text transform="translate(18.8 256.6) rotate(290.3) scale(0.9 1)">c</text><text transform="translate(20.1 253.4) rotate(291) scale(0.9 1)">c</text><text transform="translate(21.4 250) rotate(291.8) scale(0.9 1)">a</text><text transform="translate(22.4 247.5) rotate(292.4) scale(0.9 1)">l</text><text transform="translate(26.5 238.2) rotate(294.7) scale(0.9 1)">s</text><text transform="translate(28.3 234.4) rotate(295.6) scale(0.9 1)">w</text><text transform="translate(30.2 230.4) rotate(296.6) scale(0.9 1)">a</text><text transform="translate(32 227) rotate(297.4) scale(0.9 1)">b</text><text transform="translate(33.7 223.7) rotate(298.2) scale(0.9 1)">s</text><text transform="translate(39.1 214.1) rotate(300.7) scale(0.9 1)">s</text><text transform="translate(41 211) rotate(301.5) scale(0.9 1)">e</text><text transform="translate(43 207.7) rotate(302.4) scale(0.9 1)">q</text><text transform="translate(45.1 204.5) rotate(303.2) scale(0.9 1)">u</text><text transform="translate(47.3 201.2) rotate(304.1) scale(0.9 1)">e</text><text transform="translate(49.4 198.1) rotate(304.9) scale(0.9 1)">n</text><text transform="translate(51.6 195.1) rotate(305.7) scale(0.9 1)">c</text><text transform="translate(53.7 192.1) rotate(306.5) scale(0.9 1)">e</text><text transform="translate(56 189) rotate(307.4) scale(0.9 1)">d</text></g></g>
</svg>
<div class="bd" style="left:0;top:0;width:520px;height:1px"></div>
<div class="bd" style="left:0;top:0;width:1px;height:622px"></div>
<div class="bd" style="left:518px;top:0;width:1px;height:622px;background:#777"></div>
<div class="bd" style="left:519px;top:0;width:1px;height:622px"></div>
<div class="bd" style="left:0;top:620px;width:520px;height:1px;background:#999"></div>
<div class="bd" style="left:0;top:621px;width:520px;height:1px"></div>
</body></html>
